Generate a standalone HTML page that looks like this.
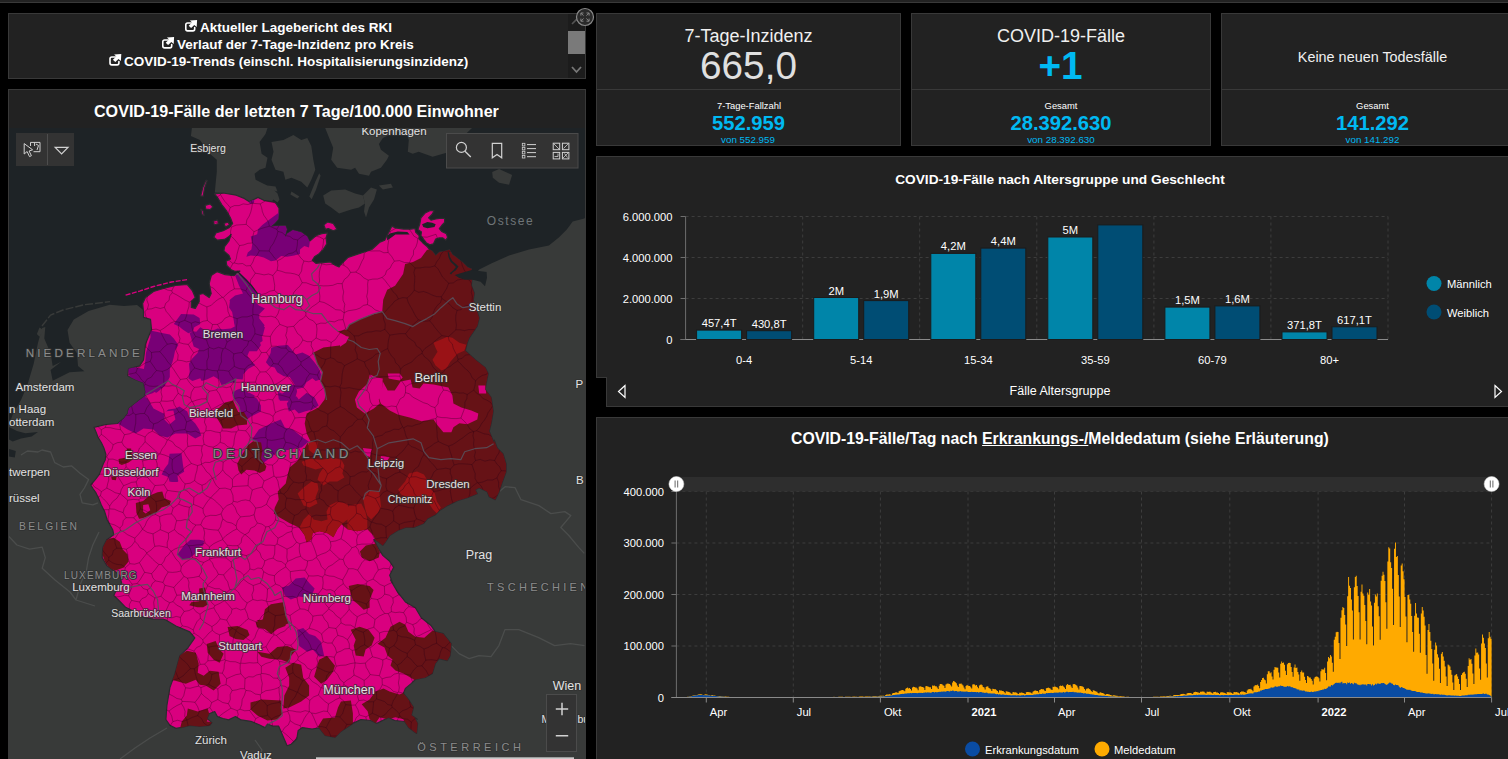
<!DOCTYPE html>
<html lang="de">
<head>
<meta charset="utf-8">
<title>COVID-19 Dashboard</title>
<style>
html,body{margin:0;padding:0;background:#000;}
body{width:1508px;height:759px;overflow:hidden;position:relative;font-family:"Liberation Sans",sans-serif;color:#fff;}
.abs{position:absolute;}
.panel{position:absolute;background:#222;border:1px solid #393939;box-sizing:border-box;}
.t{position:absolute;white-space:nowrap;line-height:1;}
.c{transform:translateX(-50%);}
.cy{color:#00b9f2;}
svg{position:absolute;left:0;top:0;overflow:visible;}
svg text{font-family:"Liberation Sans",sans-serif;}
</style>
</head>
<body>
<!-- top strip -->
<div class="abs" style="left:0;top:0;width:1508px;height:2px;background:#222;"></div>
<div class="abs" style="left:0;top:2px;width:1508px;height:1px;background:#393939;"></div>

<!-- ===== links panel ===== -->
<div class="panel" id="p-links" style="left:8px;top:13px;width:578px;height:66px;"></div>
<div class="abs" style="left:568px;top:14px;width:17px;height:64px;background:#1c1c1c;"></div>
<div class="abs" style="left:568px;top:31px;width:17px;height:23px;background:#7a7a7a;"></div>
<svg width="1508" height="759" id="ic-top">
  <path d="M572 24 L576.5 19.5 L581 24" fill="none" stroke="#555" stroke-width="1.6"/>
  <path d="M572 67 L576.5 72 L581 67" fill="none" stroke="#777" stroke-width="1.8"/>
  <circle cx="585" cy="17" r="8.5" fill="#2a2a2a" stroke="#8a8a8a" stroke-width="1.2"/>
  <path d="M580.9 15.6V13H583.5M586.5 13H589.1V15.6M589.1 18.6V21.2H586.5M583.5 21.2H580.9V18.6M581.2 13.3L583.6 15.7M588.8 13.3L586.4 15.7M588.8 20.9L586.4 18.5M581.2 20.9L583.6 18.5" fill="none" stroke="#8f8f8f" stroke-width="0.9"/>
</svg>
<svg width="1508" height="759" id="ic-links">
  <defs><g id="ext">
    <path d="M191.5 23H187.6Q185.8 23 185.8 24.8V29.1Q185.8 30.9 187.6 30.9H192.9Q194.7 30.9 194.7 29.1V27.6" fill="none" stroke="#fff" stroke-width="1.6" stroke-linecap="round"/>
    <path d="M189.9 20.4L197.1 20L196.7 27.1L194.3 24.9L191.1 27.9L188.7 25.7L192.1 22.6Z" fill="#fff"/>
  </g></defs>
  <use href="#ext"/><use href="#ext" x="-23" y="17"/><use href="#ext" x="-75.8" y="34"/>
</svg>
<div class="t" id="l1" style="left:200px;top:20.5px;font-size:13.5px;font-weight:bold;">Aktueller Lagebericht des RKI</div>
<div class="t" id="l2" style="left:177px;top:37.5px;font-size:13.5px;font-weight:bold;">Verlauf der 7-Tage-Inzidenz pro Kreis</div>
<div class="t" id="l3" style="left:124px;top:54.5px;font-size:13.5px;font-weight:bold;">COVID-19-Trends (einschl. Hospitalisierungsinzidenz)</div>

<!-- ===== map panel ===== -->
<div class="panel" id="p-map" style="left:8px;top:89px;width:578px;height:680px;"></div>
<div class="t" id="maptitle" style="left:94px;top:103px;font-size:16.1px;font-weight:bold;">COVID-19-Fälle der letzten 7 Tage/100.000 Einwohner</div>
<div class="abs" id="map" style="left:9px;top:128px;width:576px;height:631px;background:#383a39;overflow:hidden;">
<svg width="576" height="631" viewBox="0 0 576 631">
<defs><clipPath id="de"><path d="M205.5 65.8L208.4 69.4L212.7 76.6L217.8 83.2L221.4 89.7L223.6 95.5L220.0 99.8L214.2 102.7L206.9 104.9L204.8 109.2L208.4 112.1L215.6 111.4L220.0 108.5L222.2 106.3L220.0 112.9L215.6 118.7L214.9 123.0L220.0 127.4L221.4 131.0L217.1 133.2L217.8 137.5L222.2 141.9L225.8 143.3L230.9 143.0L225.1 147.6L216.1 146.6L208.2 143.6L202.2 147.6L200.2 155.5L202.2 165.5L200.2 169.5L194.2 165.5L190.2 166.5L190.2 173.5L186.3 180.4L182.3 179.4L182.3 173.5L186.3 169.5L183.3 162.5L178.3 156.5L166.4 157.5L154.4 160.5L144.5 163.5L136.5 169.5L133.6 175.4L134.5 183.4L134.5 189.4L141.5 191.4L142.5 201.3L136.5 215.9L134.5 231.8L130.6 237.8L119.6 240.8L118.6 247.8L126.6 251.7L134.5 254.7L136.5 263.7L135.5 268.6L128.6 273.6L119.6 280.6L118.6 285.5L114.7 290.5L108.7 295.5L96.8 296.5L85.0 299.3L87.0 303.9L89.0 309.2L92.3 314.5L94.9 319.9L96.9 326.5L96.3 331.8L94.3 335.8L92.3 341.1L90.3 346.4L86.3 351.7L81.7 357.0L84.3 361.0L87.0 364.9L89.6 370.2L92.3 376.9L95.6 383.5L98.2 392.0L103.7 401.7L104.7 406.7L97.7 411.7L93.8 419.6L93.2 429.6L97.7 437.5L104.7 442.5L110.7 447.5L112.7 455.4L106.7 463.4L104.7 467.4L110.7 473.3L116.6 479.3L124.6 483.3L134.5 489.3L144.5 491.2L154.4 491.2L156.9 492.0L166.9 498.0L180.8 503.9L185.8 509.9L178.8 519.8L170.8 527.8L165.9 545.7L160.9 559.6L157.9 577.5L156.9 591.5L160.9 597.4L166.9 600.4L172.8 599.4L180.8 597.4L190.7 598.4L200.7 597.4L202.9 594.6L198.1 590.5L200.1 585.7L205.7 583.5L208.4 588.5L214.0 590.5L219.6 591.9L226.5 588.5L232.1 591.9L241.9 593.3L250.2 596.8L255.8 599.6L258.6 596.0L264.1 598.2L269.7 598.2L273.9 608.0L278.1 617.7L282.2 616.3L287.8 610.8L289.2 602.4L293.4 599.6L303.1 601.0L310.1 599.8L316.1 607.4L326.0 609.4L332.0 603.4L343.9 595.4L351.9 591.5L361.8 592.5L367.8 595.4L379.7 589.5L385.7 592.5L395.6 593.5L399.6 599.4L407.6 605.4L408.6 595.4L405.6 589.5L408.4 591.2L402.4 587.3L404.4 579.3L399.4 571.4L394.4 565.4L396.4 560.4L402.4 555.4L406.4 551.5L416.3 549.5L423.3 545.5L426.3 535.5L430.2 530.6L438.2 532.6L441.2 527.6L442.2 515.7L434.2 505.7L426.3 503.7L422.3 497.8L412.3 489.8L406.4 479.8L396.4 473.9L388.5 463.9L381.5 452.0L383.7 455.2L380.7 447.3L384.7 439.3L380.7 433.3L373.8 427.4L368.8 419.4L364.8 411.5L368.8 413.5L373.8 417.4L376.8 413.5L380.7 407.5L388.7 402.5L396.6 399.5L404.6 399.5L414.5 395.5L418.5 390.6L426.5 386.6L430.5 382.6L438.4 377.6L448.4 372.7L458.3 369.7L468.3 365.7L466.3 361.7L470.2 359.7L478.2 363.7L480.2 368.7L486.2 371.7L490.1 363.7L493.1 354.8L497.1 343.8L497.1 335.9L494.1 325.9L488.2 320.0L485.2 312.0L485.2 315.2L480.2 303.3L482.2 295.3L484.2 283.4L482.2 269.5L476.2 261.5L477.2 255.5L479.2 245.6L476.2 239.6L466.3 231.7L456.3 222.7L458.3 214.8L460.3 209.8L468.3 197.9L470.2 189.9L464.3 172.0L465.3 165.2L462.3 157.3L463.3 149.3L462.9 144.3L462.3 140.8L458.8 139.6L454.0 134.8L448.1 130.1L443.3 126.5L440.4 121.8L436.2 123.0L430.3 124.2L426.7 127.7L423.2 123.0L420.8 121.8L418.4 118.8L413.7 114.7L410.1 111.1L410.1 107.6L406.6 104.0L406.0 100.5L401.8 101.1L394.7 101.1L386.4 99.9L382.9 98.1L378.1 107.6L375.7 112.3L371.0 114.1L362.8 121.5L350.9 125.4L339.0 129.4L331.0 137.4L330.1 139.0L326.5 137.5L321.4 133.9L314.2 134.6L306.9 135.3L303.3 132.4L305.5 128.8L309.8 125.9L314.2 121.6L317.8 115.8L317.1 110.0L318.5 104.9L312.7 105.6L306.9 107.8L301.1 112.9L300.4 112.9L298.2 108.5L292.4 104.2L283.8 102.0L278.0 105.6L275.8 109.2L278.0 101.3L276.5 97.7L269.3 97.7L262.0 98.4L265.6 95.5L269.3 91.1L270.0 84.6L270.0 80.3L266.4 74.5L263.5 73.7L254.8 72.3L249.0 69.4L243.2 72.3L240.3 73.7L234.5 70.1L227.2 67.2L214.2 65.0ZM410.7 96.3L411.9 89.8L416.1 85.0L420.8 82.7L425.0 82.7L423.2 86.2L419.6 89.8L422.0 92.2L426.7 91.0L430.3 90.4L435.6 90.4L435.6 94.5L432.7 97.5L430.3 100.5L432.7 103.4L437.4 105.8L438.6 109.4L436.8 112.3L433.8 109.9L430.3 109.9L426.7 111.1L424.4 115.9L420.8 116.8L417.2 114.7L414.9 111.7L411.9 107.6L412.5 104.0L408.9 101.6ZM314.9 96.9L318.5 94.0L324.3 95.5L328.0 101.3L324.3 102.7L319.3 100.6L316.4 101.3ZM191.7 67.9L193.9 59.2L197.1 52.0L198.2 52.6L195.6 60.0L194.2 68.2ZM196.1 77.4L201.1 75.9L204.0 78.8L201.1 81.7L196.8 81.0ZM191.7 81.0L193.9 82.4L195.3 87.5L193.2 86.8ZM204.0 93.3L208.4 91.9L209.8 95.5L205.5 96.9ZM214.9 95.5L219.3 94.0L220.7 96.9L216.4 99.1Z"/></clipPath></defs>
<path d="M0.0 0.0L182.9 -0.0L181.9 7.9L190.9 11.9L200.8 25.8L207.8 31.8L207.8 43.7L206.8 53.7L205.8 64.6L213.0 65.0L223.0 87.0L237.0 134.0L229.0 162.0L207.0 175.0L191.0 188.0L177.0 185.0L151.0 178.0L134.6 182.3L128.0 177.0L115.0 178.0L100.7 176.8L79.6 183.1L64.8 191.5L58.5 202.1L60.6 214.7L68.0 225.3L69.0 237.9L75.4 243.2L60.6 244.2L43.7 252.7L41.6 242.1L52.2 233.7L43.7 237.9L41.6 225.3L35.3 210.5L36.3 198.9L33.2 200.0L29.0 214.7L24.7 235.8L18.4 256.9L12.1 271.7L3.7 286.4L0.0 297.0Z" fill="#1e2326"/>
<path d="M264.5 71.6L268.5 74.6L270.5 71.6L268.5 65.6L262.5 59.6L254.5 55.7L246.6 51.7L245.6 45.7L250.6 41.7L256.5 39.7L258.5 29.8L252.6 25.8L250.6 13.9L256.5 5.9L258.5 -0.0L576.0 0.0L576.0 90.0L575.3 90.6L563.7 93.6L557.8 101.6L549.8 109.5L539.9 117.5L520.0 121.5L500.1 127.4L482.2 135.4L470.2 141.4L463.3 149.3L451.0 157.0L391.0 162.0L321.0 152.0L291.0 137.0L281.0 112.0L263.0 100.0L259.0 77.0Z" fill="#1e2326"/>
<path d="M262.5 13.9L274.4 11.9L284.4 6.9L292.3 11.9L298.3 9.9L302.3 17.9L304.3 31.8L306.3 41.7L302.3 51.7L298.3 59.6L292.3 53.7L282.4 49.7L276.4 51.7L274.4 43.7L266.5 41.7L262.5 31.8L264.5 23.8Z" fill="#383a39"/>
<path d="M300.3 68.6L306.3 53.7L310.2 45.3L311.6 47.7L307.1 61.6L302.7 71.2Z" fill="#383a39"/>
<path d="M258.5 57.6L266.5 58.6L268.5 63.6L260.5 61.6Z" fill="#383a39"/>
<path d="M282.4 63.6L290.4 68.6L288.4 70.6L281.4 66.6Z" fill="#383a39"/>
<path d="M316.2 -0.0L320.2 9.9L324.2 19.8L322.2 31.8L328.2 39.7L342.1 41.7L346.1 39.7L350.0 45.7L360.0 47.7L362.0 43.7L371.9 39.7L377.9 31.8L379.9 27.8L371.9 21.8L369.9 15.9L373.9 9.9L381.9 5.9L389.8 3.9L395.8 -0.0Z" fill="#383a39"/>
<path d="M395.8 -0.0L399.8 11.9L398.8 23.8L403.7 25.8L409.7 23.8L423.6 28.8L437.6 24.8L443.0 19.0L463.0 0.0Z" fill="#383a39"/>
<path d="M314.2 67.6L322.2 62.6L336.1 61.6L346.1 65.6L354.0 67.6L356.0 75.5L350.0 79.5L342.1 81.5L330.1 85.5L322.2 79.5L316.2 75.5Z" fill="#383a39"/>
<path d="M354.0 67.6L362.0 59.6L367.9 61.6L365.0 71.6L360.0 79.5L357.0 89.5L355.0 83.5L356.0 75.5Z" fill="#383a39"/>
<path d="M369.9 57.6L381.9 55.7L383.9 59.6L373.9 61.6Z" fill="#383a39"/>
<path d="M483.2 43.9L490.1 40.9L503.1 46.9L500.1 56.8L490.1 54.8L483.8 49.8Z" fill="#383a39"/>
<path d="M442.2 517.6L450.1 525.6L460.1 530.6L470.0 527.6L482.0 528.6L489.9 517.6L495.9 501.7L509.8 501.7L529.7 509.7L545.6 517.6L561.5 515.7L575.5 517.6M490.1 363.7L496.1 358.7L506.1 359.7L512.0 371.7L529.9 377.6L541.9 385.6L555.8 383.6L561.8 387.6L551.8 399.5L559.8 407.5L569.7 419.4L575.3 425.4M12.0 327.0L18.4 323.0L29.0 324.0L33.0 322.0L41.6 324.0L45.8 334.7L54.3 339.0L62.7 337.9L71.0 345.3L79.6 351.6L75.4 360.0L71.0 366.3L73.2 374.8L83.8 376.9L89.0 374.8M90.0 404.0L83.8 417.0L79.6 429.6L77.5 442.0L71.0 457.0L67.0 472.0L86.0 478.0M-0.1 408.5L7.9 417.0L20.5 421.2L33.2 419.1L36.3 429.6L33.2 440.2L46.0 452.0L61.0 464.0L67.0 472.0M158.0 600.0L141.0 610.0L126.0 620.0L111.0 631.0M246.0 612.0L253.0 622.0L249.0 631.0" fill="none" stroke="#4b4d4c" stroke-width="1.3" stroke-linejoin="round"/>
<path d="M116.6 167.1L130.6 163.1L144.5 158.5L162.4 154.0L178.3 151.6" fill="none" stroke="#d9007f" stroke-width="1.4" stroke-dasharray="5 1.5"/><path d="M33.0 198.0L41.6 187.0L54.0 182.0L75.0 176.8L101.0 173.6" fill="none" stroke="#383a39" stroke-width="1.4" stroke-dasharray="8 2"/><path d="M30.5 199.4L34.5 202.1L30.5 208.7L27.9 206.0Z" fill="#383a39"/><path d="M-0.1 298.9L7.9 303.0L16.3 305.2L29.0 304.1L22.6 308.4L12.0 310.5L3.7 313.6L-0.1 311.5ZM-0.1 321.0L6.8 323.0L5.8 329.4L-0.1 328.4Z" fill="#1e2326"/>
<path d="M205.5 65.8L208.4 69.4L212.7 76.6L217.8 83.2L221.4 89.7L223.6 95.5L220.0 99.8L214.2 102.7L206.9 104.9L204.8 109.2L208.4 112.1L215.6 111.4L220.0 108.5L222.2 106.3L220.0 112.9L215.6 118.7L214.9 123.0L220.0 127.4L221.4 131.0L217.1 133.2L217.8 137.5L222.2 141.9L225.8 143.3L230.9 143.0L225.1 147.6L216.1 146.6L208.2 143.6L202.2 147.6L200.2 155.5L202.2 165.5L200.2 169.5L194.2 165.5L190.2 166.5L190.2 173.5L186.3 180.4L182.3 179.4L182.3 173.5L186.3 169.5L183.3 162.5L178.3 156.5L166.4 157.5L154.4 160.5L144.5 163.5L136.5 169.5L133.6 175.4L134.5 183.4L134.5 189.4L141.5 191.4L142.5 201.3L136.5 215.9L134.5 231.8L130.6 237.8L119.6 240.8L118.6 247.8L126.6 251.7L134.5 254.7L136.5 263.7L135.5 268.6L128.6 273.6L119.6 280.6L118.6 285.5L114.7 290.5L108.7 295.5L96.8 296.5L85.0 299.3L87.0 303.9L89.0 309.2L92.3 314.5L94.9 319.9L96.9 326.5L96.3 331.8L94.3 335.8L92.3 341.1L90.3 346.4L86.3 351.7L81.7 357.0L84.3 361.0L87.0 364.9L89.6 370.2L92.3 376.9L95.6 383.5L98.2 392.0L103.7 401.7L104.7 406.7L97.7 411.7L93.8 419.6L93.2 429.6L97.7 437.5L104.7 442.5L110.7 447.5L112.7 455.4L106.7 463.4L104.7 467.4L110.7 473.3L116.6 479.3L124.6 483.3L134.5 489.3L144.5 491.2L154.4 491.2L156.9 492.0L166.9 498.0L180.8 503.9L185.8 509.9L178.8 519.8L170.8 527.8L165.9 545.7L160.9 559.6L157.9 577.5L156.9 591.5L160.9 597.4L166.9 600.4L172.8 599.4L180.8 597.4L190.7 598.4L200.7 597.4L202.9 594.6L198.1 590.5L200.1 585.7L205.7 583.5L208.4 588.5L214.0 590.5L219.6 591.9L226.5 588.5L232.1 591.9L241.9 593.3L250.2 596.8L255.8 599.6L258.6 596.0L264.1 598.2L269.7 598.2L273.9 608.0L278.1 617.7L282.2 616.3L287.8 610.8L289.2 602.4L293.4 599.6L303.1 601.0L310.1 599.8L316.1 607.4L326.0 609.4L332.0 603.4L343.9 595.4L351.9 591.5L361.8 592.5L367.8 595.4L379.7 589.5L385.7 592.5L395.6 593.5L399.6 599.4L407.6 605.4L408.6 595.4L405.6 589.5L408.4 591.2L402.4 587.3L404.4 579.3L399.4 571.4L394.4 565.4L396.4 560.4L402.4 555.4L406.4 551.5L416.3 549.5L423.3 545.5L426.3 535.5L430.2 530.6L438.2 532.6L441.2 527.6L442.2 515.7L434.2 505.7L426.3 503.7L422.3 497.8L412.3 489.8L406.4 479.8L396.4 473.9L388.5 463.9L381.5 452.0L383.7 455.2L380.7 447.3L384.7 439.3L380.7 433.3L373.8 427.4L368.8 419.4L364.8 411.5L368.8 413.5L373.8 417.4L376.8 413.5L380.7 407.5L388.7 402.5L396.6 399.5L404.6 399.5L414.5 395.5L418.5 390.6L426.5 386.6L430.5 382.6L438.4 377.6L448.4 372.7L458.3 369.7L468.3 365.7L466.3 361.7L470.2 359.7L478.2 363.7L480.2 368.7L486.2 371.7L490.1 363.7L493.1 354.8L497.1 343.8L497.1 335.9L494.1 325.9L488.2 320.0L485.2 312.0L485.2 315.2L480.2 303.3L482.2 295.3L484.2 283.4L482.2 269.5L476.2 261.5L477.2 255.5L479.2 245.6L476.2 239.6L466.3 231.7L456.3 222.7L458.3 214.8L460.3 209.8L468.3 197.9L470.2 189.9L464.3 172.0L465.3 165.2L462.3 157.3L463.3 149.3L462.9 144.3L462.3 140.8L458.8 139.6L454.0 134.8L448.1 130.1L443.3 126.5L440.4 121.8L436.2 123.0L430.3 124.2L426.7 127.7L423.2 123.0L420.8 121.8L418.4 118.8L413.7 114.7L410.1 111.1L410.1 107.6L406.6 104.0L406.0 100.5L401.8 101.1L394.7 101.1L386.4 99.9L382.9 98.1L378.1 107.6L375.7 112.3L371.0 114.1L362.8 121.5L350.9 125.4L339.0 129.4L331.0 137.4L330.1 139.0L326.5 137.5L321.4 133.9L314.2 134.6L306.9 135.3L303.3 132.4L305.5 128.8L309.8 125.9L314.2 121.6L317.8 115.8L317.1 110.0L318.5 104.9L312.7 105.6L306.9 107.8L301.1 112.9L300.4 112.9L298.2 108.5L292.4 104.2L283.8 102.0L278.0 105.6L275.8 109.2L278.0 101.3L276.5 97.7L269.3 97.7L262.0 98.4L265.6 95.5L269.3 91.1L270.0 84.6L270.0 80.3L266.4 74.5L263.5 73.7L254.8 72.3L249.0 69.4L243.2 72.3L240.3 73.7L234.5 70.1L227.2 67.2L214.2 65.0ZM410.7 96.3L411.9 89.8L416.1 85.0L420.8 82.7L425.0 82.7L423.2 86.2L419.6 89.8L422.0 92.2L426.7 91.0L430.3 90.4L435.6 90.4L435.6 94.5L432.7 97.5L430.3 100.5L432.7 103.4L437.4 105.8L438.6 109.4L436.8 112.3L433.8 109.9L430.3 109.9L426.7 111.1L424.4 115.9L420.8 116.8L417.2 114.7L414.9 111.7L411.9 107.6L412.5 104.0L408.9 101.6ZM314.9 96.9L318.5 94.0L324.3 95.5L328.0 101.3L324.3 102.7L319.3 100.6L316.4 101.3ZM191.7 67.9L193.9 59.2L197.1 52.0L198.2 52.6L195.6 60.0L194.2 68.2ZM196.1 77.4L201.1 75.9L204.0 78.8L201.1 81.7L196.8 81.0ZM191.7 81.0L193.9 82.4L195.3 87.5L193.2 86.8ZM204.0 93.3L208.4 91.9L209.8 95.5L205.5 96.9ZM214.9 95.5L219.3 94.0L220.7 96.9L216.4 99.1Z" fill="#d9007f" stroke="#2a2d2e" stroke-width="1.2" stroke-linejoin="round"/>
<g clip-path="url(#de)">
<path d="M241.7 108.5L248.2 106.3L249.0 101.3L253.3 96.9L259.1 92.6L264.9 88.2L270.0 84.6L270.7 91.1L265.6 95.5L262.0 98.4L269.3 97.7L276.5 97.2L278.2 101.3L275.8 109.2L278.0 105.6L283.8 101.7L292.4 103.9L298.5 108.2L300.9 112.9L300.0 119.4L295.3 117.9L291.0 121.6L291.0 125.9L285.2 127.4L278.0 128.8L272.2 128.1L266.4 132.4L262.0 133.2L254.8 129.5L249.0 128.1L241.7 127.4L237.4 128.8L238.8 124.5L242.4 121.6L243.2 115.8ZM239.6 73.7L241.7 71.6L245.3 72.3L244.9 75.2L241.0 75.9ZM226.1 147.6L231.0 145.6L238.0 151.6L242.0 157.5L247.9 165.5L244.0 171.5L249.9 177.4L255.9 180.4L249.9 186.4L250.9 195.3L255.9 199.3L253.9 207.3L249.9 211.2L251.9 217.2L247.9 223.2L226.1 223.2L224.1 211.2L226.1 199.3L225.1 195.3L224.1 185.4L220.1 179.4L221.1 171.5L226.1 167.5L234.0 165.5L230.0 157.5ZM164.8 195.9L172.1 185.9L184.7 186.6L190.6 189.9L191.3 195.9L185.3 199.2L184.0 203.2L179.4 205.2L174.1 201.8L170.1 198.5ZM121.0 250.2L127.6 251.6L134.3 254.2L140.9 256.9L144.9 264.8L136.9 267.5L134.3 272.8L121.0 272.8ZM140.9 202.5L147.5 203.8L154.2 205.2L160.8 206.5L164.8 210.5L169.4 217.1L166.1 222.4L164.8 229.0L163.4 234.3L160.8 241.0L160.8 248.9L159.5 251.6L155.5 258.2L147.5 264.8L143.5 263.5L140.9 256.9L134.3 254.2L127.6 251.6L121.0 250.2L118.3 239.0L127.6 239.6L134.9 241.0L136.3 233.0L136.9 225.1L139.6 215.8L141.6 209.1ZM180.7 205.2L184.0 203.2L187.3 203.8L191.3 199.2L195.3 201.8L200.6 202.5L205.9 201.8L208.5 200.5L213.8 201.2L221.8 200.5L225.8 198.5L224.4 190.6L223.1 183.9L221.8 177.3L220.5 172.0L244.3 172.0L248.3 178.6L255.0 181.3L250.3 185.3L250.3 190.6L255.6 197.2L252.3 202.5L253.6 213.1L248.3 216.4L243.0 214.4L244.3 218.4L240.4 223.1L238.4 227.7L241.0 231.7L246.3 237.0L239.0 241.0L234.4 246.3L233.7 251.6L227.1 250.9L225.8 254.2L219.1 255.6L212.5 256.9L209.9 251.6L204.6 248.3L197.9 251.6L192.6 252.9L191.3 250.2L183.3 252.9L179.4 250.2L180.7 243.6L180.0 235.7L183.3 230.4L188.6 225.1L190.0 221.1L184.7 218.4L182.7 211.8ZM135.5 268.6L138.5 270.6L144.5 280.6L154.4 285.5L159.4 281.6L166.4 280.6L170.4 278.6L178.3 283.6L180.3 289.5L186.3 295.5L190.2 301.5L192.2 307.4L186.3 310.4L178.3 305.4L166.4 305.4L158.4 309.4L150.5 307.4L144.5 301.5L134.5 300.5L126.6 305.4L118.6 301.5L108.7 295.5L114.7 290.5L118.6 285.5L119.6 280.6L128.6 273.6ZM224.1 265.7L228.0 261.7L234.0 259.7L242.0 267.6L247.9 270.6L251.9 277.6L251.9 283.6L242.0 288.5L238.0 291.5L232.0 285.5L230.0 277.6L226.1 271.6ZM256.9 234.3L261.6 225.1L262.2 219.7L269.5 217.8L278.8 217.1L283.5 222.4L286.8 226.4L293.4 224.4L300.0 227.7L305.4 234.3L309.3 239.6L312.0 246.3L311.3 251.6L306.7 252.9L303.4 250.2L297.4 254.2L294.7 259.5L288.1 260.9L284.1 254.2L280.8 248.9L274.8 248.3L268.2 244.3L265.6 239.6L260.3 238.3ZM223.1 264.8L227.1 262.2L232.4 263.5L240.4 264.8L245.7 267.5L244.3 272.8L225.8 272.8ZM269.5 267.5L274.8 264.8L281.5 256.9L286.8 256.9L288.1 263.5L285.5 272.8L270.9 272.8ZM277.8 275.6L281.8 269.6L287.7 268.6L289.7 271.6L297.7 264.7L305.6 269.6L309.6 277.6L303.6 281.6L295.7 283.6L289.7 285.5L285.7 281.6L279.8 283.6ZM268.8 263.7L277.8 267.6L276.8 272.6L269.8 271.6ZM243.0 311.4L249.9 301.5L261.9 295.5L271.8 291.5L275.8 299.5L283.7 301.5L293.7 309.4L299.7 313.4L292.7 319.4L281.8 321.4L269.8 323.3L261.9 329.3L253.9 335.3L249.9 331.3L249.9 321.4L246.9 313.4ZM160.6 325.8L172.5 325.2L173.8 335.8L175.2 343.7L168.5 347.7L169.2 353.7L160.6 353.7L159.2 349.0L152.6 346.4L155.3 341.1L159.2 335.8ZM168.4 426.6L174.3 418.6L181.3 411.7L190.2 411.7L195.2 412.7L194.2 417.6L188.3 419.6L186.3 425.6L180.3 430.6L173.3 431.6ZM272.8 459.4L279.8 457.4L286.7 450.5L295.7 449.5L300.7 455.4L305.6 460.4L303.6 465.4L297.7 469.4L289.7 468.4L281.8 471.4L275.8 467.4ZM288.2 501.9L294.2 500.0L300.1 505.9L306.1 507.9L312.1 513.9L315.1 527.8L310.1 528.8L304.1 521.8L298.2 523.8L290.2 517.9L289.2 509.9ZM161.4 352.0L169.4 352.0L168.4 354.0L162.4 354.0Z" fill="#780076"/>
<path d="M417.9 122.0L412.0 130.0L404.0 133.9L396.1 135.9L394.1 145.9L386.1 157.8L378.2 161.8L374.2 171.7L373.2 183.7L366.2 185.7L360.2 187.6L350.3 191.6L340.4 196.6L337.4 201.6L328.4 203.6L336.4 207.5L338.4 211.5L330.4 217.5L314.5 219.5L304.5 224.4L308.5 236.4L313.5 244.3L311.5 253.3L315.5 261.2L317.5 272.0L317.6 261.7L315.6 271.6L309.6 279.6L297.7 285.5L295.7 295.5L297.7 305.4L301.6 313.4L299.7 317.4L298.6 314.8L288.6 332.7L280.7 339.6L278.7 346.6L276.7 355.5L268.7 363.5L269.7 371.5L265.8 379.4L264.8 385.4L270.7 389.4L280.7 395.3L289.6 399.3L295.6 407.3L297.6 414.2L302.6 411.2L303.6 405.3L310.5 403.3L318.5 405.3L324.4 409.3L328.4 401.3L332.4 396.3L338.4 401.3L348.3 403.3L358.3 401.3L364.2 407.3L368.2 415.2L369.2 423.2L364.8 411.5L368.8 419.4L382.7 423.4L511.0 432.0L591.0 372.0L591.0 52.0L491.0 72.0L461.0 112.0ZM208.2 281.6L216.1 274.6L224.1 272.6L227.0 279.6L231.0 287.5L238.0 292.5L238.0 296.5L228.0 297.5L222.1 300.5L214.1 300.5L210.1 293.5L206.2 287.5ZM109.5 331.1L116.1 329.8L118.1 320.5L122.1 320.5L123.4 331.8L119.5 334.4L112.8 337.1L110.2 335.8ZM102.2 348.4L107.5 349.0L106.9 352.3L102.9 351.7ZM228.2 335.8L230.9 330.5L238.8 317.2L244.1 313.2L252.1 314.5L253.4 322.5L252.1 330.5L257.4 338.4L256.1 342.4L250.8 345.1L245.5 342.4L237.5 341.7L232.2 346.4L229.5 342.4ZM126.8 374.9L134.1 372.9L140.7 367.6L148.6 364.3L153.3 363.6L155.3 370.2L161.9 372.9L160.6 376.9L152.6 379.5L147.3 384.8L140.7 387.5L134.1 390.1L130.1 390.8L127.4 384.8ZM97.7 411.7L104.7 409.7L110.7 413.7L113.7 421.6L118.6 426.6L119.6 433.6L114.7 439.5L106.7 442.5L100.7 440.5L95.8 433.6L93.2 425.6L94.4 417.6ZM190.2 460.4L196.2 459.4L197.2 471.4L199.2 476.3L194.2 479.3L188.3 479.3L180.3 477.3L182.3 474.3L190.2 473.3ZM255.9 481.3L261.9 476.3L273.8 474.3L276.8 487.3L279.8 495.2L269.8 499.2L259.9 502.0L247.9 499.2L246.9 494.2L253.9 491.2ZM350.9 423.4L356.9 417.4L366.8 415.4L370.8 423.4L369.8 429.4L360.8 433.3L352.9 429.4ZM339.7 458.0L348.7 456.0L360.6 458.0L364.6 461.9L360.6 471.9L360.6 479.8L354.7 481.8L348.7 475.9L343.7 471.9L341.7 465.9ZM341.7 501.7L350.7 498.7L359.6 501.7L365.6 509.7L362.6 517.6L356.6 521.6L354.7 528.6L346.7 527.6L344.7 517.6L346.7 511.7ZM368.6 515.7L376.5 509.7L381.5 498.7L390.5 493.8L396.4 496.8L399.4 503.7L406.4 508.7L415.3 509.7L423.3 502.7L434.2 504.7L446.2 515.7L445.2 527.6L439.2 534.6L430.2 531.6L427.3 536.5L424.3 546.5L416.3 550.5L406.4 552.5L401.4 549.5L394.4 545.5L386.5 542.5L381.5 537.5L383.5 531.6L378.5 527.6L375.5 519.6ZM352.7 576.3L360.6 571.4L366.6 563.4L374.5 560.4L380.5 563.4L390.5 566.4L395.4 564.4L402.4 571.4L408.4 579.3L406.4 587.3L412.3 591.2L412.3 607.2L396.4 607.2L396.4 597.2L394.4 591.2L386.5 589.3L378.5 591.2L370.6 589.3L366.6 595.2L360.6 591.2L358.6 583.3ZM309.1 598.4L314.1 590.5L326.0 589.5L329.0 579.5L332.0 573.6L341.9 572.6L343.9 585.5L343.9 595.4L334.0 605.4L326.0 613.3L316.1 611.4ZM305.1 548.7L310.1 531.8L318.0 527.8L326.0 537.8L324.0 543.7L318.0 551.7L312.1 555.7ZM276.3 539.7L284.2 534.8L292.2 536.8L294.2 549.7L300.1 557.6L300.1 567.6L292.2 573.6L280.2 579.5L274.3 580.5L275.3 567.6L280.2 557.6L280.2 549.7ZM241.5 574.6L252.4 571.6L272.3 572.6L273.3 585.5L268.3 591.5L258.4 592.5L248.4 587.5L241.5 581.5ZM168.8 528.8L177.8 522.8L186.8 524.8L189.7 535.8L188.7 544.7L194.7 547.7L200.7 542.7L209.6 543.7L211.6 555.7L204.7 562.6L196.7 557.6L190.7 556.7L186.8 551.7L176.8 555.7L162.9 551.7ZM178.8 580.5L188.7 583.5L198.7 580.5L200.7 587.5L197.7 593.5L204.7 594.4L200.7 600.4L190.7 601.4L180.8 600.4L170.8 601.4L172.8 593.5L177.8 587.5ZM218.6 499.0L228.5 498.0L238.5 501.9L240.5 506.9L234.5 511.9L226.5 510.9L220.6 507.9ZM197.7 515.9L206.6 512.9L210.6 521.8L214.6 525.8L210.6 534.8L204.7 531.8L198.7 524.8ZM248.4 492.0L278.3 492.0L276.3 498.0L268.3 501.0L262.3 505.9L254.4 500.0L249.4 496.0ZM248.4 523.8L260.4 525.8L268.3 518.9L278.3 517.9L287.2 521.8L282.2 527.8L280.2 534.8L272.3 531.8L260.4 530.8L252.4 528.8ZM221.0 280.0L227.0 283.9L234.9 283.9L238.9 290.9L232.9 293.9L225.0 295.9L221.0 296.9Z" fill="#661216"/>
<path d="M360.8 246.6L367.8 249.6L373.8 250.6L372.8 261.5L369.8 271.5L370.8 275.4L364.8 280.4L355.9 285.4L347.9 279.4L345.9 271.5L349.9 263.5L358.8 255.5ZM378.7 245.6L390.7 245.6L393.7 249.6L390.7 252.6L384.7 251.6L379.7 250.6ZM373.8 253.6L378.7 262.5L385.7 262.5L391.7 253.6L401.6 251.6L403.6 259.5L410.6 260.5L414.5 255.5L424.5 256.5L439.4 259.5L443.4 267.5L444.4 275.4L452.3 279.4L462.3 282.4L469.3 285.4L468.3 291.4L458.3 296.3L450.4 295.3L444.4 299.3L442.4 304.3L434.4 304.3L428.5 297.3L424.5 291.4L412.6 293.3L400.6 289.4L388.7 286.4L380.7 282.4L371.8 275.4L369.8 269.5L372.8 261.5ZM469.3 257.5L476.2 257.5L477.2 265.5L470.2 265.5ZM331.0 206.8L340.0 208.8L337.0 214.8L331.0 218.7ZM353.9 320.0L362.8 321.0L360.8 328.9L355.9 326.9ZM371.8 327.9L380.7 328.9L378.7 331.9L373.8 335.9L371.8 340.8ZM134.1 376.9L139.4 376.2L141.3 382.2L136.7 385.5L134.1 383.5ZM155.4 283.6L164.4 282.6L166.4 291.5L160.4 296.5L155.4 291.5Z" fill="#d9007f"/>
<path d="M424.5 214.8L438.4 208.8L443.4 209.8L450.4 214.8L457.3 216.8L455.3 222.7L448.4 225.7L441.4 233.7L437.4 240.6L432.5 242.6L426.5 237.6L423.5 231.7L428.5 223.7L426.5 219.7ZM299.6 313.8L308.5 314.2L309.5 321.7L304.5 325.7L299.6 321.7ZM292.6 333.7L300.6 330.7L312.5 331.7L324.4 329.7L332.4 331.7L335.4 337.6L333.4 345.6L335.4 349.6L328.4 353.6L320.5 353.6L314.5 357.5L308.5 351.6L310.5 345.6L314.5 339.6L306.5 341.6L300.6 339.6L294.6 337.6ZM288.6 365.5L294.6 359.5L302.6 353.6L308.5 355.5L309.5 361.5L306.5 369.5L308.5 375.4L300.6 379.4L294.6 377.4L291.6 371.5ZM317.5 383.4L320.5 377.4L328.4 373.5L338.4 375.4L340.4 383.4L338.4 391.4L332.4 396.3L328.4 401.3L324.4 409.3L318.5 405.3L310.5 403.3L303.6 405.3L302.6 411.2L297.6 414.2L295.6 407.3L290.6 399.3L294.6 391.4L300.6 385.4L304.5 391.4L312.5 393.3L318.5 391.4ZM335.4 383.4L340.4 377.4L352.3 375.4L356.3 383.4L358.3 391.4L358.3 401.3L348.3 403.3L338.4 401.3L338.4 391.4ZM354.3 371.5L356.3 365.5L360.2 362.5L370.2 363.5L371.2 371.5L372.2 379.4L368.2 385.4L362.2 391.4L358.3 387.4L356.3 381.4ZM389.1 361.5L396.1 353.6L400.0 345.6L408.0 343.6L415.0 346.6L417.9 351.6L419.9 359.5L425.9 365.5L427.9 373.5L431.9 379.4L427.9 385.4L423.9 381.4L419.9 375.4L412.0 371.5L400.0 369.5L392.1 366.5Z" fill="#9a1216"/>
<path d="M462.9 156.2L463.2 160.2L462.2 164.2L463.4 168.2L463.1 172.2L463.2 176.2M463.2 176.2L466.2 179.4L469.8 181.8L473.5 184.1M170.5 85.6L175.0 87.3L178.9 90.4L183.5 91.7L188.1 93.2M170.5 85.6L166.3 86.1L162.1 85.3L158.0 84.9L153.9 84.0L149.6 84.4L145.5 84.0L141.3 83.2L137.1 84.0L133.0 83.0M188.1 93.2L191.5 96.2L193.7 100.1L195.6 104.3L199.9 106.6L201.6 110.9L204.6 114.2L207.4 117.6M133.0 83.0L135.2 86.5L138.9 88.8L140.3 93.0L143.7 95.5L145.8 99.1L149.5 101.4L151.4 105.3L154.3 108.2L157.2 111.2L159.3 114.7L162.3 117.6L165.7 120.2L168.7 123.0L170.6 126.8M195.5 129.9L191.3 129.6L187.1 129.6L183.1 127.4L178.8 128.6L174.7 127.8L170.6 126.8M195.5 129.9L198.8 126.2L203.4 124.1L207.0 120.6M207.4 117.6L207.0 120.6M170.5 85.6L174.3 84.1L178.3 83.0L181.7 80.6L185.3 78.6L189.0 76.6L193.0 75.6L197.0 74.4L200.3 71.8L204.2 70.4L208.2 69.2L211.5 66.6M188.1 93.2L192.3 93.6L196.6 94.3L200.8 93.2L205.0 94.1L209.2 94.4L213.5 92.7L217.7 93.4M217.7 93.4L219.3 88.9L219.8 84.1L221.2 79.5M221.2 79.5L218.6 76.4L215.8 73.4L213.6 70.1L211.5 66.6M448.2 124.8L449.4 129.4L452.2 133.3L453.4 137.9L455.3 142.2L458.2 146.0M457.3 150.3L458.2 146.0M457.3 150.3L460.8 152.6L462.9 156.2M133.0 83.0L129.0 81.9L126.0 78.6L122.0 77.6L118.3 75.9L114.8 73.7L110.3 73.7L107.4 70.2L103.1 69.8L99.8 67.3L96.1 65.6L92.0 64.6L88.1 63.2L84.4 61.7L81.4 58.4L77.1 57.9L73.6 55.7M211.7 66.0L211.5 66.6M236.3 268.8L235.4 264.0L235.4 259.1L235.9 254.3M236.3 268.8L240.4 269.5L244.5 269.4L248.6 268.5M250.8 259.9L250.5 264.5L248.6 268.5M250.8 259.9L246.5 254.1M235.9 254.3L241.2 254.2L246.5 254.1M75.9 372.5L81.9 373.5M81.9 373.5L85.1 378.6L87.8 384.0M87.8 384.0L86.3 388.1L84.3 392.0L81.7 395.6M494.4 312.4L492.8 316.5L490.7 320.3L490.0 324.8L487.5 328.5L485.6 332.5M485.6 332.5L487.8 335.9L490.7 338.9L492.3 342.7M497.1 342.9L492.3 342.7M493.1 366.9L491.1 362.9L489.6 358.7L489.6 354.1L488.0 349.9M488.0 349.9L489.7 346.1L492.3 342.7M250.8 259.9L255.7 259.6L260.1 257.1L265.0 257.1M248.6 268.5L251.1 272.0M263.7 271.9L259.5 271.3L255.3 272.7L251.1 272.0M263.7 271.9L267.3 266.5M267.3 266.5L265.2 262.0L265.0 257.1M257.0 243.8L251.2 244.0M257.0 243.8L260.6 247.6L263.2 252.0L265.1 256.9M246.5 254.1L248.0 248.6L251.2 244.0M265.1 256.9L265.0 257.1M509.0 227.5L504.4 226.9L500.2 225.2L496.1 223.4L491.9 221.7L487.6 220.1L483.1 219.2L479.3 216.6M473.5 184.1L472.9 188.8L470.6 193.0L470.5 197.8L468.3 202.0M468.3 202.0L470.6 206.0L474.3 208.9L476.4 213.0L479.3 216.6M494.4 312.4L490.7 310.7L486.4 310.5L482.9 308.3L479.3 306.4L475.1 305.8L471.3 304.3L467.6 302.7M467.6 302.7L470.5 299.5L472.5 295.7L475.2 292.4L477.5 288.8L479.1 284.7L481.6 281.2L483.9 277.6M509.0 227.5L505.3 229.3L501.7 231.3L498.3 233.6L494.4 235.2L491.5 238.2L488.1 240.7L484.8 243.1L480.2 243.5L477.2 246.4L473.1 247.5L469.6 249.8L466.6 252.7M479.3 216.6L475.4 218.4L471.3 219.4L468.4 223.1L464.3 224.3L460.7 226.6L456.3 227.1L453.2 230.3L449.0 231.3M449.0 231.3L448.7 233.0M466.6 252.7L463.1 249.8L461.3 245.5L458.3 242.2L454.8 239.4L452.0 236.0L448.7 233.0M483.9 277.6L481.4 274.3L477.8 272.1L473.9 270.5L471.2 267.2L467.6 265.2L464.8 262.1M466.6 252.7L466.0 257.4L464.8 262.1M426.0 279.6L426.7 284.2L428.0 288.7M426.0 279.6L429.0 275.7L429.5 270.5L431.6 266.1L434.5 262.1M428.0 288.7L432.8 289.6L437.5 289.7L442.3 290.5L447.1 290.6L451.9 290.1M451.9 290.1L453.3 286.3L454.8 282.4L455.8 278.5L455.9 274.3L457.8 270.6L458.2 266.5M458.2 266.5L454.4 264.9L450.3 265.1L446.4 264.2L442.2 264.6L438.5 262.6L434.5 262.1M464.8 262.1L458.2 266.5M448.7 233.0L444.7 235.4L441.2 238.4L437.0 240.4L434.1 244.4L429.7 246.2M434.5 262.1L432.5 257.1L430.7 252.2L429.5 246.9M429.7 246.2L429.5 246.9M203.2 144.7L201.2 141.0L198.5 137.7L196.9 133.8L195.5 129.9M203.2 144.7L207.5 143.7L211.8 143.4L215.9 141.6L220.4 141.9M207.0 120.6L210.3 123.6L213.9 126.4L217.1 129.5L220.4 132.6L223.9 135.5M220.4 141.9L223.9 135.5M135.9 183.5L136.8 188.4L139.1 192.7L140.6 197.4L142.9 201.7M138.0 208.5L141.2 205.7L142.9 201.7M155.4 179.3L156.7 175.3L160.1 172.4L160.6 168.0L163.3 164.7M155.4 179.3L151.2 180.5L146.7 179.3L142.5 180.8L138.3 181.3M138.3 181.3L139.6 176.8L137.8 172.0L138.4 167.4L139.7 162.9L140.2 158.3L140.0 153.7M140.0 153.7L143.8 155.2L147.5 157.1L151.2 158.8L155.0 160.4L158.7 162.1L162.8 162.8M162.8 162.8L163.3 164.7M151.1 202.5L154.8 200.3L158.2 197.7L161.6 195.1L165.7 193.4M151.1 202.5L147.1 201.1L142.9 201.7M165.7 193.4L162.7 190.2L160.1 186.7L157.2 183.4L155.4 179.3M135.9 183.5L138.3 181.3M170.6 126.8L170.9 131.1L171.9 135.2L171.9 139.5L173.7 143.5M73.6 55.7L75.9 59.1L77.9 62.7L81.2 65.4L83.3 68.9L85.3 72.5L87.7 75.7L89.6 79.4L91.1 83.3L94.5 85.9L96.5 89.5L98.8 92.9L100.8 96.5L103.2 99.7L104.9 103.5L107.9 106.4L109.5 110.3L112.4 113.2L114.5 116.7L116.3 120.5L119.6 123.1L122.5 126.1L124.3 129.8L126.6 133.2L129.3 136.3L131.7 139.6L133.0 143.7L135.3 147.0L137.2 150.7L140.0 153.7M173.7 143.5L170.9 147.0L170.2 151.7L167.4 155.2L164.7 158.8L162.8 162.8M96.2 299.5L101.4 299.7L106.5 301.0L111.6 301.7M96.2 299.5L97.8 295.4L100.4 291.8L101.6 287.5L103.4 283.5M111.6 301.7L110.8 297.3L112.4 293.0L112.3 288.7M103.4 283.5L107.9 286.1L112.3 288.7M224.7 254.3L230.1 254.3L235.4 253.8M224.7 254.3L223.9 250.2L221.3 246.9L219.8 243.2M235.4 253.8L235.2 249.6L235.4 245.4L235.8 241.2M235.8 241.2L230.3 240.6L225.3 238.4M219.8 243.2L225.3 238.4M235.9 254.3L235.4 253.8M251.2 244.0L247.7 239.3L243.1 235.8M243.1 235.8L238.8 237.7L235.8 241.2M181.4 540.7L177.6 544.1L174.1 547.9L169.6 550.5M181.4 540.7L179.0 536.7L175.7 533.5L172.1 530.6L169.1 527.2M161.8 536.6L165.3 540.7L167.4 545.6L169.5 550.5M161.8 536.6L165.5 532.0L168.9 527.3M169.6 550.5L169.5 550.5M169.1 527.2L168.9 527.3M127.8 542.2L132.2 542.6L136.4 541.6L140.6 540.4L144.7 538.5L149.0 538.4L153.3 537.8L157.6 537.2L161.8 536.6M127.8 542.2L131.3 544.8L136.0 544.7L139.5 547.2L143.3 549.3L147.1 551.2L151.5 551.8L154.8 554.8L159.0 555.8M159.0 555.8L163.9 552.3L169.5 550.5M160.0 566.0L164.0 568.0L167.9 570.5L172.4 571.4M160.0 566.0L159.5 560.9L159.0 555.8M176.6 559.8L173.7 554.8L169.6 550.5M176.6 559.8L175.6 563.8L174.7 567.8L172.4 571.4M75.9 372.5L75.6 367.9L76.6 363.5L76.6 359.0M81.9 373.5L86.7 370.6L91.4 367.8M76.6 359.0L83.1 355.8M91.4 367.8L92.4 363.6M83.1 355.8L85.7 359.1L89.2 361.1L92.4 363.6M91.4 367.8L94.7 371.0L97.9 374.4L100.6 378.1M110.7 365.8L107.8 370.3L103.6 373.7L100.6 378.1M110.7 365.8L106.1 364.7L102.0 362.2L97.8 360.1M92.4 363.6L97.8 360.1M414.6 604.5L415.4 600.4L416.5 596.4L416.0 592.2M478.7 587.4L474.9 585.5L471.1 584.0L467.0 583.2L463.2 581.6L459.0 581.1M416.0 592.2L420.0 591.3L423.9 590.4L427.6 588.5L431.6 587.9L435.8 588.1L439.4 585.7L443.5 585.5L447.2 583.9L451.2 583.2L455.3 582.7L459.0 581.1M414.6 604.5L410.0 605.5L406.1 608.1M463.2 176.2L459.2 177.2L455.3 178.3L452.2 181.6L448.1 182.3M468.3 202.0L464.0 201.6L459.8 201.5L455.5 202.6L451.2 201.8L446.9 201.8M448.1 182.3L446.8 187.1L446.7 192.0L447.4 197.0L446.9 201.8M449.0 231.3L447.9 227.3L445.9 223.7L444.2 220.0L443.3 215.9L440.1 212.8L439.3 208.7M439.3 208.7L443.1 205.3L446.9 201.8M393.7 299.0L394.7 299.8M393.7 299.0L391.8 295.1L390.5 291.0L389.8 286.8L388.4 282.7L387.3 278.6M394.7 299.8L398.5 297.8L403.0 298.3L406.9 296.7L411.0 295.8L414.6 293.3L418.8 292.7L422.7 291.3L426.9 290.6M426.0 279.6L422.0 278.3L418.6 275.9L414.5 274.7L410.8 272.8L407.2 270.9L403.5 269.0L400.5 265.8L396.5 264.6M426.9 290.6L428.0 288.7M387.3 278.6L389.3 274.9L391.0 271.0L395.0 268.6L396.5 264.6M364.6 309.9L368.7 308.3L373.1 307.3L376.7 304.3L381.0 303.2L385.0 301.2L389.9 301.5L393.7 299.0M364.6 309.9L362.5 306.0L360.3 302.3L358.4 298.3L356.2 294.5L353.2 291.1M353.2 291.1L355.4 287.4L359.3 284.9L360.8 280.6L363.8 277.4M387.3 278.6L382.6 278.0L377.8 279.1L373.2 277.6L368.5 277.4L363.8 277.4M429.5 246.9L425.4 248.4L421.4 250.1L416.9 250.6L412.8 252.1L409.1 254.7L404.6 255.0L400.4 256.3L396.6 258.8M396.5 264.6L396.6 258.8M243.9 170.9L239.9 167.3L236.9 162.9M243.9 170.9L248.4 169.6L252.2 166.6L256.7 165.5L260.7 163.2L265.4 162.3M236.9 162.9L238.5 159.2L241.4 156.2L241.7 151.8L244.1 148.6L246.3 145.2M265.4 162.3L265.7 157.3L264.8 152.4L263.9 147.5M246.3 145.2L250.7 145.9L255.0 146.9L259.6 146.0L263.9 147.5M243.9 170.9L244.5 176.1L243.8 181.3L243.9 186.5M265.4 162.3L269.5 166.0L273.7 169.7M243.9 186.5L248.5 186.9L252.8 188.7L257.4 188.7L262.1 188.2L266.5 189.5M273.7 169.7L273.0 173.9L270.3 177.4L270.2 181.9L268.9 185.9L266.5 189.5M243.9 186.5L243.2 187.4M270.9 196.4L269.2 192.6L266.5 189.5M270.9 196.4L267.1 199.8L263.9 203.9L261.4 208.4M261.4 208.4L256.1 208.1L251.0 207.2L245.9 205.7M245.9 205.7L245.8 201.0L243.8 196.6L244.3 191.9L243.2 187.4M84.9 296.3L88.9 298.5L92.3 301.7M84.9 296.3L84.4 292.0L84.0 287.7L82.6 283.6L82.8 279.2L82.1 274.9L79.7 270.9L79.9 266.6L79.4 262.3M92.3 301.7L96.2 299.5M103.4 283.5L101.1 279.7L100.4 275.1L97.6 271.5M79.4 262.3L82.8 264.5L86.4 266.6L90.4 267.7L94.0 269.7L97.6 271.5M124.2 285.0L120.6 287.3L116.2 287.3L112.3 288.7M124.2 285.0L123.2 280.7L122.1 276.4L119.6 272.5L119.5 267.9M119.5 267.9L118.7 267.6M97.6 271.5L101.9 271.4L105.9 269.5L110.2 268.9L114.6 269.1L118.7 267.6M151.1 202.5L153.2 207.2L155.6 211.9L158.3 216.3M137.0 219.1L142.4 224.5M137.0 219.1L137.2 213.8L138.0 208.5M158.3 216.3L154.3 219.7L150.9 223.7M142.4 224.5L146.6 223.9L150.9 223.7M158.3 216.3L162.9 215.4L167.4 216.6M150.9 223.7L153.8 227.1L156.7 230.7L159.1 234.5L162.4 237.6M162.4 237.6L165.4 234.8L168.6 232.2M168.6 232.2L169.2 226.9L166.8 221.9L167.4 216.6M170.4 194.4L165.7 193.4M170.4 194.4L169.3 198.4L170.1 202.4L169.4 206.4L171.0 210.5L170.1 214.5M170.1 214.5L167.4 216.6M170.4 194.4L175.7 192.3M163.3 164.7L167.7 166.9L171.8 169.4L175.9 172.0L180.3 174.0M180.3 174.0L179.9 178.8L178.4 183.2L177.5 187.9L175.7 192.3M89.1 327.5L87.5 323.1L87.2 318.6L86.3 314.1M89.1 327.5L84.9 330.2L80.4 332.5L76.1 335.2M92.3 301.7L92.3 306.3M92.3 306.3L89.2 310.1L86.3 314.1M85.6 346.8L84.0 351.2L83.1 355.8M85.6 346.8L82.2 343.1L79.8 338.6L76.1 335.2M236.3 268.8L234.5 270.4M249.1 282.3L249.9 277.1L251.1 272.0M249.1 282.3L243.1 286.1M234.5 270.4L236.0 274.5L237.2 278.5L237.5 282.9M243.1 286.1L237.5 282.9M224.7 254.3L221.6 258.6M234.5 270.4L230.0 269.5L225.4 270.5M221.6 258.6L223.0 262.5L224.4 266.4L225.4 270.5M160.0 583.0L162.7 588.0L163.9 593.6M160.0 583.0L154.3 580.7M154.3 580.7L150.8 582.6L147.5 585.0L143.8 586.5L140.7 589.1L137.7 591.9L134.3 594.0L130.4 595.3M130.4 595.3L134.7 596.1L139.3 594.9L143.5 597.1L148.0 596.3L152.4 597.4L156.8 596.9L161.2 597.5M161.2 597.5L163.9 593.6M172.4 575.5L168.0 577.5L163.9 580.0L160.0 583.0M172.4 575.5L174.7 579.3L176.1 583.4L175.7 588.2L178.0 592.0M178.0 592.0L177.9 592.0M177.9 592.0L173.4 593.5L168.5 592.3L163.9 593.6M173.1 573.4L172.4 575.5M173.1 573.4L172.4 571.4M160.0 566.0L157.6 569.5L153.7 571.3M153.7 571.3L154.8 576.0L154.3 580.7M163.9 610.6L163.0 606.2L162.4 601.8L161.2 597.5M163.9 610.6L167.7 608.4L172.1 607.3L176.5 606.4L180.1 603.7M180.1 603.7L179.1 597.8L177.9 592.0M173.1 573.4L177.4 573.6L181.7 573.8L186.0 574.3M178.0 592.0L183.2 589.4L188.7 587.6M186.0 574.3L188.6 578.6L190.4 583.4M188.7 587.6L190.4 583.4M186.0 574.3L189.4 570.0L192.4 565.4M192.4 565.4L195.7 568.6L199.4 571.3L202.7 574.5M202.7 574.5L201.0 579.6M190.4 583.4L195.7 581.6L201.0 579.6M103.0 468.1L104.3 463.6L103.0 459.0L103.7 454.5M96.7 449.8L100.4 451.8L103.7 454.5M97.2 434.9L96.8 439.8L96.6 444.8L96.7 449.8M123.0 456.2L120.1 452.1L115.9 449.3M123.0 456.2L122.6 460.3L120.8 463.9L119.7 467.8M115.9 449.3L111.5 450.2L108.1 453.6L103.7 454.5M119.7 467.8L115.7 467.2L111.7 468.3L107.8 468.9L103.8 469.0M103.8 469.0L103.0 468.1M127.8 542.2L121.9 541.0L115.9 540.6M168.9 527.3L165.5 525.0L162.2 522.5L158.7 520.4L155.0 518.7L151.4 516.6M148.1 516.9L151.4 516.6M148.1 516.9L144.2 518.5L141.2 521.6L136.9 522.5L133.6 525.1L130.0 527.2L126.8 529.9M126.8 529.9L123.2 533.5L119.7 537.2L115.9 540.6M153.7 571.3L149.6 570.0L146.2 567.5L142.3 565.9L138.4 564.2L134.1 563.3L131.0 560.1L126.8 558.9L123.3 556.6L119.0 555.8L115.4 553.4L111.1 552.7L107.6 550.2L104.0 547.8L100.0 546.5M115.9 540.6L111.7 541.3L108.0 543.7L103.8 544.5L100.0 546.5M148.1 516.9L147.1 512.5L148.0 508.2L148.3 503.8L148.0 499.5M148.0 499.5L142.5 495.5M126.8 529.9L127.4 525.7L128.6 521.7L130.2 517.8L132.4 514.1L132.6 509.8L134.7 506.0L136.1 502.1L136.3 497.8M142.5 495.5L136.3 497.8M151.9 468.3L155.9 472.0L160.6 474.7M151.9 468.3L154.4 463.0L155.9 457.3M155.9 457.3L160.4 458.4L164.9 459.5M164.9 459.5L166.2 463.4L167.8 467.2M160.6 474.7L164.1 473.6M164.1 473.6L167.8 467.2M155.9 484.7L150.1 485.2L144.5 483.6M155.9 484.7L158.8 489.4M148.0 499.5L152.7 498.5L156.9 496.2M144.5 483.6L143.4 487.5L144.3 491.7L142.5 495.5M158.8 489.4L156.9 496.2M151.4 516.6L154.3 513.6L158.1 511.6L160.7 508.2L164.2 505.8M156.9 496.2L159.9 499.0L162.1 502.3L164.2 505.8M443.9 475.7L440.2 478.4L435.6 479.2L431.3 480.6L427.4 482.9L423.1 484.2L419.6 487.4L415.1 488.4M443.9 475.7L446.7 472.6L449.6 469.6L452.1 466.1L453.8 462.2L456.7 459.1L459.7 456.2L461.7 452.3L465.2 449.8L466.7 445.6L470.1 442.9M415.1 488.4L412.2 484.9L410.3 480.7M470.1 442.9L465.6 442.9L461.1 442.8L456.8 441.1L452.2 441.7L447.9 440.6L443.3 441.0L438.9 440.4L434.5 439.7M410.3 480.7L413.1 477.3L415.0 473.4L417.2 469.7L418.9 465.7L420.8 461.8L424.0 458.6L425.8 454.6L427.5 450.6L429.3 446.6L432.6 443.6L434.5 439.7M443.9 475.7L442.6 480.2L440.6 484.3L437.9 488.2L436.4 492.5L435.5 497.1M415.1 488.4L415.0 489.3M435.5 497.1L430.5 499.8L426.1 503.5M426.1 503.5L422.2 501.8M422.2 501.8L419.5 497.8L417.7 493.3L415.0 489.3M419.8 547.6L416.9 542.3L412.9 537.8M419.8 547.6L424.9 544.6L430.7 543.5M428.2 532.6L432.2 539.3M428.2 532.6L422.5 531.7L416.8 532.1M416.8 532.1L412.9 537.8M430.7 543.5L432.2 539.3M415.0 521.0L419.4 519.4L423.3 516.8L427.6 515.3M415.0 521.0L415.4 526.6L416.8 532.1M427.6 515.3L433.5 519.6M433.5 519.6L431.5 523.9L430.4 528.5L428.2 532.6M478.7 587.4L476.7 583.7L473.9 580.6L471.6 577.2L468.8 574.0L467.4 570.0L464.4 567.0L461.7 563.9L459.7 560.2L457.7 556.5L454.7 553.5L452.6 549.9L449.5 547.1L447.7 543.3L445.8 539.5L443.0 536.4M459.0 581.1L453.1 577.7M453.1 577.7L449.9 574.9L449.4 570.4L446.0 567.7L444.1 564.0L441.4 560.9L438.9 557.7L437.4 553.8L435.6 550.1L433.5 546.6L430.7 543.5M443.0 536.4L437.8 538.6L432.2 539.3M419.2 550.3L414.5 551.9L410.5 554.7L406.4 557.4M419.2 550.3L421.0 554.6L423.1 558.9L425.6 562.9L428.9 566.3L431.3 570.4M420.0 570.9L425.7 571.7L431.3 570.4M420.0 570.9L415.8 569.7L412.9 566.3L409.2 564.2L405.2 562.8M405.2 562.8L406.4 557.4M408.3 538.3L404.5 542.4L401.4 547.1M408.3 538.3L412.9 537.8M401.4 547.1L403.1 552.6L406.4 557.4M419.8 547.6L419.2 550.3M453.1 577.7L448.6 576.5L444.7 573.8L439.9 573.6L435.7 571.6L431.3 570.4M399.2 316.0L398.9 311.7L396.9 307.9L395.9 303.9L394.7 299.8M399.2 316.0L402.7 318.7L406.7 320.1L410.5 322.2L414.4 323.9M426.9 290.6L427.6 295.1L427.6 299.8L428.1 304.3L428.2 309.0L429.3 313.5M429.3 313.5L425.2 315.6L421.6 318.4L417.7 320.7L414.4 323.9M466.5 332.5L463.0 336.6M466.5 332.5L465.4 328.4L466.4 324.2L465.2 320.1L464.5 316.0L465.0 311.8L463.9 307.8L464.7 303.6M463.0 336.6L458.5 336.1L454.0 335.8L449.6 335.8L445.1 337.0M445.1 337.0L443.6 332.3L442.5 327.5L440.9 322.9L439.7 318.1M439.7 318.1L443.6 316.6L447.0 314.5L450.3 312.0L453.9 309.8L457.0 307.2L460.4 304.8L464.4 303.5M464.4 303.5L464.7 303.6M485.6 332.5L480.8 331.9L476.0 333.2L471.2 331.4L466.5 332.5M467.6 302.7L464.7 303.6M441.4 341.1L445.1 337.0M441.4 341.1L436.9 340.2L432.4 340.9L428.0 341.4M428.0 341.4L425.1 337.4L421.5 334.0L418.5 329.9L414.8 326.7M429.3 313.5L434.4 316.0L439.7 318.1M414.4 323.9L414.8 326.7M451.9 290.1L455.3 293.2L458.3 296.7L460.7 300.7L464.4 303.5M461.1 360.4L464.6 357.4L468.3 354.6M461.1 360.4L460.9 365.4L459.6 370.3L459.0 375.3M479.7 370.6L476.3 367.2L474.4 362.7L472.4 358.4L469.1 354.9M479.7 370.6L477.9 374.4L475.4 378.0L473.8 381.9L472.0 385.8L470.9 390.0M469.1 354.9L468.3 354.6M470.9 390.0L467.3 386.8L465.4 382.2L461.4 379.4L459.0 375.3M443.1 357.2L447.7 357.4L452.1 358.9L456.5 360.0L461.1 360.4M443.1 357.2L442.4 353.2L442.9 349.1L441.3 345.2L441.4 341.1M463.0 336.6L464.4 341.1L466.2 345.5L466.0 350.4L468.3 354.6M441.5 359.5L443.1 357.2M441.5 359.5L441.4 363.6L442.0 367.6L442.7 371.6L444.2 375.5M444.2 375.5L449.1 374.6L454.0 374.5L459.0 375.3M493.1 366.9L488.5 367.4L484.4 370.1L479.7 370.6M488.0 349.9L483.5 352.0L478.4 352.0L473.9 354.0L469.1 354.9M479.4 443.2L477.8 439.2L477.5 435.1L477.0 431.0L477.0 426.8L475.2 422.9L475.6 418.6L475.9 414.4L475.2 410.3L473.5 406.3L473.3 402.2L471.3 398.3L470.9 394.2L470.9 390.0M479.4 443.2L475.0 443.6L470.6 442.8M444.2 375.5L441.0 378.5L438.0 381.8L435.6 385.5M435.6 385.5L437.1 389.4L439.9 392.7L442.3 396.1L445.0 399.4L445.7 403.9L448.1 407.4L451.0 410.5L452.6 414.5L455.5 417.6L458.1 420.9L458.8 425.4L462.4 428.2L463.1 432.6L467.0 435.2L468.8 439.0L470.6 442.8M448.2 124.8L443.9 123.3L439.3 123.2L434.8 122.9M427.0 106.3L428.6 110.7L431.4 114.4L432.9 118.8L434.8 122.9M307.4 196.5L308.0 201.0L307.7 205.5L307.1 210.0M307.4 196.5L311.8 195.1L316.4 195.3L320.6 193.2L325.3 193.9L329.6 192.0L334.1 191.6M336.7 200.8L335.5 196.2L334.1 191.6M336.7 200.8L332.4 203.6L329.2 207.4L326.3 211.6L322.2 214.5M307.1 210.0L312.0 212.2L317.5 212.0L322.2 214.5M358.4 176.6L358.8 172.5L357.7 168.4L358.6 164.3L358.8 160.2L358.6 156.1L359.2 152.1M358.4 176.6L362.5 178.7L366.0 181.8L370.3 183.4L374.2 185.8M359.2 152.1L363.8 151.1L368.6 151.0L373.1 149.4M373.1 149.4L376.2 152.7L378.9 156.3L381.7 159.8L384.0 163.8L387.4 166.8L389.4 171.0M374.2 185.8L377.1 182.7L379.9 179.5L382.9 176.5L385.6 173.2L389.4 171.0M336.7 200.8L341.1 204.1L345.1 207.9M334.1 191.6L335.2 184.9M345.1 207.9L349.7 207.8L353.8 205.5L358.1 204.1L362.6 203.8L367.0 202.8L371.7 203.2L375.9 201.3M358.4 176.6L354.4 177.4L351.0 180.1L347.2 181.5L343.1 182.2L339.0 182.8L335.3 184.7M375.9 201.3L376.3 196.0L374.5 191.0L374.2 185.8M335.2 184.9L335.3 184.7M359.2 152.1L354.8 149.9L351.2 146.3L346.7 144.1M341.6 144.4L346.7 144.1M341.6 144.4L339.2 148.4L335.4 151.4L333.2 155.7M335.3 184.7L335.1 180.5L335.8 176.3L334.0 172.3L333.9 168.1L334.7 163.9L333.6 159.8L333.2 155.7M330.7 259.2L332.6 255.1L332.8 250.6L333.2 246.2L334.0 241.8L335.5 237.6M330.7 259.2L331.2 259.8M331.2 259.8L335.6 260.4L340.2 259.6L344.6 260.6L349.1 261.4L353.6 261.4L358.0 262.3M335.5 237.6L339.8 235.4L344.1 233.3L348.3 230.9M363.2 250.4L361.1 254.3L358.8 258.0L358.0 262.3M363.2 250.4L360.8 246.5L359.6 242.0L356.8 238.3L355.4 233.9M348.3 230.9L355.4 233.9M308.4 247.0L310.2 251.3L313.8 254.3L316.2 258.2M308.4 247.0L310.3 243.1L312.7 239.3L315.3 235.7L316.6 231.4M316.2 258.2L321.0 258.9L326.0 257.9L330.7 259.2M321.5 229.7L316.6 231.4M321.5 229.7L325.4 230.9L328.3 234.0L332.4 234.9L335.5 237.6M331.4 278.6L335.4 280.5L338.6 283.4L342.2 285.8L345.8 288.1L348.8 291.4M331.4 278.6L331.0 273.9L331.5 269.2L332.0 264.5L331.2 259.8M353.2 291.1L348.8 291.4M363.8 277.4L361.5 274.0L360.6 270.0L360.3 265.8L358.0 262.3M345.1 207.9L346.5 212.4L347.1 217.0L346.1 221.8L348.0 226.3L348.3 230.9M322.2 214.5L321.6 219.6L321.7 224.7L321.5 229.7M390.9 248.2L392.0 252.1L394.4 255.4L396.6 258.8M390.9 248.2L386.2 248.0L381.6 248.2L377.0 248.8L372.3 248.7L367.7 249.5L363.2 250.4M115.5 306.7L111.6 301.7M115.5 306.7L120.4 305.8L125.1 303.7M124.2 285.0L126.8 286.6M125.1 303.7L125.8 299.4L126.7 295.2L126.8 290.9L126.8 286.6M225.4 160.9L231.3 160.8L236.9 162.9M225.4 160.9L224.4 156.0L223.4 151.3L221.5 146.7L220.4 141.9M223.9 135.5L225.2 134.9M246.3 145.2L243.8 141.5L241.6 137.6M225.2 134.9L229.2 135.9L233.5 135.5L237.3 137.9L241.6 137.6M268.1 142.2L268.9 137.5L268.4 132.8M268.1 142.2L272.4 143.3L276.7 144.8L281.2 145.1L285.6 145.9L289.9 147.5M289.9 147.5L292.6 143.0L293.2 137.8L294.9 133.0M268.4 132.8L272.3 130.9L275.8 128.3L279.3 125.8L283.7 124.9L287.3 122.5M287.3 122.5L289.2 126.4L291.8 129.9L294.9 133.0M312.8 135.9L310.0 132.6M312.8 135.9L317.2 136.8L321.6 136.4L326.1 136.5L330.5 136.2L334.9 137.3M334.9 137.3L334.2 132.9L332.3 128.6L333.7 123.7L332.1 119.4L330.2 115.1L329.5 110.6L329.8 106.0M329.8 106.0L324.9 108.3L319.5 108.8L314.6 111.1M314.6 111.1L314.3 115.5L313.5 119.8L312.0 124.0L310.2 128.1L310.0 132.6M221.2 79.5L225.4 77.6L230.0 77.6L234.2 75.9L238.9 76.5L243.2 75.2M211.7 66.0L215.3 63.8L218.7 61.0L222.5 59.0L226.9 58.2L230.3 55.6L234.1 53.7M243.2 75.2L241.2 71.0L239.8 66.5L237.2 62.5L237.0 57.5L234.1 53.7M392.7 95.4L396.4 97.9L399.8 100.7L402.5 104.3L404.9 108.1L408.8 110.4M427.0 106.3L422.6 107.7L418.1 109.2L413.3 108.9L408.8 110.4M263.9 147.5L268.1 142.2M268.4 132.8L265.3 129.8L262.9 126.3L260.1 123.0M241.6 137.6L243.9 134.0L245.3 129.8L248.3 126.7L250.3 122.8M260.1 123.0L255.2 122.9L250.3 122.8M344.3 92.6L345.8 96.4L348.2 99.9L349.2 104.0L350.8 107.8L352.8 111.4L354.4 115.2L355.7 119.1L358.1 122.5M344.3 92.6L348.5 93.5L352.7 94.5L356.9 95.5L360.7 97.8L364.7 99.2L368.8 100.5L373.2 100.7L377.1 102.7L381.4 103.3M358.1 122.5L362.3 123.0L366.6 122.9L370.9 122.9L374.9 124.8L379.2 124.5M381.4 103.3L380.3 107.5L379.8 111.7L379.1 115.9L378.6 120.1L379.2 124.5M342.6 91.1L339.1 94.6L337.0 99.2L333.2 102.5L329.8 106.0M342.6 91.1L344.3 92.6M341.6 144.4L339.0 140.1L334.9 137.3M346.7 144.1L349.5 141.0L351.2 137.3L352.8 133.5L354.8 130.0L355.2 125.6L358.1 122.5M392.7 95.4L389.2 98.5L385.4 101.1L381.4 103.3M373.1 149.4L376.3 146.7L377.6 142.6L381.1 140.1L382.9 136.4L385.4 133.1M385.4 133.1L382.7 128.5L379.2 124.5M408.8 110.4L408.3 114.7L407.0 118.7L404.6 122.4L404.4 126.8L402.1 130.6L400.6 134.5M385.4 133.1L390.5 132.6L395.5 134.5L400.6 134.5M243.2 234.6L246.9 231.9L250.1 228.6L252.4 224.6M243.2 234.6L240.5 230.5L236.2 228.1L233.0 224.5M252.4 224.6L249.5 220.1L246.1 216.0L242.1 212.4M242.1 212.4L239.7 213.1M233.0 224.5L235.1 220.7L238.4 217.5L239.7 213.1M243.2 234.6L243.1 235.8M225.3 238.4L225.1 234.3L224.1 230.1L224.9 225.9M233.0 224.5L228.9 225.0L224.9 225.9M209.6 242.2L210.5 237.9L212.5 233.9L212.2 229.3L212.7 225.0L214.2 220.8M209.6 242.2L214.7 242.4L219.8 243.2M214.2 220.8L216.0 220.0M224.9 225.9L220.7 222.6L216.0 220.0M116.1 247.1L113.5 243.9L112.0 240.0L109.6 236.6L108.0 232.7L106.1 229.1L103.9 225.6L102.3 221.7L100.5 218.0M116.1 247.1L115.1 248.7M115.1 248.7L111.2 250.8L106.9 251.7L102.3 251.8L98.4 253.9L94.0 254.7L90.1 256.8L85.5 256.9L81.3 258.0L77.3 260.1M79.4 262.3L77.3 260.1M118.7 267.6L117.4 262.9L116.1 258.3L115.2 253.6L115.1 248.7M137.0 219.1L132.9 219.5L129.5 222.3L125.0 221.8L121.4 223.8M121.4 223.8L117.1 223.1L113.3 220.5L108.7 220.7L104.9 218.2L100.5 218.0M141.2 233.4L144.4 237.9L147.5 242.5M141.2 233.4L136.4 234.9L132.3 237.7L128.3 240.6M147.5 242.5L144.7 245.7L142.3 249.2L138.1 251.1L135.9 254.8M135.9 254.8L132.5 251.9L130.1 248.0L127.0 244.7M127.0 244.7L128.3 240.6M121.4 223.8L123.0 228.0L125.4 232.0L125.9 236.7L128.3 240.6M142.4 224.5L142.8 229.1L141.2 233.4M116.1 247.1L121.6 245.9L127.0 244.7M179.2 216.4L181.8 220.7L184.7 224.8M179.2 216.4L183.1 212.6L186.6 208.5M184.7 224.8L189.4 222.8L194.7 222.7L199.4 220.5M186.6 208.5L192.2 210.0L197.6 212.0M197.6 212.0L198.7 215.8L200.3 219.5M199.4 220.5L200.3 219.5M181.8 233.1L182.2 228.6L184.7 224.8M181.8 233.1L177.3 233.9L173.0 232.6L168.6 232.2M170.1 214.5L174.6 215.8L179.2 216.4M182.3 195.2L175.7 192.3M182.3 195.2L183.1 199.9L184.3 204.4L186.6 208.5M203.6 196.5L202.5 200.5L201.0 204.4L199.7 208.4L197.6 212.0M203.6 196.5L198.4 192.5M198.4 192.5L194.4 193.2L190.5 194.9L186.2 193.7L182.3 195.2M184.8 171.9L189.1 174.5L193.4 176.9L197.9 178.9M184.8 171.9L187.3 168.4L187.3 163.9L190.2 160.5L190.9 156.3M197.7 154.6L190.9 156.3M197.7 154.6L200.2 158.3L204.4 160.1L207.3 163.3L210.3 166.4L213.4 169.3M213.4 169.3L209.3 171.3L205.6 174.0L202.3 177.3L197.9 178.9M180.3 174.0L184.8 171.9M198.4 192.5L197.9 188.0L198.0 183.4L197.9 178.9M173.7 143.5L177.5 145.5L180.3 149.0L184.6 150.4L186.9 154.5L190.9 156.3M203.2 144.7L201.4 150.2L197.7 154.6M214.3 169.5L217.7 166.1L221.3 163.2L225.4 160.9M214.3 169.5L213.4 169.3M181.8 233.1L185.8 240.0M185.8 240.0L190.9 241.6L196.1 242.1M199.4 220.5L199.3 224.7L199.6 228.9L197.9 232.9L197.9 237.1L198.2 241.2M198.2 241.2L196.1 242.1M209.6 242.2L208.3 242.8M214.2 220.8L209.6 219.3L204.8 221.0L200.3 219.5M198.2 241.2L203.2 242.5L208.3 242.8M221.6 258.6L217.6 259.6L213.5 258.8L209.5 259.4M208.3 242.8L209.3 246.9L209.3 251.1L210.2 255.2L209.5 259.4M225.4 270.5L222.9 274.2L219.1 276.4M219.1 276.4L214.8 275.2M214.8 275.2L212.3 270.8L210.4 266.1L207.4 261.9M209.5 259.4L207.4 261.9M156.4 290.1L152.5 292.0L148.9 294.6L144.7 295.9M156.4 290.1L156.6 290.1M156.6 290.1L160.0 294.2L162.4 298.9L164.8 303.5M143.3 303.2L144.7 295.9M143.3 303.2L147.2 305.2L150.9 307.5L154.7 309.6L158.4 311.9M164.8 303.5L162.0 307.6L159.1 311.7M158.4 311.9L159.1 311.7M125.1 303.7L128.4 306.0L132.3 307.4L136.1 309.0M136.1 309.0L139.0 305.3L143.3 303.2M126.8 286.6L131.1 285.6L135.4 285.5M135.4 285.5L139.1 288.4L140.9 293.1L144.7 295.9M176.6 559.8L181.1 560.3L185.3 559.1L189.6 558.2M181.4 540.7L185.3 540.7M185.3 540.7L186.2 545.1L187.4 549.5L188.9 553.7L189.6 558.2M192.4 565.4L191.9 559.6M189.6 558.2L191.9 559.6M234.4 523.0L239.0 520.5L243.2 517.3M234.4 523.0L233.8 527.1L232.3 531.0L231.7 535.2M248.9 534.7L244.6 535.0L240.3 534.7L236.0 535.4L231.7 535.2M248.9 534.7L248.3 530.0L248.7 525.2L248.3 520.5M248.3 520.5L243.2 517.3M288.2 564.3L284.1 562.4L279.8 560.8L276.0 558.3L271.4 557.6M288.2 564.3L288.6 564.2M288.6 564.2L289.9 560.2L291.7 556.5L293.7 552.8M284.1 544.7L286.7 548.1L290.5 550.1L293.7 552.8M284.1 544.7L279.3 546.9L275.4 550.5L271.0 553.3M271.4 557.6L271.0 553.3M284.1 544.7L283.5 540.1L284.4 535.5M302.6 542.0L298.5 540.3L295.9 536.6L292.2 534.4L288.7 531.9M302.6 542.0L301.0 545.8L300.0 549.7M293.7 552.8L300.0 549.7M288.7 531.9L284.4 535.5M97.2 434.9L99.7 432.2M115.9 449.3L115.3 444.4L116.4 439.6M99.7 432.2L103.5 434.8L107.8 436.4L112.7 436.8L116.4 439.6M103.7 477.4L107.4 480.8L111.7 483.2L116.4 485.0M103.8 469.0L103.7 473.2L103.7 477.4M100.0 546.5L99.7 546.5M155.9 484.7L158.3 479.8L160.6 474.7M151.9 468.3L145.9 469.9M144.5 483.6L144.3 483.4M144.3 483.4L145.2 479.0L144.7 474.3L145.9 469.9M155.9 457.3L154.0 454.4M138.3 461.8L141.7 459.5L143.3 455.4L146.4 452.9M138.3 461.8L139.3 465.6M154.0 454.4L146.4 452.9M139.3 465.6L145.9 469.9M234.4 523.0L230.6 521.3L227.8 517.9L223.7 516.6M242.6 513.6L243.2 517.3M242.6 513.6L238.6 511.1L235.2 507.8L230.9 505.7L227.1 503.0M223.7 516.6L224.1 511.9L225.3 507.4L227.1 503.0M92.3 306.3L96.6 309.4L100.3 313.1L104.2 316.7M89.1 327.5L93.2 329.2L97.7 328.9M97.7 328.9L100.0 324.9L103.0 321.3L104.2 316.7M115.5 306.7L112.9 314.1M112.9 314.1L108.3 314.7L104.2 316.7M131.4 370.1L130.3 366.1L128.5 362.2L128.2 358.0L127.2 353.9M131.4 370.1L136.3 369.9L140.9 368.3M140.9 368.3L143.5 363.0L145.9 357.5M127.2 353.9L129.0 350.7M129.0 350.7L133.7 348.6M145.9 357.5L142.1 353.7L138.7 349.5M133.7 348.6L138.7 349.5M146.9 373.5L151.6 372.6L156.1 371.3M146.9 373.5L140.9 368.3M156.1 371.3L156.4 366.6L158.4 362.3M145.9 357.5L150.5 357.2L155.0 356.7M158.4 362.3L155.0 356.7M401.4 547.1L395.8 546.1L390.1 545.7M405.2 562.8L401.3 565.0M401.3 565.0L395.4 565.4L389.6 564.1M389.6 564.1L390.3 559.5L389.4 554.9L390.2 550.3L390.1 545.7M398.2 528.6L395.0 531.6L392.1 535.0L388.2 537.2M398.2 528.6L402.1 531.2L405.0 534.9L408.3 538.3M388.2 537.2L389.7 541.1L389.5 545.2M390.1 545.7L389.5 545.2M370.8 512.8L374.6 514.5L376.8 518.4L380.5 520.1M370.8 512.8L367.2 514.8L364.2 517.7L360.9 520.0M363.5 528.8L362.2 524.4L360.9 520.0M363.5 528.8L368.7 530.1L373.8 531.9M380.5 520.1L379.5 525.5L377.2 530.5M373.8 531.9L377.2 530.5M364.6 309.9L363.5 314.9L363.8 320.1L362.0 324.9M399.2 316.0L396.5 319.5L393.8 323.1L390.4 326.0L387.1 329.1M362.0 324.9L362.4 325.5M387.1 329.1L382.9 329.3L378.8 328.7L374.8 326.8L370.5 327.4L366.4 326.7L362.4 325.5M422.2 501.8L418.4 503.5L414.7 505.3L411.0 507.2L407.1 508.6M415.0 489.3L410.9 491.3L407.9 494.8L403.7 496.7M403.7 496.7L405.3 500.5L404.9 504.9L407.1 508.6M445.3 529.1L442.6 525.3L439.5 522.0L435.5 519.7M445.3 529.1L449.3 528.4L452.9 526.3L456.8 525.3L460.9 524.8L464.6 523.1L468.2 521.2L472.2 520.3L476.3 519.9L480.0 518.2L484.1 517.7L488.0 516.5L491.7 514.9L495.4 513.2L499.1 511.6L503.0 510.4L507.4 510.9L510.9 508.7M435.5 519.7L439.0 516.3L442.3 512.6L446.5 509.8M510.9 508.7L506.9 509.3L502.9 508.2L498.9 509.5L494.8 509.5L490.8 508.4L486.7 508.1L482.8 510.0L478.7 510.2L474.7 509.1L470.7 509.9L466.6 508.9L462.6 508.6L458.6 509.0L454.6 509.8L450.5 509.2L446.5 509.8M443.0 536.4L445.3 529.1M433.5 519.6L435.5 519.7M435.5 497.1L437.7 500.7L440.9 503.5L443.5 506.8L446.5 509.8M426.1 503.5L427.3 509.4L427.6 515.3M470.1 442.9L470.6 442.8M389.6 564.1L388.7 564.6M388.7 564.6L384.5 563.4L381.2 560.2L377.4 558.1L373.3 556.7M389.5 545.2L385.2 546.1L381.6 548.9L377.2 549.5L373.1 550.9M373.3 556.7L373.1 550.9M388.2 537.2L385.1 534.1L381.4 531.9L377.2 530.5M373.8 531.9L373.8 536.0L372.8 539.9L371.5 543.8L370.4 547.7M370.4 547.7L373.1 550.9M425.8 137.9L421.0 139.2L416.0 139.1L411.1 139.9L406.1 140.0M425.8 137.9L429.1 140.9L431.3 144.9L433.4 148.9L436.6 152.0L439.6 155.3M439.6 155.3L437.8 160.1L435.2 164.5L432.4 168.8M432.4 168.8L427.7 168.6L423.2 167.1L419.0 165.0L414.6 163.5L409.6 164.3L405.3 162.2M405.3 162.2L405.3 157.7L405.6 153.3L405.8 148.9L404.9 144.4L406.1 140.0M434.8 122.9L431.9 126.3L430.3 130.4L427.6 133.9L425.8 137.9M400.6 134.5L406.1 140.0M457.3 150.3L452.8 151.3L448.2 152.0L444.3 154.9L439.6 155.3M448.1 182.3L443.9 179.9L440.6 176.2L436.8 173.2L432.8 170.5M432.8 170.5L432.4 168.8M389.4 171.0L393.6 169.6L398.0 170.0M398.0 170.0L402.1 166.5L405.3 162.2M293.9 212.0L291.8 215.5L289.3 218.6L285.4 220.6L283.7 224.3M293.9 212.0L298.1 213.7L302.6 213.7M302.6 213.7L302.1 217.8L304.2 221.8L303.6 226.0M303.6 226.0L299.9 229.0L295.9 231.5L292.0 234.0M292.0 234.0L289.1 230.9L287.2 227.0L283.7 224.3M307.4 196.5L304.4 192.9L299.9 191.0L296.8 187.5M296.8 187.5L294.1 190.5L290.3 192.4L287.5 195.4L284.7 198.3M284.7 198.3L286.6 202.0L288.6 205.6L292.1 208.3L293.9 212.0M307.1 210.0L302.6 213.7M316.6 231.4L312.1 230.1L308.2 227.2L303.6 226.0M375.9 201.3L380.8 207.1M355.4 233.9L359.4 231.8L363.3 229.6L366.5 226.3L370.9 225.0L374.6 222.5L378.7 220.6M378.7 220.6L379.0 216.0L379.6 211.5L380.8 207.1M390.9 248.2L391.6 241.2M378.7 220.6L380.3 224.4L382.5 227.8L385.4 230.8L386.7 234.8L389.8 237.6L391.6 241.2M429.7 246.2L427.4 242.4L424.0 239.3L422.1 235.2L419.4 231.7L415.6 228.9L413.1 225.3M391.6 241.2L394.7 237.9L398.8 235.9L402.9 234.0L405.8 230.5L409.3 227.6L413.1 225.3M283.1 168.9L286.5 171.5L288.4 175.4L291.1 178.6L293.4 182.1L297.0 184.5M283.1 168.9L284.7 164.7L287.4 161.3L290.8 158.3L293.2 154.7M293.2 154.7L297.3 154.8L301.1 156.3L305.1 157.6L309.3 157.2M297.0 184.5L300.1 181.4L303.4 178.6L307.1 176.2L310.6 173.5M310.6 173.5L310.9 168.1L310.1 162.8L309.6 157.5M309.3 157.2L309.6 157.5M296.8 187.5L297.0 184.5M273.7 169.7L278.3 168.2L283.1 168.9M284.7 198.3L278.2 199.1M278.2 199.1L270.9 196.4M289.9 147.5L293.2 154.7M312.8 135.9L311.3 140.0L310.4 144.2L310.2 148.6L310.6 153.0L309.3 157.2M294.9 133.0L299.9 133.8L305.0 132.7L310.0 132.6M335.2 184.9L331.5 182.1L326.7 181.7L322.9 179.0L319.1 176.6L315.1 174.5L310.6 173.5M333.2 155.7L328.4 155.5L323.8 157.3L319.1 157.8L314.4 157.9L309.6 157.5M348.8 291.4L345.6 294.0L343.3 297.6L339.3 299.4L336.5 302.5L334.1 305.9L331.3 309.0M362.0 324.9L358.0 324.9L354.1 323.4L350.0 324.1L346.1 323.0L341.9 324.8L338.0 322.8L334.0 323.3M331.3 309.0L330.8 314.6L331.5 320.2M334.0 323.3L331.5 320.2M331.3 309.0L328.1 306.0L325.0 302.9L320.8 301.1L317.8 297.9M308.8 322.5L313.3 321.9L318.0 322.5L322.4 320.7L326.9 320.2L331.5 320.2M308.8 322.5L308.4 317.7L306.9 313.2L306.0 308.5L304.8 303.9M304.8 303.9L309.6 302.8L313.1 299.1L317.8 297.9M303.1 273.8L303.9 270.2M303.1 273.8L304.1 277.3M331.4 278.6L327.0 280.9L323.0 283.6L318.9 286.2M303.9 270.2L306.8 267.0L309.6 263.7L313.2 261.2L316.2 258.2M304.1 277.3L307.5 280.0L311.1 282.5L315.2 284.1L318.9 286.2M318.9 286.2L318.8 292.1L317.8 297.9M282.8 274.2L280.6 269.6M282.8 274.2L280.6 280.9M263.7 271.9L264.8 276.1L265.3 280.4L266.4 284.5M280.6 269.6L276.2 268.3L271.8 267.1L267.3 266.5M280.6 280.9L275.6 281.1L271.0 282.5L266.4 284.5M249.1 282.3L252.8 283.9L256.7 285.2L260.6 286.2L264.1 288.4M266.4 284.5L264.1 288.4M243.1 286.1L242.8 290.4L243.3 294.6M258.0 298.8L253.0 297.6L248.3 295.6L243.3 294.6M258.0 298.8L261.4 296.0L264.3 292.7M264.1 288.4L264.3 292.7M300.8 245.7L297.9 249.8L296.0 254.6L292.6 258.3M300.8 245.7L297.9 242.6L294.6 239.9L291.9 236.6M291.9 236.6L288.4 239.3L285.0 241.9L281.2 244.1L278.3 247.5M285.4 258.1L283.5 254.5L281.0 251.3L278.2 248.4M285.4 258.1L292.6 258.3M278.2 248.4L278.3 247.5M308.4 247.0L300.8 245.7M303.9 270.2L300.8 267.4L298.4 264.1L295.9 260.9L292.6 258.3M292.0 234.0L291.9 236.6M280.6 269.6L282.4 265.8L284.3 262.2L285.4 258.1M265.1 256.9L269.8 254.6L274.0 251.6L278.2 248.4M282.8 274.2L286.8 273.7L290.9 273.5L295.0 275.0L299.0 274.9L303.1 273.8M277.1 220.1L279.8 223.4M277.1 220.1L272.1 220.1L267.4 218.2L262.4 218.2M279.8 223.4L277.0 226.4L274.1 229.5L271.2 232.5L269.0 236.1M262.4 218.2L257.5 224.4M257.5 224.4L259.7 228.2L262.6 231.5L264.4 235.5M264.4 235.5L269.0 236.1M278.2 199.1L277.9 203.3L276.7 207.4L278.3 211.7L277.1 215.9L277.1 220.1M283.7 224.3L279.8 223.4M261.4 208.4L261.5 213.3L262.4 218.2M278.3 247.5L275.1 243.8L272.7 239.4L269.0 236.1M252.4 224.6L257.5 224.4M242.1 212.4L245.9 205.7M257.0 243.8L260.9 239.8L264.4 235.5M162.4 237.6L162.3 238.2M147.5 242.5L153.3 243.4M162.3 238.2L158.2 241.6L153.3 243.4M151.0 274.3L146.1 274.3L141.3 275.1M151.0 274.3L152.2 273.0M152.2 273.0L153.1 268.6L152.0 264.1L152.8 259.7M141.3 275.1L138.8 270.9L136.3 266.8L133.0 263.2M152.8 259.7L148.8 258.0L144.4 258.4L140.1 258.0L136.1 256.1M133.0 263.2L136.1 256.1M135.4 285.5L137.7 279.9L141.3 275.1M156.4 290.1L155.1 286.1L154.7 281.9L152.7 278.1L151.0 274.3M119.5 267.9L123.8 265.7L128.2 263.8L133.0 263.2M135.9 254.8L136.1 256.1M155.1 257.8L154.8 253.0L154.9 248.1L153.3 243.4M155.1 257.8L152.8 259.7M225.2 134.9L227.3 130.8L228.0 126.3L229.2 121.9L230.5 117.6M250.3 122.8L247.3 118.5L243.3 115.0M230.5 117.6L234.8 116.9L238.9 115.3L243.3 115.0M207.4 117.6L210.9 115.1L215.0 113.4L218.0 110.2L221.5 107.8M230.5 117.6L227.7 114.1L224.9 110.7L221.5 107.8M217.7 93.4L222.4 99.1M222.4 99.1L221.6 103.4L221.5 107.8M243.2 75.2L243.4 75.3M222.4 99.1L227.2 97.1L232.1 96.7L237.2 96.4M243.4 75.3L242.8 79.7L241.8 84.0L240.2 88.1L237.8 92.0L237.2 96.4M243.3 115.0L243.6 109.3L245.0 103.7M237.2 96.4L241.2 99.9L245.0 103.7M218.0 214.1L222.7 211.3L226.9 207.8M218.0 214.1L216.4 210.4L214.8 206.7L212.7 203.2L210.6 199.8L208.4 196.4M226.9 207.8L227.6 203.5L227.3 199.2L228.1 195.0L228.1 190.7M208.4 196.4L212.9 194.1L216.2 190.0L220.9 188.1M220.9 188.1L228.1 190.7M239.7 213.1L235.1 212.3L230.9 210.3L226.9 207.8M216.0 220.0L218.0 214.1M203.6 196.5L208.4 196.4M243.2 187.4L238.2 188.9L233.0 188.9L228.1 190.7M214.3 169.5L217.0 173.8L218.5 178.5L219.0 183.5L220.9 188.1M258.0 298.8L256.9 304.1L256.9 309.6M256.9 309.6L251.7 309.7L246.5 310.6L241.3 309.5M243.3 294.6L240.1 298.7L236.7 302.8M241.3 309.5L239.4 305.9L236.7 302.8M212.0 292.4L213.4 297.6L212.9 302.9M212.0 292.4L217.1 289.4L222.0 286.2M212.9 302.9L217.7 303.1L222.5 304.0L227.4 303.8M222.0 286.2L224.5 287.8M224.5 287.8L226.1 292.7L228.6 297.2L229.5 302.2M229.5 302.2L227.4 303.8M211.2 314.3L211.7 309.4L211.1 304.6M211.2 314.3L215.4 315.7L218.8 318.8L223.1 320.2M211.1 304.6L212.9 302.9M223.1 320.2L224.8 316.3L225.2 312.0L226.0 307.8L227.4 303.8M237.5 282.9L233.2 284.6L229.1 286.6L224.5 287.8M219.1 276.4L220.8 281.2L222.0 286.2M236.7 302.8L229.5 302.2M196.1 242.1L195.6 247.3L194.8 252.4L194.4 257.6M207.4 261.9L200.6 263.2M200.6 263.2L196.8 261.2L194.4 257.6M204.2 319.2L199.4 318.4L195.1 316.3M204.2 319.2L208.1 317.2L211.2 314.3M211.1 304.6L206.3 303.9L201.7 302.5L196.8 302.8M195.1 316.3L194.1 310.7L195.0 305.1M195.0 305.1L196.8 302.8M195.1 316.3L193.2 317.9M193.2 317.9L188.3 317.5L183.5 317.7L178.8 318.5M178.8 318.5L178.3 313.4L178.7 308.3L177.6 303.2M195.0 305.1L190.6 305.2L186.4 303.1L181.9 304.0L177.6 303.2M178.8 318.5L174.7 323.2M174.2 323.3L174.7 323.2M174.2 323.3L170.6 320.2L166.4 317.8L163.5 313.8L159.1 311.7M164.8 303.5L170.4 302.2L176.1 301.5M177.6 303.2L176.1 301.5M264.9 506.3L260.9 505.1L257.0 503.9L253.8 501.0L249.7 500.3M264.9 506.3L264.2 501.5L265.8 497.0L265.6 492.3L266.3 487.6M259.4 483.5L266.3 487.6M259.4 483.5L255.7 485.4L252.7 488.2L250.5 492.0L246.6 493.7M246.6 493.7L249.7 500.3M257.7 473.6L262.0 473.5L266.0 472.2L270.1 471.0L274.0 469.5M257.7 473.6L259.5 478.4L259.4 483.5M274.0 469.5L274.8 473.5L275.9 477.4L276.8 481.4L276.8 485.6M276.8 485.6L271.6 487.1L266.3 487.6M271.0 553.3L268.8 550.3M284.4 535.5L279.7 535.0L275.0 534.2L270.4 533.5M268.8 550.3L270.0 546.2L270.2 541.9L271.0 537.8L270.4 533.5M248.3 520.5L252.8 520.0L257.1 518.7M242.6 513.6L245.8 509.6L247.5 504.8L249.7 500.3M264.9 506.3L265.3 506.9M265.3 506.9L262.0 510.4L259.4 514.5L257.1 518.7M248.9 534.7L252.3 538.3M252.3 538.3L256.7 535.6L261.9 534.0L266.0 530.8M257.1 518.7L259.4 523.3L262.9 526.9L266.0 530.8M268.8 550.3L264.4 550.0L260.8 547.1L256.7 545.9L252.4 545.4M270.4 533.5L268.4 531.2M252.3 538.3L252.4 545.4M266.0 530.8L268.4 531.2M188.7 587.6L192.5 590.5L194.7 594.9L198.5 597.8M201.0 579.6L203.4 583.4L206.3 586.9L208.4 590.9M198.5 597.8L202.7 595.4L207.6 594.6M208.4 590.9L207.6 594.6M202.7 574.5L208.8 571.5M208.8 571.5L213.7 574.5L219.3 575.7M219.3 575.7L222.0 580.2M208.4 590.9L211.3 587.5L214.7 584.9L218.3 582.5L222.0 580.2M182.4 605.6L186.6 604.1L190.8 603.5L195.2 604.0M180.1 603.7L182.4 605.6M198.5 597.8L195.2 604.0M277.2 621.8L272.9 620.9L268.4 620.4L264.0 619.5M264.0 619.5L260.5 622.2L256.6 624.2L253.2 626.9L249.5 629.3M107.8 420.2L104.4 422.6L103.2 426.9L99.8 429.3M107.8 420.2L106.2 415.7L105.7 411.0M105.7 411.0L101.5 410.7L97.2 411.1L93.0 409.9M99.8 429.3L96.9 426.5L94.4 423.3L92.2 419.8L88.9 417.4M88.9 417.4L91.2 413.7L93.0 409.9M99.7 432.2L99.8 429.3M116.4 439.6L120.9 435.7M120.9 435.7L119.3 431.0L118.7 426.1L117.3 421.3M117.3 421.3L112.6 420.3L107.8 420.2M81.7 395.6L86.4 397.3L90.5 400.0M90.5 400.0L91.9 404.9L93.0 409.9M131.4 370.1L129.9 371.9M111.2 365.7L115.0 368.9L118.7 372.2M111.2 365.7L112.3 361.5L114.6 357.7M114.6 357.7L118.7 356.1L122.7 354.3L127.2 353.9M129.9 371.9L124.3 371.4L118.7 372.2M110.9 400.1L113.6 397.0L114.2 392.7L117.0 389.7M110.9 400.1L105.8 397.0L100.1 395.3M100.1 395.3L99.0 390.8L99.8 386.2L100.0 381.7M114.1 384.6L117.0 389.7M114.1 384.6L109.7 383.1L105.3 381.2L100.6 380.9M100.0 381.7L100.6 380.9M90.5 400.0L94.9 396.8L100.1 395.3M111.5 402.4L110.9 400.1M111.5 402.4L108.5 406.6L105.7 411.0M87.8 384.0L91.7 382.6L95.8 381.7L100.0 381.7M111.2 365.7L110.7 365.8M100.6 378.1L100.6 380.9M118.7 372.2L117.9 376.6L115.2 380.3L114.1 384.6M134.8 481.9L132.4 478.1L130.5 474.0M134.8 481.9L130.2 485.8L127.1 490.8M117.6 484.8L120.3 481.1L120.4 476.3L122.6 472.4M117.6 484.8L121.8 487.7L125.8 490.9M122.6 472.4L126.6 473.3L130.5 474.0M125.8 490.9L127.1 490.8M144.3 483.4L139.7 481.6L134.8 481.9M139.3 465.6L136.9 469.0L132.9 470.6L130.5 474.0M136.3 497.8L131.7 494.3L127.1 490.8M119.7 467.8L122.6 472.4M116.4 485.0L117.6 484.8M99.7 546.5L100.5 542.4L104.1 539.6L105.1 535.5L106.9 531.8L109.2 528.3L110.9 524.6L111.3 520.3L114.0 517.1L114.5 512.7L117.2 509.5L118.1 505.4L120.8 502.1L122.2 498.3L125.0 495.1L125.8 490.9M123.0 456.2L128.0 455.5M138.3 461.8L134.3 460.6L131.7 457.3L128.0 455.5M169.1 527.2L174.3 521.2M185.3 540.7L191.3 536.4M191.3 536.4L189.7 531.7L187.6 527.3L184.9 523.1M184.9 523.1L179.8 521.1L174.3 521.2M164.2 505.8L165.1 505.9M165.1 505.9L167.4 509.9L171.2 512.6L174.2 516.1M174.3 521.2L174.2 516.1M158.8 489.4L163.0 489.8L167.2 488.4L171.4 489.4M165.1 505.9L168.9 501.5L173.4 497.9M173.4 497.9L171.5 493.8L171.4 489.4M185.1 505.2L180.8 508.1L178.4 513.0L174.2 516.1M185.1 505.2L184.2 501.9M173.4 497.9L179.1 499.1L184.2 501.9M164.1 473.6L167.6 477.1L172.2 479.4L175.1 483.4M171.4 489.4L175.1 483.4M185.1 505.2L189.7 508.2L193.8 511.8M184.2 501.9L186.0 497.6L188.1 493.5L191.4 490.1M202.9 498.6L198.8 496.2L194.7 493.7L191.4 490.1M202.9 498.6L203.3 502.4M203.3 502.4L199.8 505.2L196.9 508.6L193.8 511.8M184.9 523.1L187.5 519.6L191.7 517.7L194.2 514.1M194.2 514.1L193.8 511.8M227.1 503.0L226.8 502.0M246.6 493.7L239.4 490.8M226.8 502.0L229.7 498.9L233.1 496.4L236.0 493.3L239.4 490.8M257.7 473.6L257.2 473.1M257.2 473.1L252.9 472.0L248.3 472.6L243.9 471.5M243.9 471.5L238.2 474.9M238.2 474.9L235.9 480.8M239.4 490.8L238.1 485.6L235.9 480.8M117.0 338.7L114.9 342.4L111.5 345.1L108.8 348.4M117.0 338.7L116.9 333.9M116.9 333.9L112.4 334.3L108.2 332.5L104.0 331.1L99.5 331.2M99.5 331.2L98.2 336.2L98.7 341.4L98.4 346.5M108.8 348.4L104.2 347.8L99.6 347.7M98.4 346.5L99.6 347.7M114.6 357.7L111.7 353.0L108.8 348.4M129.0 350.7L125.8 347.9L123.6 344.2L120.1 341.6L117.0 338.7M97.7 328.9L99.5 331.2M122.1 327.3L119.7 330.8L116.9 333.9M122.1 327.3L120.7 323.3L117.9 320.4L114.7 317.7L112.9 314.1M85.6 346.8L89.8 346.3L94.1 346.1L98.4 346.5M97.8 360.1L98.6 356.0L99.8 351.9L99.6 347.7M122.1 327.3L125.5 326.9M133.7 348.6L132.7 343.3L134.3 338.1L133.6 332.8M125.5 326.9L130.0 329.3L133.6 332.8M136.1 309.0L136.0 313.6M125.5 326.9L128.9 324.2L130.5 320.0L133.6 317.1L136.0 313.6M164.7 344.8L160.1 346.9M164.7 344.8L163.3 340.5L163.0 336.0L163.5 331.5M160.1 346.9L156.5 344.1L152.1 342.5L148.3 340.0M163.5 331.5L159.7 328.7L155.4 327.0L150.9 325.8M148.3 340.0L148.1 335.4L146.7 331.0M146.7 331.0L149.8 326.2M150.9 325.8L149.8 326.2M182.4 335.5L179.6 331.5L176.8 327.6L174.7 323.2M182.4 335.5L178.6 337.7L175.0 340.3L172.2 343.7L168.4 345.9M174.2 323.3L171.1 326.6L167.1 328.8L163.5 331.5M168.4 345.9L164.7 344.8M138.7 349.5L141.8 346.2L145.1 343.2L148.3 340.0M155.0 356.7L158.1 352.1L160.1 346.9M158.4 311.9L156.3 316.8L153.0 321.0L150.9 325.8M133.6 332.8L137.9 331.9L142.2 330.7L146.7 331.0M136.0 313.6L139.5 316.7L143.0 319.8L146.5 322.9L149.8 326.2M307.2 539.1L308.9 535.0L307.8 530.5L309.3 526.3M307.2 539.1L311.6 540.9L315.9 543.1L320.5 544.3M327.2 538.2L325.3 542.9M327.2 538.2L326.0 533.7L325.3 529.2M320.5 544.3L325.3 542.9M325.3 529.2L321.3 528.6L317.1 528.8L313.1 527.9L309.3 526.3M370.5 504.9L370.8 512.8M370.5 504.9L364.8 499.3M360.9 520.0L355.5 516.8M364.8 499.3L359.2 501.0L354.3 504.3M355.5 516.8L355.9 512.6L355.3 508.4L354.3 504.3M364.8 499.3L366.0 491.5M366.0 491.5L361.9 488.2L357.8 485.0M357.8 485.0L352.8 486.4L348.3 488.8M354.3 504.3L350.5 503.0L346.8 501.3M346.8 501.3L345.9 499.6M348.3 488.8L347.1 494.2L345.9 499.6M428.0 341.4L424.7 344.3L423.0 348.3L420.7 352.0M414.8 326.7L412.6 330.3L411.1 334.4L409.4 338.4L405.6 341.1L403.4 344.8L402.1 349.0M402.1 349.0L407.0 348.7L411.5 350.4L416.1 351.2L420.7 352.0M441.5 359.5L437.4 360.7L433.1 361.6L429.0 362.9L424.6 363.4M420.7 352.0L421.3 356.0L423.3 359.6L424.6 363.4M435.6 385.5L433.2 384.8M433.2 384.8L429.6 381.5L427.3 377.2L425.2 372.8L421.8 369.4M424.6 363.4L421.8 369.4M387.1 329.1L387.6 334.3L390.4 338.9L390.9 344.1M402.1 349.0L400.3 350.0M390.9 344.1L395.7 346.9L400.3 350.0M410.2 371.9L407.9 368.5L405.2 365.4L404.2 361.3L401.8 358.0L400.0 354.4M410.2 371.9L415.9 370.3L421.8 369.4M400.3 350.0L400.0 354.4M397.6 494.2L395.0 498.2L390.3 500.0L387.5 503.8M397.6 494.2L397.1 489.1L394.6 484.7M394.6 484.7L390.5 484.1L386.4 484.6L382.4 483.7M384.7 502.2L387.5 503.8M384.7 502.2L383.9 497.9L382.1 493.9L381.2 489.6L379.2 485.6M379.2 485.6L382.4 483.7M410.3 480.7L405.2 479.5L399.9 478.6M399.9 478.6L396.8 481.2L394.6 484.7M403.7 496.7L397.6 494.2M370.5 504.9L375.1 503.4L380.0 503.3L384.7 502.2M366.0 491.5L370.6 487.9L375.8 485.5M375.8 485.5L379.2 485.6M406.5 516.7L405.6 512.3M406.5 516.7L402.2 520.7L398.4 525.4M405.6 512.3L401.5 510.4L397.3 509.2L392.8 508.8L388.7 507.3M398.4 525.4L393.5 523.5L389.0 520.9L384.9 517.6M384.9 517.6L387.8 512.8L388.7 507.3M415.0 521.0L411.0 518.4L406.5 516.7M407.1 508.6L405.6 512.3M398.2 528.6L398.4 525.4M387.5 503.8L388.7 507.3M380.5 520.1L384.9 517.6M303.7 603.3L298.0 602.8L292.4 601.7M303.7 603.3L304.1 607.3L305.4 611.2L304.7 615.3L305.0 619.3L306.7 623.2L306.4 627.2L306.8 631.2M292.4 601.7L290.7 606.2L287.4 609.9L285.7 614.4M306.8 631.2L303.5 628.5L299.8 626.3L296.9 623.0L292.8 621.3L289.3 618.7L286.0 616.0M286.0 616.0L285.7 614.4M273.3 603.4L276.6 606.0L279.7 608.7L282.6 611.6L285.7 614.4M273.3 603.4L275.6 599.6L279.3 596.9L281.1 592.7M281.1 592.7L285.8 595.9L291.2 597.7M291.2 597.7L292.4 601.7M277.2 621.8L281.5 618.8L286.0 616.0M307.4 631.9L306.8 631.2M264.0 619.5L264.0 615.4L265.0 611.4L265.8 607.4L266.9 603.4M266.9 603.4L273.3 603.4M361.2 546.6L358.6 549.9L355.1 552.3M361.2 546.6L359.4 542.9L357.2 539.3L356.4 535.1M355.1 552.3L350.2 549.5L345.1 547.1M345.1 547.1L344.5 542.9L345.7 538.9L346.0 534.9M356.4 535.1L351.2 535.5L346.0 534.9M346.0 534.9L346.0 534.9M363.5 528.8L359.7 531.6L356.4 535.1M370.4 547.7L365.8 547.2L361.2 546.6M327.2 538.2L331.9 537.3L336.7 537.1L341.3 535.6L346.0 534.9M334.9 554.8L331.0 551.4L328.7 546.7L325.3 542.9M334.9 554.8L338.2 552.0L341.9 549.9L345.1 547.1M343.2 522.4L347.7 521.5L351.4 518.6L355.5 516.8M343.2 522.4L343.9 526.6L345.2 530.7L346.0 534.9M420.0 570.9L416.4 574.8L413.0 578.7L409.4 582.5M401.3 565.0L400.9 569.6L400.7 574.2L401.6 578.8M401.6 578.8L405.4 580.9L409.4 582.5M416.0 592.2L410.9 589.1M409.4 582.5L410.9 589.1M308.7 598.7L313.0 598.6L317.2 599.7M308.7 598.7L303.7 603.3M307.4 631.9L310.6 628.5L312.1 623.9L314.3 619.9L317.1 616.2L319.1 611.9L321.8 608.1M317.2 599.7L320.0 603.6L321.8 608.1M351.9 632.3L349.4 629.1L346.7 626.2L343.3 623.8L341.8 619.7L338.5 617.3L336.4 613.8L332.7 611.6L330.6 608.2M321.8 608.1L326.2 608.0L330.6 608.2M337.7 596.4L334.2 592.7L330.8 589.0M337.7 596.4L335.9 600.7L333.1 604.3L330.6 608.2M317.2 599.7L319.7 594.4L322.8 589.3M322.8 589.3L326.8 588.4L330.8 589.0M351.9 632.3L350.9 627.5L351.6 622.8L352.4 618.0L352.1 613.2L352.1 608.4M337.7 596.4L342.2 596.3M342.2 596.3L344.7 601.0L349.2 604.0L352.1 608.4M376.8 626.8L376.0 622.5L375.7 618.1L375.0 613.8L374.7 609.4L372.7 605.3L372.9 600.8M372.9 600.8L368.5 600.9L364.1 599.9L359.7 599.7M359.7 599.7L355.6 603.7L352.1 608.4M342.2 596.3L345.6 593.8L347.2 589.7L350.4 587.0M359.7 599.7L357.7 594.4L356.9 588.9M356.9 588.9L350.4 587.0M182.4 335.5L188.6 337.6M176.1 355.9L173.2 352.9L170.9 349.3L168.4 345.9M176.1 355.9L181.2 355.2L185.6 352.6M185.6 352.6L186.4 347.5L187.9 342.6L188.6 337.6M164.9 459.5L168.1 455.6L171.7 452.2L174.9 448.4M154.0 454.4L156.2 449.0L159.2 444.0M174.9 448.4L171.7 443.0M159.2 444.0L163.4 444.4L167.6 444.0L171.7 443.0M243.9 471.5L242.9 466.8L244.7 462.2L244.2 457.5M238.2 474.9L234.4 472.0L231.5 468.3L229.3 464.0L225.6 461.1M225.6 461.1L228.8 458.0L231.5 454.4L234.7 451.4M234.7 451.4L239.2 454.9L244.2 457.5M257.2 473.1L258.1 469.1L258.3 465.1L258.5 461.0M258.5 461.0L255.1 457.8L251.3 455.1M251.3 455.1L244.2 457.5M223.1 320.2L223.8 321.9M241.3 309.5L239.7 315.3L239.8 321.2M223.8 321.9L227.8 321.6L231.8 322.5L235.8 321.2L239.8 321.2M224.3 373.2L223.9 367.2L221.7 361.7M224.3 373.2L228.4 374.2L232.5 372.5L236.6 371.9L240.8 372.9M240.8 372.9L242.0 367.4L243.3 361.9M223.5 358.7L228.7 358.3L233.8 358.0L239.0 357.7M223.5 358.7L221.7 361.7M243.3 361.9L239.0 357.7M201.8 369.8L204.5 366.6L207.8 363.8L210.5 360.5M201.8 369.8L205.5 372.0L208.4 375.1L211.6 377.7L214.1 381.3M210.5 360.5L216.2 360.1L221.7 361.7M223.1 375.5L218.0 377.5L214.1 381.3M223.1 375.5L224.3 373.2M396.6 205.7L398.8 209.2L402.2 211.7L405.7 214.1L407.4 218.1L411.1 220.3L413.3 223.8M396.6 205.7L399.5 202.0L402.3 198.2L405.9 195.0L409.4 191.9M420.7 192.8L423.8 196.5L426.6 200.4L429.7 204.0L432.9 207.6M420.7 192.8L415.0 193.3L409.4 191.9M432.9 207.6L429.5 210.1L426.2 212.8L423.0 215.6L419.5 218.0L416.0 220.4L413.3 223.8M380.8 207.1L386.0 206.3L391.3 205.6L396.6 205.7M413.1 225.3L413.3 223.8M398.0 170.0L399.1 174.1L401.0 177.7L403.1 181.2L404.9 184.9L406.9 188.5L409.4 191.9M432.8 170.5L431.5 174.6L428.1 177.6L425.8 181.1L424.2 185.1L423.1 189.3L420.7 192.8M439.3 208.7L432.9 207.6M293.5 306.8L289.1 304.5L284.7 302.2L280.1 300.3M293.5 306.8L298.2 305.2L302.8 303.1M302.8 303.1L300.7 298.7L299.5 293.7L296.5 289.6M296.5 289.6L291.2 289.5L285.9 290.0M285.9 290.0L283.3 295.3L280.1 300.3M304.8 303.9L302.8 303.1M304.1 277.3L302.3 281.9L299.4 285.7L296.5 289.6M280.6 280.9L283.9 285.1L285.9 290.0M277.5 301.5L280.1 300.3M277.5 301.5L273.0 298.7L268.1 296.5L264.3 292.7M243.4 75.3L251.2 75.9M256.6 72.8L251.2 75.9M245.0 103.7L248.8 102.0L252.5 100.4L256.5 99.3L260.4 98.2M251.2 75.9L252.6 79.6L253.4 83.7L254.9 87.4L257.3 90.7L259.5 94.2L260.4 98.2M197.2 270.9L192.4 270.9L187.9 272.0L183.4 273.6M197.2 270.9L199.8 276.2L202.4 281.5M183.4 273.6L185.2 277.2L186.8 280.9L188.9 284.3L190.3 288.1M202.4 281.5L200.6 286.9M200.6 286.9L196.3 289.8M196.3 289.8L190.3 288.1M214.8 275.2L210.5 277.0L206.5 279.3L202.4 281.5M200.6 263.2L198.1 266.7L197.2 270.9M212.0 292.4L208.4 290.1L204.0 289.6L200.6 286.9M196.8 302.8L197.3 298.5L195.4 294.2L196.3 289.8M177.6 294.0L181.9 292.2L186.1 290.0L190.3 288.1M177.6 294.0L176.1 301.5M177.6 294.0L175.0 288.5L170.8 284.3M183.4 273.6L182.9 273.3M182.9 273.3L179.7 275.8L177.5 279.5L174.2 281.9L170.8 284.3M156.6 290.1L161.1 288.3L165.6 286.5L169.8 284.0M152.2 273.0L158.2 273.3L164.2 272.5M164.2 272.5L165.3 276.7L167.7 280.3L169.8 284.0M169.8 284.0L170.8 284.3M219.3 575.7L221.3 571.5L221.1 566.7L223.1 562.5M236.9 562.4L235.5 567.1L233.2 571.5L232.7 576.6L231.0 581.2M236.9 562.4L235.6 560.7M231.0 581.2L228.1 582.6M222.0 580.2L228.1 582.6M223.1 562.5L227.3 561.9L231.4 560.7L235.6 560.7M231.7 535.2L231.3 535.6M231.3 535.6L231.1 540.7L231.9 545.8M251.8 546.1L252.4 545.4M251.8 546.1L247.8 546.9L244.1 549.0L239.7 548.7L236.0 550.6M236.0 550.6L231.9 545.8M251.8 546.1L252.2 550.8L253.3 555.5L252.6 560.3L252.7 565.0M271.4 557.6L270.0 559.4M270.0 559.4L265.7 561.1L261.3 562.1L256.8 562.7L252.7 565.0M236.9 562.4L241.9 563.1L246.3 566.0L251.3 566.8M235.6 560.7L235.8 555.6L236.0 550.6M252.7 565.0L251.3 566.8M213.3 545.2L208.0 544.8L202.8 546.4M213.3 545.2L217.7 550.7M217.7 550.7L217.0 556.6M217.0 556.6L212.4 557.9L208.8 560.8M208.8 560.8L204.0 558.8L199.6 556.2M199.6 556.2L202.0 551.5L202.8 546.4M231.3 535.6L226.5 533.8L221.4 533.6L216.5 532.2M216.5 532.2L215.3 536.5L215.0 541.0L213.3 545.2M231.9 545.8L226.9 546.7L222.3 548.6L217.7 550.7M223.1 562.5L220.8 558.8L217.0 556.6M208.8 571.5L209.2 566.1L208.8 560.8M191.9 559.6L195.9 558.1L199.6 556.2M191.3 536.4L195.6 536.1M195.6 536.1L198.3 539.3L199.8 543.4L202.8 546.4M281.9 517.2L285.1 514.5L287.4 510.9L290.3 507.9L293.6 505.2M281.9 517.2L276.1 516.7M276.1 516.7L273.6 513.3L270.2 510.6L267.4 507.4M267.4 507.4L271.3 504.9L275.7 503.1L278.9 499.5L282.9 497.0M282.9 497.0L286.8 499.3L290.0 502.5L293.6 505.2M288.7 531.9L289.3 529.1M289.3 529.1L287.3 524.9L284.3 521.2L281.9 517.2M268.4 531.2L271.2 528.0L273.0 524.4L274.1 520.3L276.1 516.7M265.3 506.9L267.4 507.4M276.8 485.6L281.0 487.5M281.0 487.5L281.9 492.3L282.9 497.0M240.0 601.2L235.9 599.6L233.0 595.9L228.6 594.6M228.6 594.6L225.6 598.7L221.3 601.6L217.7 605.2M207.6 594.6L211.5 597.6L215.1 601.0L217.7 605.2M228.1 582.6L229.3 586.5L227.5 590.6L228.6 594.6M128.0 455.5L130.9 452.0L133.2 448.2L135.6 444.3M120.9 435.7L125.7 436.2L130.4 434.7M130.4 434.7L133.1 439.4L135.6 444.3M146.4 452.9L143.8 449.7L142.6 445.7M135.6 444.3L142.6 445.7M111.5 402.4L115.2 404.1L118.4 406.6L122.1 408.4L125.8 410.1M117.3 421.3L122.4 418.1L125.9 413.3M125.8 410.1L125.9 413.3M133.5 401.2L136.0 397.8L137.6 393.7L140.0 390.1L143.3 387.3M133.5 401.2L131.3 396.9L127.8 393.4L124.7 389.7M124.7 389.7L128.8 385.9L131.3 380.8M143.3 387.3L139.6 384.5L135.6 382.4L131.3 380.8M151.2 401.7L151.8 397.3L150.7 393.0L150.7 388.6M151.2 401.7L147.6 403.8L144.0 405.9M146.5 386.5L150.7 388.6M146.5 386.5L143.3 387.3M133.5 401.3L138.4 404.4L144.0 405.9M133.5 401.3L133.5 401.2M117.0 389.7L124.7 389.7M125.8 410.1L129.8 405.9L133.5 401.3M129.9 371.9L131.0 376.3L131.3 380.8M146.9 373.5L147.6 377.9L147.5 382.2L146.5 386.5M201.8 369.8L201.6 369.8M214.1 381.3L212.1 385.9M194.0 380.6L196.2 376.8L198.7 373.2L201.6 369.8M194.0 380.6L194.4 384.8L196.5 388.6M196.5 388.6L201.6 387.3L207.0 387.5L212.1 385.9M223.1 375.5L226.3 379.8L228.1 384.8L231.5 388.9M231.5 388.9L228.4 392.9L227.1 397.8M227.1 397.8L222.9 395.1L217.9 394.0L213.9 391.0M212.1 385.9L213.9 391.0M158.4 362.3L162.8 363.1L167.2 363.6L171.5 364.2M176.1 355.9L174.9 361.4M171.5 364.2L174.9 361.4M185.6 352.6L189.0 355.4L193.0 357.2M193.0 357.2L193.6 364.0M193.6 364.0L188.9 366.0L184.9 369.3M174.9 361.4L178.8 363.4L181.5 366.7L184.9 369.3M194.0 380.6L189.3 378.3L184.5 376.4M201.6 369.8L197.0 367.7L193.6 364.0M184.9 369.3L184.5 376.4M175.1 483.4L180.0 482.6L184.3 480.2M191.4 490.1L191.0 486.2M184.3 480.2L187.1 483.8L191.0 486.2M198.8 532.8L203.1 532.6L207.4 532.1L211.8 532.9L216.0 531.5M198.8 532.8L199.2 528.2L200.4 523.7L199.8 519.0M199.8 519.0L205.4 518.1L211.2 517.6M216.0 531.5L215.9 526.3L215.8 521.2M215.8 521.2L211.2 517.6M195.6 536.1L198.8 532.8M216.5 532.2L216.0 531.5M194.2 514.1L199.8 519.0M203.3 502.4L206.7 505.1L210.6 506.8M210.6 506.8L210.3 512.2L211.2 517.6M223.7 516.6L220.2 519.6L215.8 521.2M210.6 506.8L215.0 505.1L219.5 503.4L223.3 500.4M226.8 502.0L223.3 500.4M223.0 481.2L222.2 485.3L219.6 488.6L217.7 492.1M223.0 481.2L219.4 476.8L215.4 472.7M215.4 472.7L210.8 475.4L205.9 477.6M211.2 490.9L209.3 487.0L206.8 483.6L204.9 479.8M211.2 490.9L217.7 492.1M205.9 477.6L204.9 479.8M223.3 500.4L220.0 496.6L217.7 492.1M235.9 480.8L231.7 482.0L227.3 480.1L223.0 481.2M202.9 498.6L207.6 495.4L211.2 490.9M191.0 486.2L195.2 483.1L199.9 481.2L204.9 479.8M348.3 488.8L343.9 485.5L340.2 481.4M345.9 499.6L341.6 497.1L336.4 497.0L332.0 494.9M340.2 481.4L337.6 484.7L334.8 487.9L331.7 490.8M332.0 494.9L331.7 490.8M302.5 521.1L301.1 516.7L298.9 512.7L295.8 509.2L293.6 505.2M302.5 521.1L307.1 522.4M307.1 522.4L309.8 517.4L314.2 513.7M314.2 513.7L312.6 505.9M312.6 505.9L308.8 503.2L304.7 501.5L300.2 500.3M300.2 500.3L296.9 502.7L293.6 505.2M289.3 529.1L293.6 526.3L297.8 523.2L302.5 521.1M293.6 505.2L293.6 505.2M302.6 542.0L307.2 539.1M309.3 526.3L307.1 522.4M340.3 520.5L340.3 515.9L338.5 511.7M340.3 520.5L335.8 520.9L331.9 523.1L327.7 524.6M338.5 511.7L334.1 508.8L328.9 507.4M327.7 524.6L326.1 519.4L323.0 515.0M328.9 507.4L325.4 510.7L323.0 515.0M343.2 522.4L340.3 520.5M346.8 501.3L343.6 504.4L341.0 508.0L338.5 511.7M325.3 529.2L327.7 524.6M332.0 494.9L327.0 500.5M327.0 500.5L328.9 507.4M314.2 513.7L318.5 515.1L323.0 515.0M319.9 499.5L327.0 500.5M319.9 499.5L316.0 502.5L312.6 505.9M277.5 301.5L275.4 305.5L275.0 310.0M289.1 318.9L285.2 316.7L281.1 315.1L276.7 314.3M289.1 318.9L290.2 314.8L292.8 311.1L293.5 306.8M275.0 310.0L276.7 314.3M256.9 309.6L258.4 311.8M275.0 310.0L270.9 311.0L266.8 311.8L262.7 312.4L258.4 311.8M368.5 471.5L370.5 476.4L372.4 481.3L375.8 485.5M368.5 471.5L372.7 469.6L375.7 466.1M382.4 483.7L382.2 479.1L384.3 474.7L383.9 470.0M383.9 470.0L380.3 467.2L375.7 466.1M399.9 478.6L397.9 474.3L398.0 469.6M398.0 469.6L394.0 467.8L389.7 466.8M383.9 470.0L389.7 466.8M387.4 595.5L390.8 600.5L392.2 606.3M387.4 595.5L388.6 591.5L390.6 587.7M390.6 587.7L394.0 590.7L398.7 591.3L402.3 594.1M402.3 594.1L401.9 599.8L402.4 605.5M402.4 605.5L397.3 605.2L392.2 606.3M373.3 600.2L377.9 598.3L382.7 597.1L387.4 595.5M373.3 600.2L372.9 600.8M376.8 626.8L380.2 624.0L382.5 620.4L384.8 616.8L386.5 612.7L390.5 610.4L392.2 606.3M390.1 585.6L390.6 587.7M390.1 585.6L393.5 582.7L397.8 581.2L401.6 578.8M410.9 589.1L406.0 590.6L402.3 594.1M406.1 608.1L402.4 605.5M308.7 598.7L306.6 594.1L304.7 589.5L302.5 585.0M322.8 589.3L318.5 583.4M318.5 583.4L314.4 583.1L310.5 584.4L306.6 585.6L302.5 585.0M291.2 597.7L293.6 594.3L295.3 590.4L297.6 586.9L300.4 583.7M302.5 585.0L300.4 583.7M330.8 589.0L333.7 585.3L335.0 580.9L336.7 576.6M350.4 587.0L349.0 581.8L346.4 577.0M346.4 577.0L341.6 577.2L336.7 576.6M388.7 564.6L386.8 568.9L384.2 572.9L382.7 577.4M390.1 585.6L387.0 582.1L383.2 579.3M382.7 577.4L383.2 579.3M373.3 600.2L372.3 594.7L371.7 589.2M383.2 579.3L379.4 582.6L376.1 586.6L371.7 589.2M356.9 588.9L363.4 585.3M371.7 589.2L367.6 587.1L363.4 585.3M193.2 317.9L192.4 322.5L193.5 327.1L191.9 331.6L192.6 336.2M188.6 337.6L192.4 336.4M192.6 336.2L192.4 336.4M204.2 319.2L205.0 323.3L205.9 327.5L207.9 331.2M192.6 336.2L196.2 334.3L200.5 334.5L204.3 333.0L207.9 331.2M193.0 357.2L196.9 355.7L199.8 352.5L203.3 350.3M192.4 336.4L195.1 339.9L197.5 343.6L201.0 346.5L203.3 350.3M210.5 360.5L207.4 357.7L205.4 354.1L203.7 350.4M203.7 350.4L203.3 350.3M167.8 467.2L172.0 467.0L176.2 466.6L180.5 466.8M174.9 448.4L178.4 450.1M178.4 450.1L180.0 454.1L179.6 458.4L180.5 462.5L180.5 466.8M184.3 480.2L184.7 475.4L184.8 470.6M205.9 477.6L202.7 474.7L200.6 471.0L199.2 466.8L195.9 463.9M195.9 463.9L191.8 465.3L188.5 468.4L184.8 470.6M180.5 466.8L184.8 470.6M158.3 419.6L162.0 423.2M158.3 419.6L154.2 418.6L150.1 417.8L145.9 418.3M162.0 423.2L159.7 426.6L156.5 429.3L155.0 433.2L152.5 436.5M145.9 418.3L142.1 422.0L137.7 424.9M152.5 436.5L149.9 436.5M149.9 436.5L146.7 434.0L143.6 431.2L140.8 428.1L137.7 425.4M137.7 425.4L137.7 424.9M151.2 401.7L155.3 403.3L159.4 405.1M159.4 405.1L159.7 410.0L158.2 414.7L158.3 419.6M144.0 405.9L144.4 410.0L144.8 414.2L145.9 418.3M159.2 444.0L155.6 440.4L152.5 436.5M171.7 443.0L172.3 438.7M172.3 438.7L170.4 434.5L167.0 431.2L164.6 427.3L162.4 423.2M162.4 423.2L162.0 423.2M125.9 413.3L128.8 416.3L131.1 419.9L135.1 421.7L137.7 424.9M142.6 445.7L146.4 441.3L149.9 436.5M130.4 434.7L134.0 430.1L137.7 425.4M183.4 429.8L179.5 432.5L175.4 435.0L172.3 438.7M183.4 429.8L187.4 430.7L190.8 433.3L194.7 434.4M178.4 450.1L184.2 449.5L190.0 448.3M194.7 434.4L192.1 438.7L192.6 444.0L190.0 448.3M223.5 358.7L223.4 351.5M203.7 350.4L207.5 348.1L210.9 345.3L213.7 341.8M223.4 351.5L220.1 348.3L216.4 345.5L213.7 341.8M207.9 331.2L214.2 334.1M213.7 341.8L214.2 334.1M223.8 321.9L223.0 326.2L221.1 330.1M221.1 330.1L217.6 332.0L214.2 334.1M253.2 359.1L255.0 353.0M253.2 359.1L248.2 360.3L243.3 361.9M255.0 353.0L252.0 349.0L248.4 345.5M239.0 357.7L239.3 352.7L240.0 347.8M248.4 345.5L244.0 345.8L240.0 347.8M223.4 351.5L226.2 347.9L230.2 345.5L233.2 342.0M240.0 347.8L236.6 344.9L233.2 342.0M221.1 330.1L224.5 333.8L229.2 335.6L233.0 338.6M233.2 342.0L233.0 338.6M362.4 325.5L362.7 329.6L362.2 333.6L361.8 337.7L361.4 341.7M334.0 323.3L332.4 328.3L331.8 333.5L331.0 338.7M361.4 341.7L357.6 344.0L353.0 343.7L349.0 345.3L345.4 347.9L341.1 348.8M331.0 338.7L334.4 342.0L338.3 344.9L341.1 348.8M268.9 103.4L267.8 101.3M268.9 103.4L273.1 104.5L276.5 107.5L280.8 108.4L284.3 111.1L288.6 111.9M267.8 101.3L270.1 97.4L273.0 93.7L274.4 89.3L276.7 85.3L279.6 81.7L281.8 77.7M297.5 105.7L292.8 108.5L288.6 111.9M297.5 105.7L296.4 101.5L297.8 97.1L297.0 92.9L297.1 88.6L295.6 84.4L296.7 80.1L296.4 75.8L295.7 71.6M295.7 71.6L290.8 72.9L286.4 75.6L281.8 77.7M260.1 123.0L261.6 119.0L264.3 115.5L266.1 111.6L267.9 107.7L268.9 103.4M260.4 98.2L264.1 99.7L267.8 101.3M287.3 122.5L288.3 117.2L288.6 111.9M256.6 72.8L260.8 73.9L265.0 74.6L269.0 76.2L273.5 75.5L277.4 77.9L281.8 77.7M314.6 111.1L310.6 109.0L306.1 108.1L302.1 106.0L297.5 105.7M185.4 259.3L182.4 264.3L181.5 270.1M185.4 259.3L181.0 255.4L177.8 250.5M181.5 270.1L177.6 268.0L173.0 267.8L169.2 265.3M169.2 265.3L167.3 258.2M167.3 258.2L171.4 251.5M177.8 250.5L171.4 251.5M194.4 257.6L190.0 259.0L185.4 259.3M182.9 273.3L181.5 270.1M185.8 240.0L182.5 243.0L180.4 247.0L177.8 250.5M164.2 272.5L166.6 268.8L169.2 265.3M155.1 257.8L159.1 258.2L163.2 257.6L167.3 258.2M162.3 238.2L164.7 241.4L166.9 244.8L169.1 248.2L171.4 251.5M288.2 564.3L286.2 568.7L283.1 572.5L280.8 576.7L278.8 581.1M270.0 559.4L270.2 564.4L271.0 569.4L270.2 574.4M270.2 574.4L274.4 577.9L278.8 581.1M288.6 564.2L292.5 567.2L296.9 569.4L300.8 572.3M300.8 572.3L300.2 577.9L300.3 583.5M300.3 583.5L296.1 582.7L291.7 584.1L287.5 583.8L283.3 582.9L279.1 582.5M278.8 581.1L279.1 582.5M281.1 592.7L280.7 587.8L278.8 583.3M300.3 583.5L300.4 583.7M278.8 583.3L279.1 582.5M159.4 405.1L165.5 401.6M165.5 401.6L168.9 405.3L173.4 407.7L176.9 411.2M162.4 423.2L165.9 421.0L169.7 419.4L174.0 418.7L177.2 415.9M176.9 411.2L177.2 415.9M183.4 429.8L182.8 425.6L181.6 421.6L179.7 417.7M179.7 417.7L177.2 415.9M164.1 380.1L162.5 385.9M164.1 380.1L169.6 376.2M169.6 376.2L174.9 378.2L180.4 379.3M162.5 385.9L165.5 389.0L167.6 392.7M167.6 392.7L171.7 392.6L175.9 391.6L180.0 392.0M180.0 392.0L179.5 387.7L179.8 383.5L180.4 379.3M156.1 371.3L160.3 375.5L164.1 380.1M150.7 388.6L154.5 387.0L158.4 386.2L162.5 385.9M171.5 364.2L170.0 368.0L171.3 372.4L169.6 376.2M184.5 376.4L180.4 379.3M165.5 401.6L166.4 397.1L167.6 392.7M186.9 397.0L184.2 400.5L182.5 404.5L178.9 407.3L176.9 411.2M186.9 397.0L183.0 395.1L180.0 392.0M196.5 388.6L193.5 392.3L191.8 396.8M186.9 397.0L191.8 396.8M357.8 485.0L358.4 480.4L357.3 476.0M368.5 471.5L362.2 470.5M362.2 470.5L357.3 476.0M340.2 481.4L339.7 475.1M357.3 476.0L352.4 474.2L347.3 472.9L342.1 472.3M339.7 475.1L342.1 472.3M389.7 466.8L387.9 462.1L387.5 457.1L387.3 452.1M375.7 466.1L375.4 458.2M375.4 458.2L379.3 456.2L383.5 454.4L387.3 452.1M398.0 469.6L400.1 465.9L402.8 462.7L406.7 460.7L409.7 457.8L412.2 454.5L415.3 451.7L417.8 448.4L420.7 445.4L423.0 441.9M423.0 441.9L418.6 442.7L414.4 444.2L410.3 446.0L405.9 447.0L401.2 446.3L397.2 448.9L392.7 449.0L388.4 450.1M388.4 450.1L387.3 452.1M258.0 318.8L262.0 322.2L265.4 326.3L270.0 328.9M258.0 318.8L254.3 322.6L249.4 324.8L245.5 328.3M250.9 335.3L248.0 332.0L245.5 328.4M250.9 335.3L255.2 334.9L259.2 336.8L263.5 337.0M263.5 337.0L267.6 334.0L270.2 329.6M245.5 328.3L245.5 328.4M270.2 329.6L270.0 328.9M276.7 314.3L275.2 318.0L273.5 321.7L271.2 325.1L270.0 328.9M258.4 311.8L258.0 318.8M239.8 321.2L242.5 324.8L245.5 328.3M248.4 345.5L249.9 340.5L250.9 335.3M233.0 338.6L235.7 335.6L238.9 333.1L241.7 330.2L245.5 328.4M265.0 348.1L264.1 342.5L263.5 337.0M265.0 348.1L260.1 350.7L255.0 353.0M258.5 461.0L262.6 458.7L266.6 456.1M251.3 455.1L253.5 449.5L254.7 443.7M266.6 456.1L265.3 452.0L265.5 447.7M254.7 443.7L259.8 446.6L265.5 447.7M274.0 469.5L274.8 468.4M266.6 456.1L270.7 457.6L274.0 460.5M274.8 468.4L274.0 460.5M231.5 388.9L236.1 388.4L240.7 388.1L245.1 386.7M240.8 372.9L244.0 376.3L246.7 380.1M246.7 380.1L245.1 386.7M434.5 439.7L430.8 438.7M423.0 441.9L429.1 438.6M430.8 438.7L429.1 438.6M433.2 384.8L428.9 387.2L424.6 389.8L420.5 392.4L415.7 394.0M430.8 438.7L429.2 434.7L427.2 430.8L425.6 426.8L426.3 422.1L424.5 418.2L423.3 414.0L421.8 410.0L419.8 406.2L419.5 401.8L416.4 398.3L415.7 394.0M319.5 575.9L315.8 573.3L312.6 570.2L309.4 567.0M319.5 575.9L323.2 573.8L326.8 571.5L330.8 569.9M330.7 562.9L330.8 569.9M330.7 562.9L326.4 561.0L321.8 560.8L317.0 561.5L312.7 559.7M309.4 567.0L311.9 560.1M311.9 560.1L312.7 559.7M318.5 583.4L319.5 575.9M300.8 572.3L304.7 568.9L309.4 567.0M336.7 576.6L334.5 572.7L330.8 569.9M334.9 554.8L334.8 556.6M320.5 544.3L317.7 547.8L316.8 552.1L314.1 555.6L312.7 559.7M334.8 556.6L330.7 562.9M300.0 549.7L303.5 553.7L308.2 556.3L311.9 560.1M349.5 564.0L348.6 568.4L349.8 572.7M349.5 564.0L355.3 558.4M349.8 572.7L354.8 572.0L359.6 573.9L364.6 573.7M355.3 558.4L359.3 560.4L363.4 562.1L367.5 563.8M367.5 563.8L367.7 571.0M367.7 571.0L364.6 573.7M346.4 577.0L349.8 572.7M334.8 556.6L338.4 558.6L342.0 560.7L346.3 561.3L349.5 564.0M355.1 552.3L355.3 558.4M363.4 585.3L364.1 579.5L364.6 573.7M373.3 556.7L371.2 560.9L367.5 563.8M382.7 577.4L378.6 576.5L375.5 573.5L371.6 572.2L367.7 571.0M217.9 464.3L221.0 461.6M217.9 464.3L214.0 463.0L210.4 460.7L206.1 460.7L202.3 459.3L198.5 457.8M221.0 461.6L219.7 457.8L218.7 453.8L216.3 450.5L214.6 446.9M198.5 457.8L198.4 457.1M198.4 457.1L202.3 453.7L206.2 450.3L209.4 446.3M214.6 446.9L209.4 446.3M225.6 461.1L221.0 461.6M215.4 472.7L216.9 468.6L217.9 464.3M195.9 463.9L198.5 457.8M190.0 448.3L192.9 451.1L196.1 453.7L198.4 457.1M194.7 434.4L200.4 431.6M200.4 431.6L203.4 434.9L204.9 439.0L207.6 442.4L209.4 446.3M234.7 451.4L234.8 447.1M214.6 446.9L218.5 442.7L222.7 438.9M234.8 447.1L231.2 443.7L226.6 441.8L222.7 438.9M253.2 359.1L255.5 362.4L258.1 365.5L261.0 368.4M246.7 380.1L252.5 379.1L257.5 376.3M261.0 368.4L259.0 372.2L257.5 376.3M308.8 322.5L303.6 328.3M331.0 338.7L326.4 340.2L322.6 343.3L318.6 346.0M318.6 346.0L316.2 341.9L312.6 339.0L309.7 335.4L305.8 332.6L303.6 328.3M289.1 318.9L291.1 322.8L293.5 326.6L295.0 330.7M303.6 328.3L299.2 329.1L295.0 330.7M281.9 334.7L286.3 333.6L290.5 331.5L295.0 330.7M281.9 334.7L278.3 332.3L274.4 330.5L270.2 329.6M295.0 330.7L295.0 330.7M341.1 348.8L340.5 356.3M318.6 346.0L315.8 353.0M315.8 353.0L319.1 355.5L322.9 357.3L325.4 360.9L329.2 362.8M340.5 356.3L336.3 357.7L332.7 360.2L329.2 362.8M249.5 629.3L249.8 625.2L250.1 621.0L250.3 616.8L251.1 612.7L252.9 608.7L252.6 604.5M240.0 601.2L244.2 599.4M252.6 604.5L248.8 601.3L244.2 599.4M266.9 603.4L263.8 601.0M252.6 604.5L258.3 603.1L263.8 601.0M278.8 583.3L274.3 584.3L270.7 587.3L266.4 588.7L262.5 591.0M263.8 601.0L263.3 596.0L262.5 591.0M251.9 571.2L255.4 574.2L258.2 577.7M251.9 571.2L248.2 575.0L244.5 578.8L240.6 582.4M258.2 577.7L258.1 582.6L258.7 587.4M258.7 587.4L254.6 588.2L250.4 588.6L246.7 590.7M240.6 582.4L243.6 586.7L246.7 590.7M251.3 566.8L251.9 571.2M270.2 574.4L266.2 575.2L262.1 575.9L258.2 577.7M231.0 581.2L235.7 582.8L240.6 582.4M262.5 591.0L258.7 587.4M244.2 599.4L245.0 594.9L246.7 590.7M194.5 400.0L195.7 404.9L194.9 410.0L196.0 414.9M194.5 400.0L199.3 401.3L204.2 401.8L209.2 402.2M209.2 402.2L211.6 406.4L213.8 410.8M200.5 418.9L204.5 415.8L209.0 413.5L213.7 411.6M200.5 418.9L196.0 414.9M213.8 410.8L213.7 411.6M191.8 396.8L194.5 400.0M179.7 417.7L183.9 417.5L187.9 416.9L192.1 416.7L196.0 414.9M213.9 391.0L212.4 394.7L211.6 398.8L209.2 402.2M227.1 397.8L227.9 401.0M227.9 401.0L224.0 402.8L220.4 405.3L216.8 407.7L213.8 410.8M200.7 431.1L200.4 431.6M200.7 431.1L200.8 427.0L200.0 423.0L200.5 418.9M364.0 451.1L366.3 446.4L369.3 442.0M364.0 451.1L367.7 453.6L371.1 456.5L375.4 458.2M388.4 450.1L385.3 447.3L382.2 444.5L380.2 440.8M380.2 440.8L374.6 440.3L369.3 442.0M429.1 438.6L425.3 435.7L421.4 432.9L416.5 431.9L412.7 429.0M380.2 440.8L382.2 435.7L384.0 430.5M412.7 429.0L408.6 429.6L404.5 429.6L400.3 428.6L396.2 429.0L392.2 429.9L388.1 430.0L384.0 430.5M369.3 442.0L367.8 436.5L364.7 431.8M364.7 431.8L368.1 425.7M368.1 425.7L373.5 424.1L379.1 423.7M384.0 430.5L381.7 427.0L379.1 423.7M362.9 416.0L366.4 420.4L368.1 425.7M362.9 416.0L365.8 411.2M382.1 413.8L379.9 418.5L379.1 423.7M382.1 413.8L377.5 409.7M365.8 411.2L371.6 409.8L377.5 409.7M348.8 407.3L347.6 412.0L348.1 416.9M348.8 407.3L352.6 404.1L356.9 401.6L361.0 398.8M348.1 416.9L353.0 416.1L358.0 416.1L362.9 416.0M365.8 411.2L363.7 407.2L362.7 402.9L361.0 398.8M281.0 487.5L285.9 484.0L291.0 480.9M274.8 468.4L279.2 468.8L283.8 468.4L288.1 469.9M291.0 480.9L289.0 475.6L288.1 469.9M382.1 413.8L386.9 412.8L391.7 411.5M412.7 429.0L409.9 425.4L407.2 421.8L404.5 418.1L400.9 415.3M391.7 411.5L396.3 413.4L400.9 415.3M254.7 443.7L252.9 440.5M234.8 447.1L238.2 444.5L240.9 441.0M240.9 441.0L245.0 441.9L248.9 440.0L252.9 440.5M279.1 346.6L281.4 350.6L284.6 354.0M279.1 346.6L275.2 348.3L271.1 349.1L266.9 349.3M284.6 354.0L281.1 357.8L278.6 362.5L274.8 366.1M266.9 349.3L268.9 353.0L269.6 357.2L270.5 361.2L272.0 365.2M272.0 365.2L274.8 366.1M265.0 348.1L266.9 349.3M281.9 334.7L281.0 338.7L280.6 342.8L279.1 346.6M261.0 368.4L266.2 365.9L272.0 365.2M348.8 407.3L345.3 403.4L342.5 398.9L338.8 395.1M361.0 398.8L362.3 394.2M362.3 394.2L358.9 391.6L354.6 390.3L351.8 386.6L347.6 385.2M347.6 385.2L345.0 388.8L341.5 391.6L338.8 395.1M340.5 356.3L343.7 359.4L346.3 363.1L349.7 366.1L352.7 369.4M329.2 362.8L328.8 368.2L329.0 373.7M352.7 369.4L349.6 373.5L347.0 377.8M347.0 377.8L342.4 377.2L337.9 376.1L333.7 374.0L329.0 373.7M362.2 470.5L361.0 465.4L358.5 460.8L357.2 455.8M342.1 472.3L342.0 467.4L342.9 462.6M342.9 462.6L347.3 459.6L352.0 457.1L357.2 455.8M364.0 451.1L358.2 453.5M358.2 453.5L357.2 455.8M300.2 500.3L301.5 496.3L303.5 492.5L303.8 488.2M291.0 480.9L295.3 481.2L299.3 482.9M303.8 488.2L299.3 482.9M319.9 499.5L318.7 494.8L315.5 491.2L313.4 487.0M303.8 488.2L308.6 487.4L313.4 487.0M331.7 490.8L327.4 487.9L324.1 483.8L319.7 481.0M313.4 487.0L316.7 484.2L319.7 481.0M265.5 447.7L268.7 444.1L272.7 441.4L276.8 438.9M274.0 460.5L278.2 457.0L282.3 453.5M282.3 453.5L281.4 448.6L281.3 443.7M281.3 443.7L276.8 438.9M264.0 430.1L267.9 432.8L272.7 433.7L276.5 436.7M264.0 430.1L259.7 431.1L255.8 432.9M252.9 440.5L254.9 436.9L255.8 432.9M276.8 438.9L276.5 436.7M288.1 469.9L290.2 465.0L293.8 461.0M299.3 482.9L300.2 478.5L301.9 474.4L305.0 470.9L306.3 466.6M293.8 461.0L297.8 463.4L302.1 464.9L306.3 466.6M282.3 453.5L285.5 456.6L289.7 458.0L293.5 460.1M293.8 461.0L293.5 460.1M265.9 417.6L268.0 415.9M265.9 417.6L261.2 417.1L256.4 417.2L251.9 415.6M268.0 415.9L269.1 410.1M269.1 410.1L265.5 406.7L262.4 402.8L259.9 398.5M251.9 415.6L252.5 411.3L253.7 407.1L255.6 403.1L256.8 398.9M256.8 398.9L259.9 398.5M264.0 430.1L265.6 426.1L265.8 421.8L265.9 417.6M278.0 421.1L273.0 418.4L268.0 415.9M278.0 421.1L278.1 425.1L277.8 429.2L278.6 433.3M278.6 433.3L276.5 436.7M287.6 414.2L284.5 409.2L282.8 403.4M287.6 414.2L283.4 418.5L278.0 421.1M282.8 403.4L277.9 404.9L273.7 407.9L269.1 410.1M266.4 392.0L263.9 396.0L259.9 398.5M266.4 392.0L270.8 393.2L275.0 394.8L278.5 398.1L283.1 398.9M282.8 403.4L283.5 400.1M283.1 398.9L283.5 400.1M266.4 392.0L267.0 386.2M248.4 395.0L246.2 391.1L245.1 386.7M248.4 395.0L253.0 396.1L256.8 398.9M267.0 386.2L264.2 382.6L260.7 379.6L257.5 376.3M358.5 367.4L362.4 368.8L366.3 370.4M358.5 367.4L360.3 362.9L359.1 357.8L360.4 353.2L362.4 348.7L362.6 343.8M366.3 370.4L370.8 368.6L373.8 364.6L378.1 362.7M378.1 362.7L376.9 358.7L377.3 354.6L377.6 350.6M377.6 350.6L373.5 349.6L369.8 347.8L366.6 344.9L362.6 343.8M361.4 341.7L362.6 343.8M352.7 369.4L358.5 367.4M390.9 344.1L386.1 345.5L381.9 348.2L377.6 350.6M400.0 354.4L396.4 357.0L394.1 361.1L390.5 363.7L387.7 367.1M387.7 367.1L382.9 364.8L378.1 362.7M410.2 371.9L406.7 375.4L404.7 380.0M387.7 367.1L389.7 372.1L389.9 377.4M389.9 377.4L394.9 378.2L399.7 379.6L404.7 380.0M415.7 394.0L411.7 392.3L407.6 390.9M404.7 380.0L405.7 385.6L407.6 390.9M391.7 411.5L391.3 406.5L390.4 401.5L390.2 396.5M400.9 415.3L402.1 410.9L403.7 406.5L403.7 401.9L404.5 397.4L405.6 392.9M390.2 396.5L395.1 394.5L400.3 393.6L405.6 392.9M407.6 390.9L405.6 392.9M362.8 394.0L367.5 395.7L372.5 396.3L376.9 398.9M362.8 394.0L365.0 390.6L367.4 387.3L370.0 384.1L371.4 380.1M371.4 380.1L375.5 381.0L379.7 381.7L383.7 383.2M376.9 398.9L381.0 396.1L384.7 392.8M384.7 392.8L384.7 387.9L383.7 383.2M377.5 409.7L377.0 404.3L376.9 398.9M362.3 394.2L362.8 394.0M347.6 385.2L347.0 377.8M366.3 370.4L369.0 375.2L371.4 380.1M389.9 377.4L386.2 379.6L383.7 383.2M390.2 396.5L384.7 392.8M255.8 432.9L252.4 429.4L250.9 424.6L247.3 421.3M251.9 415.6L248.0 418.1M248.0 418.1L247.3 421.3M248.4 395.0L245.8 398.3L241.7 400.2L239.8 404.4L236.1 406.6M248.0 418.1L245.1 415.2L242.4 412.0L239.3 409.2L236.1 406.6M240.9 441.0L240.6 436.3L239.0 431.9L237.3 427.6M247.3 421.3L242.8 425.3L237.3 427.6M227.9 401.0L231.5 404.1L235.7 406.6M236.1 406.6L235.7 406.6M267.0 386.2L272.0 383.5L276.4 379.9M283.1 398.9L283.8 393.1L285.5 387.4M285.5 387.4L280.5 384.1L276.4 379.9M274.8 366.1L277.7 370.1M276.4 379.9L276.5 375.0L277.7 370.1M364.7 431.8L360.2 432.5L355.8 431.7M358.2 453.5L354.3 450.3L351.4 446.2L348.6 442.1M348.6 442.1L350.8 438.5L352.8 434.8L355.8 431.7M348.1 416.9L346.8 418.5M355.8 431.7L352.8 428.9L350.4 425.7L349.2 421.7L346.8 418.5M332.0 410.8L336.1 413.3L339.6 416.4L343.0 419.7M332.0 410.8L333.4 406.0L334.4 401.0L334.8 396.0M334.8 396.0L338.8 395.1M346.8 418.5L343.0 419.7M319.7 481.0L319.9 480.1M306.3 466.6L309.2 465.9M309.2 465.9L311.9 469.4L314.8 472.8L316.9 476.8L319.9 480.1M339.7 475.1L335.7 474.5L331.5 474.3L327.4 473.9M327.4 473.9L323.2 476.4L319.9 480.1M348.6 442.1L344.1 440.7L339.4 440.8M343.0 419.7L340.2 423.7L336.3 427.0L334.2 431.5M334.2 431.5L335.9 436.6L339.4 440.8M281.3 443.7L286.2 442.9L291.1 442.3L296.0 442.2M293.5 460.1L295.6 456.0L297.7 452.0L299.7 447.9M296.0 442.2L299.7 447.9M229.0 417.7L230.7 422.3L233.1 426.6M229.0 417.7L223.6 417.7L218.3 417.2M233.1 426.6L229.8 429.6L225.3 430.9L222.2 434.1M218.3 417.2L217.6 421.4L217.2 425.6L217.1 429.9M217.1 429.9L222.2 434.1M235.7 406.6L232.9 409.9L232.1 414.5L229.0 417.7M237.3 427.6L233.1 426.6M213.7 411.6L218.3 417.2M222.7 438.9L222.2 434.1M200.7 431.1L204.8 429.9L208.9 429.6L213.0 429.8L217.1 429.9M310.5 370.4L306.1 371.6L302.1 374.0L297.6 374.7M310.5 370.4L310.4 366.2L312.7 362.4L312.2 358.1L313.9 354.2M313.9 354.2L309.6 354.0L305.4 354.2L301.4 351.9L297.1 352.3M295.0 371.6L297.6 374.7M295.0 371.6L294.8 367.3L294.8 363.0L294.2 358.7L294.8 354.3M294.8 354.3L297.1 352.3M315.8 353.0L313.9 354.2M329.0 373.7L325.8 377.0L322.0 379.4M322.0 379.4L317.6 377.1L314.8 372.8L310.5 370.4M295.0 330.7L296.0 335.0L296.5 339.3L296.3 343.7L297.6 347.9L297.1 352.3M285.5 387.4L289.6 385.8L292.6 382.2L297.0 381.0M277.7 370.1L282.0 370.4L286.3 371.7L290.6 371.6L295.0 371.6M297.0 381.0L297.6 374.7M284.6 354.0L289.7 355.0L294.8 354.3M334.8 396.0L329.6 393.0L323.7 391.8M322.0 379.4L321.2 386.3M323.7 391.8L321.2 386.3M297.0 381.0L299.2 385.2L302.5 388.6M321.2 386.3L316.5 387.4L311.8 387.6L307.0 387.1L302.5 388.6M283.5 400.1L287.9 399.0L292.4 400.1L296.8 399.6L301.1 398.6M301.1 398.6L302.0 393.6L302.5 388.6M313.6 460.3L317.4 462.0L321.7 461.7L325.5 463.6M313.6 460.3L314.2 454.7L313.6 449.1M313.6 449.1L315.7 446.6M315.7 446.6L320.2 448.0L324.9 448.4L329.2 450.3L333.6 451.9M325.5 463.6L329.4 459.1L334.4 455.7M334.4 455.7L333.6 451.9M309.2 465.9L313.6 460.3M327.4 473.9L327.1 468.6L325.5 463.6M299.7 447.9L304.3 448.0L309.1 447.6L313.6 449.1M342.9 462.6L338.0 460.0L334.4 455.7M339.4 440.8L337.8 444.7L335.7 448.3L333.6 451.9M334.2 431.5L330.7 431.1M315.7 446.6L316.2 442.4M330.7 431.1L327.0 433.8L323.4 436.7L319.2 438.8L316.2 442.4M278.6 433.3L283.0 431.6L287.2 429.5L291.7 428.3M296.0 442.2L298.0 437.8L298.6 432.9M291.7 428.3L294.7 431.4L298.6 432.9M287.6 414.2L290.8 415.8M291.7 428.3L290.5 424.2L290.2 420.1L290.8 415.8M316.2 442.4L312.4 438.6L310.4 433.6L307.4 429.4M298.6 432.9L303.4 432.1L307.4 429.4M321.4 413.8L322.0 417.9L320.9 421.8M321.4 413.8L318.7 409.2L314.3 406.0M320.9 421.8L316.9 424.6L312.3 426.2L307.9 428.2M307.9 428.2L306.3 423.1L304.5 418.1L302.2 413.2M314.3 406.0L306.6 406.5M306.6 406.5L303.5 409.3L302.2 413.2M332.0 410.8L326.9 412.9L321.4 413.8M330.7 431.1L327.3 428.1L324.2 424.9L320.9 421.8M323.7 391.8L321.0 395.2L318.4 398.5L317.4 403.0L314.3 406.0M307.4 429.4L307.9 428.2M290.8 415.8L296.4 414.1L302.2 413.2M301.1 398.6L303.9 402.5L306.6 406.5" fill="none" stroke="#2a0418" stroke-opacity="0.5" stroke-width="0.7" stroke-linejoin="round"/>
<path d="M136.5 266.7L144.5 261.7L159.4 252.7L162.4 255.7L170.4 259.7L175.3 262.7L173.3 268.6L175.3 276.6L180.3 279.6L190.2 277.6L198.2 273.6L199.2 266.7L193.2 259.7L197.2 254.7L208.2 259.7L216.1 256.7L227.0 250.7L225.1 261.7L224.1 267.6L226.1 273.6L230.0 278.6L232.0 287.5L239.0 292.5L243.0 299.5L242.0 311.4L238.0 317.4L232.0 323.3L229.0 329.3L216.1 331.3L206.2 334.3L204.2 341.2L207.2 352.0M242.0 311.4L247.9 313.4L249.9 321.4L249.9 331.3L253.9 335.3M202.2 352.0L198.2 360.0L190.2 365.9L180.3 360.0L170.4 363.9L168.4 369.9L162.4 375.9L154.4 381.8L144.5 385.8L136.5 389.8L126.6 394.8L116.6 401.7L104.7 406.7M168.4 369.9L174.3 371.9L182.3 375.9L183.3 383.8L178.3 391.8L177.3 399.7L182.3 403.7L178.3 409.7L170.4 417.6L168.4 426.6L173.3 431.6L180.3 430.6L186.3 431.6L190.2 435.5L194.2 441.5L198.2 449.5L194.2 455.4L194.2 460.4L197.2 471.4L199.2 477.3L196.2 487.3L194.2 495.2L190.2 502.0M199.2 471.4L210.1 469.4L220.1 465.4L226.1 459.4L228.0 451.5L226.1 441.5L224.1 431.6L230.0 427.6L236.0 431.6L242.0 425.6L246.9 417.6L253.9 413.7L257.9 403.7L265.8 399.7L269.8 391.8L264.8 381.8M226.1 459.4L232.0 451.5L239.0 447.5L242.0 451.5L249.9 449.5L257.9 455.4L263.9 463.4L265.8 467.4L271.8 463.4L273.8 471.4L274.8 475.3L276.8 487.3L279.8 495.2L281.8 502.0M278.3 492.0L284.2 498.0L287.2 503.9L289.2 515.9L288.2 521.8L282.2 523.8L281.2 530.8L278.3 534.8L270.3 538.7L268.3 545.7L271.3 551.7L273.3 561.6L273.3 571.6L272.3 579.5L273.3 587.5L268.3 591.5L260.4 595.4L255.4 599.4M112.7 455.4L120.6 459.4L130.6 457.4L138.5 456.4L144.5 463.4L148.5 471.4L149.5 481.3L144.5 491.2M221.0 143.9L229.0 145.9L236.9 155.8L242.9 164.8L252.8 171.7L261.8 175.7L266.8 179.7L274.7 181.7L280.7 177.7L286.6 181.7L295.6 182.7L300.6 177.7L297.6 171.7L302.6 167.8L308.5 164.8L311.5 159.8L308.5 155.8L303.6 151.8L302.6 145.9L308.5 139.9L310.5 136.3M261.8 175.7L263.8 169.7L270.7 166.8L278.7 168.7L286.6 166.8L294.6 168.7L297.6 171.7M295.6 182.7L304.5 185.7L312.5 185.7L318.5 193.6L324.4 199.6L329.4 203.6M337.4 201.6L340.4 196.6L350.3 191.6L360.2 187.6L366.2 185.3L373.2 183.7L378.2 190.6L386.1 192.6L396.1 195.6L404.0 198.6L412.0 193.6L417.9 190.6L425.9 185.7L431.9 179.7L439.8 172.7L443.8 169.7L447.8 175.7L453.7 179.7L459.7 178.7L469.7 171.7M338.4 211.5L344.3 213.5L352.3 219.5L360.2 221.5L368.2 220.5L371.2 225.4L369.2 233.4L370.2 241.4L368.2 247.3L360.2 251.3L356.3 261.2L348.3 272.0M304.5 224.4L308.5 236.4L313.5 244.3L311.5 253.3L315.5 261.2L317.5 272.0M298.6 314.8L308.5 311.8L316.5 314.8L324.4 311.8L332.4 314.8L340.4 321.7L348.3 317.8L354.3 323.7L360.2 331.7L358.3 339.6L364.2 345.6L368.2 351.6L372.2 357.5L370.2 363.5L360.2 362.5L356.3 365.5L354.3 371.5M368.2 320.7L380.1 314.8L392.1 312.8L404.0 310.8L412.0 314.8L415.0 323.7L419.9 329.7L431.9 331.7L441.8 330.7L451.8 331.7L455.7 323.7L465.7 320.7L477.6 319.7L484.6 315.8M368.2 320.7L367.2 331.7L369.2 341.6L370.2 351.6L372.2 357.5M348.3 272.0L350.3 278.0L356.3 283.9L360.2 291.9L358.3 299.8L364.2 307.8L368.2 320.7" fill="none" stroke="#58505a" stroke-opacity="0.9" stroke-width="1.2" stroke-linejoin="round"/>
</g>
<path d="M445.8 146.9L455.7 143.9L462.7 141.9L477.6 143.9L478.0 149.8L476.0 158.2L471.6 153.8L463.7 151.8L455.7 151.8L449.8 149.8ZM378.1 107.6L381.7 105.2L388.8 103.4L398.3 104.0L400.6 106.4L394.7 106.4L386.4 106.4L381.7 109.9L378.1 112.3ZM413.1 96.3L418.4 93.9L423.2 94.8L426.7 96.3L425.5 99.0L418.4 100.2L414.3 99.0ZM438.6 124.2L440.0 124.2L441.0 128.9L443.3 133.1L446.9 136.0L449.5 138.4L446.9 142.2L443.6 144.6L442.1 146.5L440.7 145.3L444.3 142.2L446.9 139.0L444.5 136.6L441.7 133.9L439.5 129.2Z" fill="#1e2326"/>
<path d="M228.3 143.3L234.2 149.3L242.2 157.3L248.2 165.2L250.1 172.0" fill="none" stroke="#1e2326" stroke-width="1.3"/>
<g font-family="Liberation Sans" fill="#e2e2e2" stroke="#303030" stroke-opacity="0.7" stroke-width="2.2" stroke-linejoin="round" paint-order="stroke" text-anchor="middle">
<text x="385" y="7" font-size="11.5">Kopenhagen</text>
<text x="199" y="24" font-size="10.5">Esbjerg</text>
<text x="268" y="174.5" font-size="12.5">Hamburg</text>
<text x="214" y="210" font-size="11.5">Bremen</text>
<text x="476" y="183" font-size="11.5">Stettin</text>
<text x="257" y="263" font-size="11.5">Hannover</text>
<text x="422" y="254" font-size="13">Berlin</text>
<text x="202" y="289" font-size="11.5">Bielefeld</text>
<text x="36" y="263" font-size="11.5">Amsterdam</text>
<text x="132" y="331" font-size="11.5">Essen</text>
<text x="122" y="348" font-size="11.5">Düsseldorf</text>
<text x="130" y="368" font-size="11.5">Köln</text>
<text x="377" y="339" font-size="11.5">Leipzig</text>
<text x="439" y="360" font-size="11.5">Dresden</text>
<text x="401" y="375" font-size="10.5">Chemnitz</text>
<text x="209" y="428" font-size="11.5">Frankfurt</text>
<text x="470" y="430.5" font-size="12.5">Prag</text>
<text x="92" y="463" font-size="11.5">Luxemburg</text>
<text x="199" y="472" font-size="11.5">Mannheim</text>
<text x="318" y="474" font-size="11.5">Nürnberg</text>
<text x="132" y="489" font-size="10.5">Saarbrücken</text>
<text x="231" y="522" font-size="11.5">Stuttgart</text>
<text x="340" y="565.5" font-size="12.5">München</text>
<text x="558" y="561.5" font-size="12.5">Wien</text>
<text x="202" y="616" font-size="11.5">Zürich</text>
<text x="247" y="631" font-size="11.5">Vaduz</text>
</g>
<g font-family="Liberation Sans" fill="#e2e2e2" stroke="#303030" stroke-opacity="0.7" stroke-width="2.2" stroke-linejoin="round" paint-order="stroke">
<text x="0" y="285" font-size="11.5">n Haag</text>
<text x="0" y="297.5" font-size="11.5">otterdam</text>
<text x="0" y="348" font-size="11.5">twerpen</text>
<text x="0" y="374" font-size="11.5">rüssel</text>
<text x="566.5" y="260" font-size="11.5">P</text>
<text x="567" y="356" font-size="11.5">B</text>
<text x="532.5" y="595" font-size="10.5">M</text>
<text x="568.5" y="595" font-size="10.5">bu</text>
</g>
<g font-family="Liberation Sans" fill="#8c8c8c" stroke="#2f3131" stroke-width="1.6" stroke-linejoin="round" paint-order="stroke" text-anchor="middle">
<text x="75.3" y="229" font-size="11.7" letter-spacing="3.1">NIEDERLANDE</text>
<text x="273.5" y="329.5" font-size="13" letter-spacing="3.8">DEUTSCHLAND</text>
<text x="40.1" y="402.29999999999995" font-size="10.3" letter-spacing="2.2">BELGIEN</text>
<text x="91.9" y="451" font-size="10" letter-spacing="1.16">LUXEMBURG</text>
<text x="461.8" y="622.5" font-size="11" letter-spacing="3.5">ÖSTERREICH</text>
<text x="501.5" y="97" font-size="12" letter-spacing="1.56" fill="#6f7578" stroke="none">Ostsee</text>
<text x="478" y="463" font-size="11" letter-spacing="3.3" text-anchor="start">TSCHECHIEN</text>
</g>
<rect x="7" y="5" width="58" height="33" fill="#333"/>
<line x1="38.5" y1="6" x2="38.5" y2="37" stroke="#4d4d4d"/>
<path d="M15.2 15.599999999999994V26L18.1 23.5L20.5 28.599999999999994L22.4 27.69999999999999L20.1 23L23.6 21.80000000000001Z" fill="#333" stroke="#d2d2d2" stroke-width="1"/>
<path d="M21.5 18V14.400000000000006H31V23.69999999999999H24.5M25.6 14.400000000000006V18M27 16L29.5 17.5L28 22" fill="none" stroke="#d2d2d2" stroke-width="1"/>
<path d="M46.2 19.400000000000006H59L52.6 25.80000000000001Z" fill="none" stroke="#d2d2d2" stroke-width="1.2"/>
<rect x="437.5" y="5.5" width="131.5" height="34.5" fill="#333" stroke="#4b4b4b" stroke-width="1"/>
<circle cx="452.4" cy="19.400000000000006" r="5" fill="none" stroke="#d2d2d2" stroke-width="1.2"/><line x1="456" y1="23.19999999999999" x2="461.8" y2="29" stroke="#d2d2d2" stroke-width="1.3"/>
<path d="M483.3 15.400000000000006H492.7V29.80000000000001L488 26.400000000000006L483.3 29.80000000000001Z" fill="none" stroke="#d2d2d2" stroke-width="1.2"/>
<line x1="518" y1="16.599999999999994" x2="527" y2="16.599999999999994" stroke="#d2d2d2" stroke-width="1"/>
<rect x="513.3" y="15.299999999999983" width="2.6" height="2.6" fill="none" stroke="#d2d2d2" stroke-width="0.8"/>
<line x1="518" y1="20.599999999999994" x2="527" y2="20.599999999999994" stroke="#d2d2d2" stroke-width="1"/>
<rect x="513.3" y="19.299999999999983" width="2.6" height="2.6" fill="none" stroke="#d2d2d2" stroke-width="0.8"/>
<line x1="518" y1="24.599999999999994" x2="527" y2="24.599999999999994" stroke="#d2d2d2" stroke-width="1"/>
<rect x="513.3" y="23.299999999999983" width="2.6" height="2.6" fill="none" stroke="#d2d2d2" stroke-width="0.8"/>
<line x1="518" y1="28.69999999999999" x2="527" y2="28.69999999999999" stroke="#d2d2d2" stroke-width="1"/>
<rect x="513.3" y="27.399999999999977" width="2.6" height="2.6" fill="none" stroke="#d2d2d2" stroke-width="0.8"/>
<rect x="544.2" y="15.199999999999989" width="6.5" height="6.5" fill="none" stroke="#d2d2d2" stroke-width="1"/>
<rect x="553.4" y="15.199999999999989" width="6.5" height="6.5" fill="none" stroke="#d2d2d2" stroke-width="1"/>
<rect x="544.2" y="24.400000000000006" width="6.5" height="6.5" fill="none" stroke="#d2d2d2" stroke-width="1"/>
<rect x="553.4" y="24.400000000000006" width="6.5" height="6.5" fill="none" stroke="#d2d2d2" stroke-width="1"/>
<path d="M545 16L550 21M559 16L554.5 20.5M545.5 28.5H549V25.5M554 30L559 25M555.5 25.5L558.5 29.5" stroke="#d2d2d2" stroke-width="0.8" fill="none"/>
<rect x="537.5" y="566.5" width="30" height="57" fill="#333" stroke="#4b4b4b" stroke-width="1"/>
<path d="M546.8 581H559.2M553 574.8V587.2M546.8 607.8H559.2" stroke="#d2d2d2" stroke-width="1.5" fill="none"/>
<rect x="307" y="629.3" width="258" height="3" fill="#c9c9c9"/>
</svg>
</div>

<!-- ===== indicators ===== -->
<div class="panel" style="left:596px;top:13px;width:305px;height:133px;"></div>
<div class="panel" style="left:911px;top:13px;width:300px;height:133px;"></div>
<div class="panel" style="left:1221px;top:13px;width:300px;height:133px;"></div>
<div class="abs" style="left:597px;top:89px;width:303px;height:1px;background:#393939;"></div>
<div class="abs" style="left:912px;top:89px;width:298px;height:1px;background:#393939;"></div>
<div class="abs" style="left:1222px;top:89px;width:298px;height:1px;background:#393939;"></div>

<div class="t c" style="left:748.5px;top:27px;font-size:18px;color:#f0f0f0;">7-Tage-Inzidenz</div>
<div class="t c" style="left:748.5px;top:47px;font-size:38.7px;color:#e0e0e0;">665,0</div>
<div class="t c" style="left:749px;top:100.7px;font-size:9.4px;">7-Tage-Fallzahl</div>
<div class="t c cy" style="left:748.5px;top:113px;font-size:20.2px;font-weight:bold;">552.959</div>
<div class="t c cy" style="left:748px;top:134.8px;font-size:9.8px;">von 552.959</div>

<div class="t c" style="left:1061px;top:27px;font-size:18px;color:#f0f0f0;">COVID-19-Fälle</div>
<div class="t c cy" style="left:1060.5px;top:47px;font-size:38.7px;font-weight:bold;">+1</div>
<div class="t c" style="left:1061px;top:100.7px;font-size:9.4px;">Gesamt</div>
<div class="t c cy" style="left:1061px;top:113px;font-size:20.2px;font-weight:bold;">28.392.630</div>
<div class="t c cy" style="left:1061px;top:134.8px;font-size:9.8px;">von 28.392.630</div>

<div class="t c" style="left:1372.5px;top:50px;font-size:14.4px;color:#f0f0f0;">Keine neuen Todesfälle</div>
<div class="t c" style="left:1372.5px;top:100.7px;font-size:9.4px;">Gesamt</div>
<div class="t c cy" style="left:1372.5px;top:113px;font-size:20.2px;font-weight:bold;">141.292</div>
<div class="t c cy" style="left:1372.5px;top:134.8px;font-size:9.8px;">von 141.292</div>

<!-- ===== bar chart panel ===== -->
<div class="panel" style="left:596px;top:156px;width:925px;height:222px;border-bottom:none;"></div>
<div class="panel" style="left:606px;top:377px;width:915px;height:30px;border-top:none;"></div>
<div class="abs" style="left:596px;top:377px;width:11px;height:1px;background:#393939;"></div>
<div class="t c" style="left:1060px;top:173px;font-size:13.7px;font-weight:bold;">COVID-19-Fälle nach Altersgruppe und Geschlecht</div>
<div class="t c" style="left:1060px;top:385px;font-size:12.5px;">Fälle Altersgruppe</div>
<svg width="1508" height="759" id="barsvg">
<line x1="685.6" y1="298.5" x2="1388.0" y2="298.5" stroke="#3d3d3d" stroke-width="1" stroke-dasharray="3 3"/>
<line x1="685.6" y1="257.5" x2="1388.0" y2="257.5" stroke="#3d3d3d" stroke-width="1" stroke-dasharray="3 3"/>
<line x1="685.6" y1="216.5" x2="1388.0" y2="216.5" stroke="#3d3d3d" stroke-width="1" stroke-dasharray="3 3"/>
<line x1="802.7" y1="216.5" x2="802.7" y2="339.5" stroke="#3d3d3d" stroke-width="1" stroke-dasharray="3 3"/>
<line x1="919.7" y1="216.5" x2="919.7" y2="339.5" stroke="#3d3d3d" stroke-width="1" stroke-dasharray="3 3"/>
<line x1="1036.8" y1="216.5" x2="1036.8" y2="339.5" stroke="#3d3d3d" stroke-width="1" stroke-dasharray="3 3"/>
<line x1="1153.9" y1="216.5" x2="1153.9" y2="339.5" stroke="#3d3d3d" stroke-width="1" stroke-dasharray="3 3"/>
<line x1="1270.9" y1="216.5" x2="1270.9" y2="339.5" stroke="#3d3d3d" stroke-width="1" stroke-dasharray="3 3"/>
<line x1="1388.0" y1="216.5" x2="1388.0" y2="339.5" stroke="#3d3d3d" stroke-width="1" stroke-dasharray="3 3"/>
<line x1="685.6" y1="216.5" x2="685.6" y2="339.5" stroke="#6e6e6e" stroke-width="1"/>
<line x1="680.6" y1="339.5" x2="1388.0" y2="339.5" stroke="#8a8a8a" stroke-width="1"/>
<line x1="680.6" y1="339.5" x2="685.6" y2="339.5" stroke="#6e6e6e" stroke-width="1"/>
<text x="672.5" y="343.5" font-size="11.2" fill="#fff" text-anchor="end">0</text>
<line x1="680.6" y1="298.5" x2="685.6" y2="298.5" stroke="#6e6e6e" stroke-width="1"/>
<text x="672.5" y="302.5" font-size="11.2" fill="#fff" text-anchor="end">2.000.000</text>
<line x1="680.6" y1="257.5" x2="685.6" y2="257.5" stroke="#6e6e6e" stroke-width="1"/>
<text x="672.5" y="261.5" font-size="11.2" fill="#fff" text-anchor="end">4.000.000</text>
<line x1="680.6" y1="216.5" x2="685.6" y2="216.5" stroke="#6e6e6e" stroke-width="1"/>
<text x="672.5" y="220.5" font-size="11.2" fill="#fff" text-anchor="end">6.000.000</text>
<rect x="696.6" y="330.1" width="45" height="9.4" fill="#0085a9" stroke="#1b1b1b" stroke-width="1"/>
<text x="719.1" y="327.1" font-size="11.2" fill="#fff" text-anchor="middle">457,4T</text>
<rect x="746.6" y="330.7" width="45" height="8.8" fill="#004d74" stroke="#1b1b1b" stroke-width="1"/>
<text x="769.1" y="327.7" font-size="11.2" fill="#fff" text-anchor="middle">430,8T</text>
<text x="744.1" y="363.5" font-size="11.2" fill="#fff" text-anchor="middle">0-4</text>
<rect x="813.7" y="297.5" width="45" height="42.0" fill="#0085a9" stroke="#1b1b1b" stroke-width="1"/>
<text x="836.2" y="294.5" font-size="11.2" fill="#fff" text-anchor="middle">2M</text>
<rect x="863.7" y="300.6" width="45" height="38.9" fill="#004d74" stroke="#1b1b1b" stroke-width="1"/>
<text x="886.2" y="297.6" font-size="11.2" fill="#fff" text-anchor="middle">1,9M</text>
<text x="861.2" y="363.5" font-size="11.2" fill="#fff" text-anchor="middle">5-14</text>
<rect x="930.8" y="253.4" width="45" height="86.1" fill="#0085a9" stroke="#1b1b1b" stroke-width="1"/>
<text x="953.3" y="250.4" font-size="11.2" fill="#fff" text-anchor="middle">4,2M</text>
<rect x="980.8" y="248.1" width="45" height="91.4" fill="#004d74" stroke="#1b1b1b" stroke-width="1"/>
<text x="1003.3" y="245.1" font-size="11.2" fill="#fff" text-anchor="middle">4,4M</text>
<text x="978.3" y="363.5" font-size="11.2" fill="#fff" text-anchor="middle">15-34</text>
<rect x="1047.8" y="237.0" width="45" height="102.5" fill="#0085a9" stroke="#1b1b1b" stroke-width="1"/>
<text x="1070.3" y="234.0" font-size="11.2" fill="#fff" text-anchor="middle">5M</text>
<rect x="1097.8" y="224.9" width="45" height="114.6" fill="#004d74" stroke="#1b1b1b" stroke-width="1"/>
<text x="1095.3" y="363.5" font-size="11.2" fill="#fff" text-anchor="middle">35-59</text>
<rect x="1164.9" y="307.1" width="45" height="32.4" fill="#0085a9" stroke="#1b1b1b" stroke-width="1"/>
<text x="1187.4" y="304.1" font-size="11.2" fill="#fff" text-anchor="middle">1,5M</text>
<rect x="1214.9" y="305.9" width="45" height="33.6" fill="#004d74" stroke="#1b1b1b" stroke-width="1"/>
<text x="1237.4" y="302.9" font-size="11.2" fill="#fff" text-anchor="middle">1,6M</text>
<text x="1212.4" y="363.5" font-size="11.2" fill="#fff" text-anchor="middle">60-79</text>
<rect x="1282.0" y="331.9" width="45" height="7.6" fill="#0085a9" stroke="#1b1b1b" stroke-width="1"/>
<text x="1304.5" y="328.9" font-size="11.2" fill="#fff" text-anchor="middle">371,8T</text>
<rect x="1332.0" y="326.8" width="45" height="12.7" fill="#004d74" stroke="#1b1b1b" stroke-width="1"/>
<text x="1354.5" y="323.8" font-size="11.2" fill="#fff" text-anchor="middle">617,1T</text>
<text x="1329.5" y="363.5" font-size="11.2" fill="#fff" text-anchor="middle">80+</text>
<circle cx="1434" cy="283.5" r="7.5" fill="#0085a9"/><text x="1447" y="288" font-size="11.2" fill="#fff">Männlich</text>
<circle cx="1434" cy="312" r="7.5" fill="#004d74"/><text x="1447" y="316.5" font-size="11.2" fill="#fff">Weiblich</text>
<path d="M625 385.5 L618.5 391.5 L625 397.5 Z" fill="none" stroke="#fff" stroke-width="1.2"/>
<path d="M1495 385.5 L1501.5 391.5 L1495 397.5 Z" fill="none" stroke="#fff" stroke-width="1.2"/>
</svg>

<!-- ===== line chart panel ===== -->
<div class="panel" style="left:596px;top:417px;width:925px;height:360px;"></div>
<div class="t" id="linetitle" style="left:791px;top:431px;font-size:15.8px;font-weight:bold;">COVID-19-Fälle/Tag nach <u>Erkrankungs-/</u>Meldedatum (siehe Erläuterung)</div>
<svg width="1508" height="759" id="linesvg">
<line x1="676.4" y1="646.0" x2="1491.6" y2="646.0" stroke="#3d3d3d" stroke-width="1" stroke-dasharray="3 3"/>
<line x1="676.4" y1="594.5" x2="1491.6" y2="594.5" stroke="#3d3d3d" stroke-width="1" stroke-dasharray="3 3"/>
<line x1="676.4" y1="543.0" x2="1491.6" y2="543.0" stroke="#3d3d3d" stroke-width="1" stroke-dasharray="3 3"/>
<line x1="676.4" y1="491.5" x2="1491.6" y2="491.5" stroke="#3d3d3d" stroke-width="1" stroke-dasharray="3 3"/>
<line x1="706.3" y1="491.5" x2="706.3" y2="697.5" stroke="#3d3d3d" stroke-width="1" stroke-dasharray="3 3"/>
<line x1="706.3" y1="697.5" x2="706.3" y2="702.5" stroke="#8a8a8a" stroke-width="1"/>
<text x="709.8" y="716" font-size="11.2" fill="#fff">Apr</text>
<line x1="793.3" y1="491.5" x2="793.3" y2="697.5" stroke="#3d3d3d" stroke-width="1" stroke-dasharray="3 3"/>
<line x1="793.3" y1="697.5" x2="793.3" y2="702.5" stroke="#8a8a8a" stroke-width="1"/>
<text x="796.8" y="716" font-size="11.2" fill="#fff">Jul</text>
<line x1="880.4" y1="491.5" x2="880.4" y2="697.5" stroke="#3d3d3d" stroke-width="1" stroke-dasharray="3 3"/>
<line x1="880.4" y1="697.5" x2="880.4" y2="702.5" stroke="#8a8a8a" stroke-width="1"/>
<text x="883.9" y="716" font-size="11.2" fill="#fff">Okt</text>
<line x1="968.0" y1="491.5" x2="968.0" y2="697.5" stroke="#3d3d3d" stroke-width="1" stroke-dasharray="3 3"/>
<line x1="968.0" y1="697.5" x2="968.0" y2="702.5" stroke="#8a8a8a" stroke-width="1"/>
<text x="971.5" y="716" font-size="11.2" fill="#fff" font-weight="bold">2021</text>
<line x1="1054.5" y1="491.5" x2="1054.5" y2="697.5" stroke="#3d3d3d" stroke-width="1" stroke-dasharray="3 3"/>
<line x1="1054.5" y1="697.5" x2="1054.5" y2="702.5" stroke="#8a8a8a" stroke-width="1"/>
<text x="1058.0" y="716" font-size="11.2" fill="#fff">Apr</text>
<line x1="1141.5" y1="491.5" x2="1141.5" y2="697.5" stroke="#3d3d3d" stroke-width="1" stroke-dasharray="3 3"/>
<line x1="1141.5" y1="697.5" x2="1141.5" y2="702.5" stroke="#8a8a8a" stroke-width="1"/>
<text x="1145.0" y="716" font-size="11.2" fill="#fff">Jul</text>
<line x1="1229.8" y1="491.5" x2="1229.8" y2="697.5" stroke="#3d3d3d" stroke-width="1" stroke-dasharray="3 3"/>
<line x1="1229.8" y1="697.5" x2="1229.8" y2="702.5" stroke="#8a8a8a" stroke-width="1"/>
<text x="1233.3" y="716" font-size="11.2" fill="#fff">Okt</text>
<line x1="1318.1" y1="491.5" x2="1318.1" y2="697.5" stroke="#3d3d3d" stroke-width="1" stroke-dasharray="3 3"/>
<line x1="1318.1" y1="697.5" x2="1318.1" y2="702.5" stroke="#8a8a8a" stroke-width="1"/>
<text x="1321.6" y="716" font-size="11.2" fill="#fff" font-weight="bold">2022</text>
<line x1="1404.5" y1="491.5" x2="1404.5" y2="697.5" stroke="#3d3d3d" stroke-width="1" stroke-dasharray="3 3"/>
<line x1="1404.5" y1="697.5" x2="1404.5" y2="702.5" stroke="#8a8a8a" stroke-width="1"/>
<text x="1408.0" y="716" font-size="11.2" fill="#fff">Apr</text>
<line x1="1491.6" y1="491.5" x2="1491.6" y2="697.5" stroke="#3d3d3d" stroke-width="1" stroke-dasharray="3 3"/>
<line x1="1491.6" y1="697.5" x2="1491.6" y2="702.5" stroke="#8a8a8a" stroke-width="1"/>
<text x="1495.1" y="716" font-size="11.2" fill="#fff">Jul</text>
<line x1="671.4" y1="697.5" x2="676.4" y2="697.5" stroke="#6e6e6e" stroke-width="1"/>
<text x="664" y="701.5" font-size="11.2" fill="#fff" text-anchor="end">0</text>
<line x1="671.4" y1="646.0" x2="676.4" y2="646.0" stroke="#6e6e6e" stroke-width="1"/>
<text x="664" y="650.0" font-size="11.2" fill="#fff" text-anchor="end">100.000</text>
<line x1="671.4" y1="594.5" x2="676.4" y2="594.5" stroke="#6e6e6e" stroke-width="1"/>
<text x="664" y="598.5" font-size="11.2" fill="#fff" text-anchor="end">200.000</text>
<line x1="671.4" y1="543.0" x2="676.4" y2="543.0" stroke="#6e6e6e" stroke-width="1"/>
<text x="664" y="547.0" font-size="11.2" fill="#fff" text-anchor="end">300.000</text>
<line x1="671.4" y1="491.5" x2="676.4" y2="491.5" stroke="#6e6e6e" stroke-width="1"/>
<text x="664" y="495.5" font-size="11.2" fill="#fff" text-anchor="end">400.000</text>
<rect x="676.4" y="477" width="815.1999999999999" height="14.5" fill="#2e2e2e"/>
<path d="M676.65 697.5L676.65 697.5L677.60 697.5L677.60 697.5L678.56 697.5L678.56 697.5L679.52 697.5L679.52 697.4L680.47 697.4L680.47 697.4L681.43 697.4L681.43 697.4L682.39 697.4L682.39 697.4L683.34 697.4L683.34 697.4L684.30 697.4L684.30 697.3L685.26 697.3L685.26 697.1L686.21 697.1L686.21 696.9L687.17 696.9L687.17 696.8L688.13 696.8L688.13 696.7L689.08 696.7L689.08 696.6L690.04 696.6L690.04 696.6L691.00 696.6L691.00 696.0L691.95 696.0L691.95 695.7L692.91 695.7L692.91 695.5L693.87 695.5L693.87 695.2L694.82 695.2L694.82 695.2L695.78 695.2L695.78 695.2L696.73 695.2L696.73 695.3L697.69 695.3L697.69 694.5L698.65 694.5L698.65 694.3L699.60 694.3L699.60 694.2L700.56 694.2L700.56 694.2L701.52 694.2L701.52 694.5L702.47 694.5L702.47 694.9L703.43 694.9L703.43 695.3L704.39 695.3L704.39 694.4L705.34 694.4L705.34 694.3L706.30 694.3L706.30 694.5L707.26 694.5L707.26 694.7L708.21 694.7L708.21 694.9L709.17 694.9L709.17 695.3L710.13 695.3L710.13 695.8L711.08 695.8L711.08 695.1L712.04 695.1L712.04 695.1L713.00 695.1L713.00 695.4L713.95 695.4L713.95 695.6L714.91 695.6L714.91 695.8L715.87 695.8L715.87 696.1L716.82 696.1L716.82 696.4L717.78 696.4L717.78 696.0L718.73 696.0L718.73 696.1L719.69 696.1L719.69 696.1L720.65 696.1L720.65 696.2L721.60 696.2L721.60 696.4L722.56 696.4L722.56 696.6L723.52 696.6L723.52 696.7L724.47 696.7L724.47 696.6L725.43 696.6L725.43 696.6L726.39 696.6L726.39 696.7L727.34 696.7L727.34 696.8L728.30 696.8L728.30 696.8L729.26 696.8L729.26 696.9L730.21 696.9L730.21 697.0L731.17 697.0L731.17 696.9L732.13 696.9L732.13 696.9L733.08 696.9L733.08 696.9L734.04 696.9L734.04 697.0L735.00 697.0L735.00 697.0L735.95 697.0L735.95 697.1L736.91 697.1L736.91 697.2L737.87 697.2L737.87 697.1L738.82 697.1L738.82 697.1L739.78 697.1L739.78 697.2L740.73 697.2L740.73 697.2L741.69 697.2L741.69 697.2L742.65 697.2L742.65 697.2L743.60 697.2L743.60 697.3L744.56 697.3L744.56 697.2L745.52 697.2L745.52 697.2L746.47 697.2L746.47 697.2L747.43 697.2L747.43 697.2L748.39 697.2L748.39 697.2L749.34 697.2L749.34 697.3L750.30 697.3L750.30 697.3L751.26 697.3L751.26 697.2L752.21 697.2L752.21 697.2L753.17 697.2L753.17 697.2L754.13 697.2L754.13 697.2L755.08 697.2L755.08 697.3L756.04 697.3L756.04 697.3L757.00 697.3L757.00 697.3L757.95 697.3L757.95 697.3L758.91 697.3L758.91 697.3L759.86 697.3L759.86 697.3L760.82 697.3L760.82 697.3L761.78 697.3L761.78 697.3L762.73 697.3L762.73 697.3L763.69 697.3L763.69 697.3L764.65 697.3L764.65 697.3L765.60 697.3L765.60 697.3L766.56 697.3L766.56 697.3L767.52 697.3L767.52 697.3L768.47 697.3L768.47 697.3L769.43 697.3L769.43 697.3L770.39 697.3L770.39 697.3L771.34 697.3L771.34 697.3L772.30 697.3L772.30 697.3L773.26 697.3L773.26 697.3L774.21 697.3L774.21 697.3L775.17 697.3L775.17 697.3L776.13 697.3L776.13 697.3L777.08 697.3L777.08 697.3L778.04 697.3L778.04 697.3L779.00 697.3L779.00 697.3L779.95 697.3L779.95 697.3L780.91 697.3L780.91 697.3L781.86 697.3L781.86 697.3L782.82 697.3L782.82 697.3L783.78 697.3L783.78 697.3L784.73 697.3L784.73 697.3L785.69 697.3L785.69 697.2L786.65 697.2L786.65 697.3L787.60 697.3L787.60 697.3L788.56 697.3L788.56 697.3L789.52 697.3L789.52 697.3L790.47 697.3L790.47 697.3L791.43 697.3L791.43 697.3L792.39 697.3L792.39 697.3L793.34 697.3L793.34 697.3L794.30 697.3L794.30 697.3L795.26 697.3L795.26 697.3L796.21 697.3L796.21 697.3L797.17 697.3L797.17 697.3L798.13 697.3L798.13 697.3L799.08 697.3L799.08 697.3L800.04 697.3L800.04 697.3L801.00 697.3L801.00 697.2L801.95 697.2L801.95 697.2L802.91 697.2L802.91 697.3L803.86 697.3L803.86 697.3L804.82 697.3L804.82 697.2L805.78 697.2L805.78 697.2L806.73 697.2L806.73 697.2L807.69 697.2L807.69 697.2L808.65 697.2L808.65 697.2L809.60 697.2L809.60 697.2L810.56 697.2L810.56 697.2L811.52 697.2L811.52 697.1L812.47 697.1L812.47 697.1L813.43 697.1L813.43 697.1L814.39 697.1L814.39 697.1L815.34 697.1L815.34 697.1L816.30 697.1L816.30 697.1L817.26 697.1L817.26 697.2L818.21 697.2L818.21 697.1L819.17 697.1L819.17 697.0L820.13 697.0L820.13 697.0L821.08 697.0L821.08 697.0L822.04 697.0L822.04 697.0L823.00 697.0L823.00 697.1L823.95 697.1L823.95 697.1L824.91 697.1L824.91 696.9L825.86 696.9L825.86 697.0L826.82 697.0L826.82 696.9L827.78 696.9L827.78 697.0L828.73 697.0L828.73 696.9L829.69 696.9L829.69 697.0L830.65 697.0L830.65 697.1L831.60 697.1L831.60 696.9L832.56 696.9L832.56 696.9L833.52 696.9L833.52 696.8L834.47 696.8L834.47 696.9L835.43 696.9L835.43 696.9L836.39 696.9L836.39 697.0L837.34 697.0L837.34 697.0L838.30 697.0L838.30 696.8L839.26 696.8L839.26 696.8L840.21 696.8L840.21 696.8L841.17 696.8L841.17 696.8L842.13 696.8L842.13 696.8L843.08 696.8L843.08 696.9L844.04 696.9L844.04 697.0L844.99 697.0L844.99 696.8L845.95 696.8L845.95 696.8L846.91 696.8L846.91 696.7L847.86 696.7L847.86 696.7L848.82 696.7L848.82 696.8L849.78 696.8L849.78 696.8L850.73 696.8L850.73 697.0L851.69 697.0L851.69 696.7L852.65 696.7L852.65 696.7L853.60 696.7L853.60 696.6L854.56 696.6L854.56 696.7L855.52 696.7L855.52 696.7L856.47 696.7L856.47 696.8L857.43 696.8L857.43 696.9L858.39 696.9L858.39 696.7L859.34 696.7L859.34 696.5L860.30 696.5L860.30 696.6L861.26 696.6L861.26 696.6L862.21 696.6L862.21 696.6L863.17 696.6L863.17 696.7L864.13 696.7L864.13 696.8L865.08 696.8L865.08 696.5L866.04 696.5L866.04 696.4L866.99 696.4L866.99 696.5L867.95 696.5L867.95 696.5L868.91 696.5L868.91 696.5L869.86 696.5L869.86 696.6L870.82 696.6L870.82 696.7L871.78 696.7L871.78 696.4L872.73 696.4L872.73 696.3L873.69 696.3L873.69 696.3L874.65 696.3L874.65 696.3L875.60 696.3L875.60 696.3L876.56 696.3L876.56 696.4L877.52 696.4L877.52 696.5L878.47 696.5L878.47 696.0L879.43 696.0L879.43 695.8L880.39 695.8L880.39 695.7L881.34 695.7L881.34 695.7L882.30 695.7L882.30 695.7L883.26 695.7L883.26 695.8L884.21 695.8L884.21 695.9L885.17 695.9L885.17 695.0L886.13 695.0L886.13 694.6L887.08 694.6L887.08 694.5L888.04 694.5L888.04 694.4L888.99 694.4L888.99 694.2L889.95 694.2L889.95 694.4L890.91 694.4L890.91 695.0L891.86 695.0L891.86 693.4L892.82 693.4L892.82 693.0L893.78 693.0L893.78 693.0L894.73 693.0L894.73 692.5L895.69 692.5L895.69 692.3L896.65 692.3L896.65 692.6L897.60 692.6L897.60 693.1L898.56 693.1L898.56 691.3L899.52 691.3L899.52 690.7L900.47 690.7L900.47 690.5L901.43 690.5L901.43 690.0L902.39 690.0L902.39 690.0L903.34 690.0L903.34 690.6L904.30 690.6L904.30 691.3L905.26 691.3L905.26 688.7L906.21 688.7L906.21 687.9L907.17 687.9L907.17 687.6L908.12 687.6L908.12 688.4L909.08 688.4L909.08 688.1L910.04 688.1L910.04 689.0L910.99 689.0L910.99 690.4L911.95 690.4L911.95 687.5L912.91 687.5L912.91 686.7L913.86 686.7L913.86 686.9L914.82 686.9L914.82 687.5L915.78 687.5L915.78 687.4L916.73 687.4L916.73 688.5L917.69 688.5L917.69 690.3L918.65 690.3L918.65 686.8L919.60 686.8L919.60 686.3L920.56 686.3L920.56 686.6L921.52 686.6L921.52 686.9L922.47 686.9L922.47 686.9L923.43 686.9L923.43 687.8L924.39 687.8L924.39 690.1L925.34 690.1L925.34 686.3L926.30 686.3L926.30 686.1L927.26 686.1L927.26 686.5L928.21 686.5L928.21 686.7L929.17 686.7L929.17 687.2L930.12 687.2L930.12 687.3L931.08 687.3L931.08 689.0L932.04 689.0L932.04 685.5L932.99 685.5L932.99 685.7L933.95 685.7L933.95 685.5L934.91 685.5L934.91 686.3L935.86 686.3L935.86 686.2L936.82 686.2L936.82 687.5L937.78 687.5L937.78 688.9L938.73 688.9L938.73 685.7L939.69 685.7L939.69 684.0L940.65 684.0L940.65 684.0L941.60 684.0L941.60 684.2L942.56 684.2L942.56 685.3L943.52 685.3L943.52 685.7L944.47 685.7L944.47 688.1L945.43 688.1L945.43 684.4L946.39 684.4L946.39 683.8L947.34 683.8L947.34 683.6L948.30 683.6L948.30 683.8L949.26 683.8L949.26 683.9L950.21 683.9L950.21 685.3L951.17 685.3L951.17 686.6L952.12 686.6L952.12 682.4L953.08 682.4L953.08 681.1L954.04 681.1L954.04 681.5L954.99 681.5L954.99 682.2L955.95 682.2L955.95 683.2L956.91 683.2L956.91 685.5L957.86 685.5L957.86 687.0L958.82 687.0L958.82 683.8L959.78 683.8L959.78 683.8L960.73 683.8L960.73 683.5L961.69 683.5L961.69 684.5L962.65 684.5L962.65 685.6L963.60 685.6L963.60 687.5L964.56 687.5L964.56 689.3L965.52 689.3L965.52 686.0L966.47 686.0L966.47 685.0L967.43 685.0L967.43 685.6L968.39 685.6L968.39 685.9L969.34 685.9L969.34 686.1L970.30 686.1L970.30 687.2L971.26 687.2L971.26 688.4L972.21 688.4L972.21 684.4L973.17 684.4L973.17 684.3L974.12 684.3L974.12 684.6L975.08 684.6L975.08 685.4L976.04 685.4L976.04 685.0L976.99 685.0L976.99 686.8L977.95 686.8L977.95 688.2L978.91 688.2L978.91 685.4L979.86 685.4L979.86 684.7L980.82 684.7L980.82 684.5L981.78 684.5L981.78 685.3L982.73 685.3L982.73 687.1L983.69 687.1L983.69 687.5L984.65 687.5L984.65 689.6L985.60 689.6L985.60 686.9L986.56 686.9L986.56 686.3L987.52 686.3L987.52 686.6L988.47 686.6L988.47 688.1L989.43 688.1L989.43 688.4L990.39 688.4L990.39 689.2L991.34 689.2L991.34 690.9L992.30 690.9L992.30 688.7L993.25 688.7L993.25 689.0L994.21 689.0L994.21 689.2L995.17 689.2L995.17 689.3L996.12 689.3L996.12 690.3L997.08 690.3L997.08 690.9L998.04 690.9L998.04 692.4L998.99 692.4L998.99 690.3L999.95 690.3L999.95 690.4L1000.91 690.4L1000.91 690.5L1001.86 690.5L1001.86 691.0L1002.82 691.0L1002.82 691.1L1003.78 691.1L1003.78 691.9L1004.73 691.9L1004.73 693.2L1005.69 693.2L1005.69 691.3L1006.65 691.3L1006.65 691.6L1007.60 691.6L1007.60 691.8L1008.56 691.8L1008.56 692.1L1009.52 692.1L1009.52 692.4L1010.47 692.4L1010.47 693.2L1011.43 693.2L1011.43 693.9L1012.39 693.9L1012.39 692.3L1013.34 692.3L1013.34 692.1L1014.30 692.1L1014.30 692.4L1015.25 692.4L1015.25 692.3L1016.21 692.3L1016.21 692.7L1017.17 692.7L1017.17 693.5L1018.12 693.5L1018.12 694.1L1019.08 694.1L1019.08 692.8L1020.04 692.8L1020.04 692.7L1020.99 692.7L1020.99 692.5L1021.95 692.5L1021.95 692.8L1022.91 692.8L1022.91 693.0L1023.86 693.0L1023.86 693.4L1024.82 693.4L1024.82 694.0L1025.78 694.0L1025.78 692.2L1026.73 692.2L1026.73 692.0L1027.69 692.0L1027.69 691.9L1028.65 691.9L1028.65 692.3L1029.60 692.3L1029.60 692.2L1030.56 692.2L1030.56 692.7L1031.52 692.7L1031.52 693.4L1032.47 693.4L1032.47 691.7L1033.43 691.7L1033.43 691.1L1034.39 691.1L1034.39 690.5L1035.34 690.5L1035.34 690.4L1036.30 690.4L1036.30 691.0L1037.25 691.0L1037.25 691.1L1038.21 691.1L1038.21 692.4L1039.17 692.4L1039.17 689.9L1040.12 689.9L1040.12 689.5L1041.08 689.5L1041.08 688.9L1042.04 688.9L1042.04 689.3L1042.99 689.3L1042.99 689.2L1043.95 689.2L1043.95 690.4L1044.91 690.4L1044.91 690.9L1045.86 690.9L1045.86 688.2L1046.82 688.2L1046.82 688.0L1047.78 688.0L1047.78 687.4L1048.73 687.4L1048.73 688.1L1049.69 688.1L1049.69 688.4L1050.65 688.4L1050.65 689.4L1051.60 689.4L1051.60 689.9L1052.56 689.9L1052.56 686.8L1053.52 686.8L1053.52 686.9L1054.47 686.9L1054.47 686.2L1055.43 686.2L1055.43 687.0L1056.39 687.0L1056.39 687.3L1057.34 687.3L1057.34 687.7L1058.30 687.7L1058.30 689.3L1059.25 689.3L1059.25 685.9L1060.21 685.9L1060.21 685.5L1061.17 685.5L1061.17 685.9L1062.12 685.9L1062.12 685.4L1063.08 685.4L1063.08 686.5L1064.04 686.5L1064.04 687.4L1064.99 687.4L1064.99 689.1L1065.95 689.1L1065.95 685.3L1066.91 685.3L1066.91 683.9L1067.86 683.9L1067.86 684.7L1068.82 684.7L1068.82 685.1L1069.78 685.1L1069.78 684.8L1070.73 684.8L1070.73 686.4L1071.69 686.4L1071.69 687.9L1072.65 687.9L1072.65 684.2L1073.60 684.2L1073.60 684.0L1074.56 684.0L1074.56 684.2L1075.52 684.2L1075.52 685.1L1076.47 685.1L1076.47 685.7L1077.43 685.7L1077.43 687.6L1078.38 687.6L1078.38 689.4L1079.34 689.4L1079.34 685.9L1080.30 685.9L1080.30 685.9L1081.25 685.9L1081.25 686.3L1082.21 686.3L1082.21 686.6L1083.17 686.6L1083.17 687.3L1084.12 687.3L1084.12 689.0L1085.08 689.0L1085.08 690.4L1086.04 690.4L1086.04 688.7L1086.99 688.7L1086.99 688.5L1087.95 688.5L1087.95 688.3L1088.91 688.3L1088.91 688.9L1089.86 688.9L1089.86 689.7L1090.82 689.7L1090.82 691.1L1091.78 691.1L1091.78 692.0L1092.73 692.0L1092.73 690.3L1093.69 690.3L1093.69 690.6L1094.65 690.6L1094.65 691.1L1095.60 691.1L1095.60 691.4L1096.56 691.4L1096.56 691.8L1097.52 691.8L1097.52 692.9L1098.47 692.9L1098.47 693.6L1099.43 693.6L1099.43 692.5L1100.38 692.5L1100.38 692.3L1101.34 692.3L1101.34 693.0L1102.30 693.0L1102.30 693.1L1103.25 693.1L1103.25 693.4L1104.21 693.4L1104.21 694.2L1105.17 694.2L1105.17 694.8L1106.12 694.8L1106.12 694.0L1107.08 694.0L1107.08 694.1L1108.04 694.1L1108.04 694.3L1108.99 694.3L1108.99 694.5L1109.95 694.5L1109.95 694.9L1110.91 694.9L1110.91 695.2L1111.86 695.2L1111.86 695.8L1112.82 695.8L1112.82 695.2L1113.78 695.2L1113.78 695.3L1114.73 695.3L1114.73 695.4L1115.69 695.4L1115.69 695.7L1116.65 695.7L1116.65 695.8L1117.60 695.8L1117.60 696.2L1118.56 696.2L1118.56 696.5L1119.52 696.5L1119.52 696.2L1120.47 696.2L1120.47 696.2L1121.43 696.2L1121.43 696.4L1122.38 696.4L1122.38 696.4L1123.34 696.4L1123.34 696.6L1124.30 696.6L1124.30 696.7L1125.25 696.7L1125.25 696.9L1126.21 696.9L1126.21 696.7L1127.17 696.7L1127.17 696.7L1128.12 696.7L1128.12 696.8L1129.08 696.8L1129.08 696.9L1130.04 696.9L1130.04 697.0L1130.99 697.0L1130.99 697.1L1131.95 697.1L1131.95 697.2L1132.91 697.2L1132.91 697.0L1133.86 697.0L1133.86 697.0L1134.82 697.0L1134.82 697.0L1135.78 697.0L1135.78 697.1L1136.73 697.1L1136.73 697.1L1137.69 697.1L1137.69 697.1L1138.65 697.1L1138.65 697.2L1139.60 697.2L1139.60 697.1L1140.56 697.1L1140.56 697.1L1141.51 697.1L1141.51 697.1L1142.47 697.1L1142.47 697.1L1143.43 697.1L1143.43 697.1L1144.38 697.1L1144.38 697.2L1145.34 697.2L1145.34 697.2L1146.30 697.2L1146.30 697.1L1147.25 697.1L1147.25 697.0L1148.21 697.0L1148.21 697.0L1149.17 697.0L1149.17 697.0L1150.12 697.0L1150.12 697.0L1151.08 697.0L1151.08 697.0L1152.04 697.0L1152.04 697.0L1152.99 697.0L1152.99 696.8L1153.95 696.8L1153.95 696.8L1154.91 696.8L1154.91 696.7L1155.86 696.7L1155.86 696.7L1156.82 696.7L1156.82 696.7L1157.78 696.7L1157.78 696.8L1158.73 696.8L1158.73 696.9L1159.69 696.9L1159.69 696.6L1160.65 696.6L1160.65 696.5L1161.60 696.5L1161.60 696.5L1162.56 696.5L1162.56 696.4L1163.51 696.4L1163.51 696.3L1164.47 696.3L1164.47 696.4L1165.43 696.4L1165.43 696.5L1166.38 696.5L1166.38 696.1L1167.34 696.1L1167.34 695.9L1168.30 695.9L1168.30 695.9L1169.25 695.9L1169.25 695.8L1170.21 695.8L1170.21 695.7L1171.17 695.7L1171.17 695.9L1172.12 695.9L1172.12 696.1L1173.08 696.1L1173.08 695.3L1174.04 695.3L1174.04 695.0L1174.99 695.0L1174.99 695.0L1175.95 695.0L1175.95 695.0L1176.91 695.0L1176.91 694.9L1177.86 694.9L1177.86 695.0L1178.82 695.0L1178.82 695.2L1179.78 695.2L1179.78 694.4L1180.73 694.4L1180.73 694.1L1181.69 694.1L1181.69 693.9L1182.65 693.9L1182.65 693.8L1183.60 693.8L1183.60 693.9L1184.56 693.9L1184.56 694.2L1185.51 694.2L1185.51 694.7L1186.47 694.7L1186.47 693.5L1187.43 693.5L1187.43 692.9L1188.38 692.9L1188.38 692.9L1189.34 692.9L1189.34 693.1L1190.30 693.1L1190.30 692.9L1191.25 692.9L1191.25 693.5L1192.21 693.5L1192.21 694.0L1193.17 694.0L1193.17 692.5L1194.12 692.5L1194.12 691.9L1195.08 691.9L1195.08 691.8L1196.04 691.8L1196.04 692.1L1196.99 692.1L1196.99 692.2L1197.95 692.2L1197.95 692.6L1198.91 692.6L1198.91 693.1L1199.86 693.1L1199.86 691.7L1200.82 691.7L1200.82 691.7L1201.78 691.7L1201.78 691.5L1202.73 691.5L1202.73 691.6L1203.69 691.6L1203.69 691.7L1204.65 691.7L1204.65 692.7L1205.60 692.7L1205.60 693.5L1206.56 693.5L1206.56 691.8L1207.51 691.8L1207.51 691.8L1208.47 691.8L1208.47 691.9L1209.43 691.9L1209.43 691.6L1210.38 691.6L1210.38 692.3L1211.34 692.3L1211.34 692.7L1212.30 692.7L1212.30 693.4L1213.25 693.4L1213.25 692.1L1214.21 692.1L1214.21 692.1L1215.17 692.1L1215.17 691.8L1216.12 691.8L1216.12 692.4L1217.08 692.4L1217.08 692.4L1218.04 692.4L1218.04 692.9L1218.99 692.9L1218.99 693.9L1219.95 693.9L1219.95 692.5L1220.91 692.5L1220.91 692.3L1221.86 692.3L1221.86 692.3L1222.82 692.3L1222.82 692.5L1223.78 692.5L1223.78 692.8L1224.73 692.8L1224.73 693.1L1225.69 693.1L1225.69 694.0L1226.64 694.0L1226.64 692.3L1227.60 692.3L1227.60 692.1L1228.56 692.1L1228.56 692.4L1229.51 692.4L1229.51 692.3L1230.47 692.3L1230.47 692.5L1231.43 692.5L1231.43 693.0L1232.38 693.0L1232.38 693.9L1233.34 693.9L1233.34 692.3L1234.30 692.3L1234.30 692.0L1235.25 692.0L1235.25 692.2L1236.21 692.2L1236.21 692.1L1237.17 692.1L1237.17 692.4L1238.12 692.4L1238.12 692.7L1239.08 692.7L1239.08 693.5L1240.04 693.5L1240.04 692.0L1240.99 692.0L1240.99 691.5L1241.95 691.5L1241.95 691.6L1242.91 691.6L1242.91 691.5L1243.86 691.5L1243.86 692.0L1244.82 692.0L1244.82 692.2L1245.78 692.2L1245.78 693.1L1246.73 693.1L1246.73 690.6L1247.69 690.6L1247.69 689.5L1248.64 689.5L1248.64 688.9L1249.60 688.9L1249.60 689.3L1250.56 689.3L1250.56 688.7L1251.51 688.7L1251.51 690.0L1252.47 690.0L1252.47 691.3L1253.43 691.3L1253.43 686.6L1254.38 686.6L1254.38 685.4L1255.34 685.4L1255.34 684.9L1256.30 684.9L1256.30 685.2L1257.25 685.2L1257.25 684.5L1258.21 684.5L1258.21 686.1L1259.17 686.1L1259.17 688.3L1260.12 688.3L1260.12 682.1L1261.08 682.1L1261.08 680.0L1262.04 680.0L1262.04 678.1L1262.99 678.1L1262.99 677.8L1263.95 677.8L1263.95 679.5L1264.91 679.5L1264.91 680.3L1265.86 680.3L1265.86 683.4L1266.82 683.4L1266.82 674.3L1267.78 674.3L1267.78 671.3L1268.73 671.3L1268.73 671.2L1269.69 671.2L1269.69 673.2L1270.64 673.2L1270.64 672.2L1271.60 672.2L1271.60 676.4L1272.56 676.4L1272.56 679.5L1273.51 679.5L1273.51 669.8L1274.47 669.8L1274.47 667.1L1275.43 667.1L1275.43 667.4L1276.38 667.4L1276.38 667.6L1277.34 667.6L1277.34 667.7L1278.30 667.7L1278.30 672.5L1279.25 672.5L1279.25 677.5L1280.21 677.5L1280.21 663.7L1281.17 663.7L1281.17 661.5L1282.12 661.5L1282.12 663.1L1283.08 663.1L1283.08 662.5L1284.04 662.5L1284.04 664.7L1284.99 664.7L1284.99 670.8L1285.95 670.8L1285.95 675.0L1286.91 675.0L1286.91 664.2L1287.86 664.2L1287.86 662.9L1288.82 662.9L1288.82 662.7L1289.78 662.7L1289.78 663.0L1290.73 663.0L1290.73 666.9L1291.69 666.9L1291.69 671.9L1292.64 671.9L1292.64 676.7L1293.60 676.7L1293.60 667.5L1294.56 667.5L1294.56 664.6L1295.51 664.6L1295.51 668.1L1296.47 668.1L1296.47 667.5L1297.43 667.5L1297.43 671.9L1298.38 671.9L1298.38 674.5L1299.34 674.5L1299.34 680.8L1300.30 680.8L1300.30 672.0L1301.25 672.0L1301.25 670.6L1302.21 670.6L1302.21 672.5L1303.17 672.5L1303.17 672.5L1304.12 672.5L1304.12 676.7L1305.08 676.7L1305.08 679.9L1306.04 679.9L1306.04 682.9L1306.99 682.9L1306.99 676.1L1307.95 676.1L1307.95 676.6L1308.91 676.6L1308.91 677.4L1309.86 677.4L1309.86 677.5L1310.82 677.5L1310.82 678.9L1311.77 678.9L1311.77 680.8L1312.73 680.8L1312.73 684.5L1313.69 684.5L1313.69 678.5L1314.64 678.5L1314.64 677.0L1315.60 677.0L1315.60 676.4L1316.56 676.4L1316.56 676.6L1317.51 676.6L1317.51 677.1L1318.47 677.1L1318.47 678.2L1319.43 678.2L1319.43 681.5L1320.38 681.5L1320.38 671.3L1321.34 671.3L1321.34 669.2L1322.30 669.2L1322.30 669.6L1323.25 669.6L1323.25 669.5L1324.21 669.5L1324.21 667.7L1325.17 667.7L1325.17 673.1L1326.12 673.1L1326.12 680.2L1327.08 680.2L1327.08 661.6L1328.04 661.6L1328.04 656.9L1328.99 656.9L1328.99 658.3L1329.95 658.3L1329.95 655.0L1330.91 655.0L1330.91 656.5L1331.86 656.5L1331.86 662.8L1332.82 662.8L1332.82 671.7L1333.77 671.7L1333.77 639.7L1334.73 639.7L1334.73 636.8L1335.69 636.8L1335.69 632.3L1336.64 632.3L1336.64 631.7L1337.60 631.7L1337.60 632.0L1338.56 632.0L1338.56 642.9L1339.51 642.9L1339.51 659.0L1340.47 659.0L1340.47 617.7L1341.43 617.7L1341.43 610.2L1342.38 610.2L1342.38 606.9L1343.34 606.9L1343.34 607.9L1344.30 607.9L1344.30 615.1L1345.25 615.1L1345.25 624.4L1346.21 624.4L1346.21 646.1L1347.17 646.1L1347.17 596.2L1348.12 596.2L1348.12 577.1L1349.08 577.1L1349.08 585.8L1350.04 585.8L1350.04 587.9L1350.99 587.9L1350.99 599.4L1351.95 599.4L1351.95 610.6L1352.91 610.6L1352.91 639.5L1353.86 639.5L1353.86 587.3L1354.82 587.3L1354.82 576.9L1355.77 576.9L1355.77 575.8L1356.73 575.8L1356.73 586.0L1357.69 586.0L1357.69 595.9L1358.64 595.9L1358.64 612.3L1359.60 612.3L1359.60 639.6L1360.56 639.6L1360.56 591.7L1361.51 591.7L1361.51 584.4L1362.47 584.4L1362.47 593.5L1363.43 593.5L1363.43 595.7L1364.38 595.7L1364.38 605.0L1365.34 605.0L1365.34 620.9L1366.30 620.9L1366.30 644.2L1367.25 644.2L1367.25 592.4L1368.21 592.4L1368.21 594.7L1369.17 594.7L1369.17 589.1L1370.12 589.1L1370.12 601.5L1371.08 601.5L1371.08 605.5L1372.04 605.5L1372.04 626.5L1372.99 626.5L1372.99 645.6L1373.95 645.6L1373.95 602.7L1374.90 602.7L1374.90 594.4L1375.86 594.4L1375.86 596.6L1376.82 596.6L1376.82 593.5L1377.77 593.5L1377.77 606.2L1378.73 606.2L1378.73 616.3L1379.69 616.3L1379.69 639.7L1380.64 639.7L1380.64 580.8L1381.60 580.8L1381.60 575.8L1382.56 575.8L1382.56 571.8L1383.51 571.8L1383.51 574.8L1384.47 574.8L1384.47 581.1L1385.43 581.1L1385.43 602.3L1386.38 602.3L1386.38 628.8L1387.34 628.8L1387.34 561.4L1388.30 561.4L1388.30 547.3L1389.25 547.3L1389.25 548.5L1390.21 548.5L1390.21 562.3L1391.17 562.3L1391.17 567.9L1392.12 567.9L1392.12 588.7L1393.08 588.7L1393.08 625.0L1394.04 625.0L1394.04 548.7L1394.99 548.7L1394.99 542.4L1395.95 542.4L1395.95 557.0L1396.90 557.0L1396.90 556.0L1397.86 556.0L1397.86 574.9L1398.82 574.9L1398.82 596.5L1399.77 596.5L1399.77 626.9L1400.73 626.9L1400.73 565.5L1401.69 565.5L1401.69 563.4L1402.64 563.4L1402.64 571.2L1403.60 571.2L1403.60 579.2L1404.56 579.2L1404.56 596.9L1405.51 596.9L1405.51 616.4L1406.47 616.4L1406.47 642.2L1407.43 642.2L1407.43 595.1L1408.38 595.1L1408.38 594.7L1409.34 594.7L1409.34 599.5L1410.30 599.5L1410.30 603.8L1411.25 603.8L1411.25 616.1L1412.21 616.1L1412.21 631.9L1413.17 631.9L1413.17 651.8L1414.12 651.8L1414.12 615.8L1415.08 615.8L1415.08 603.0L1416.04 603.0L1416.04 613.5L1416.99 613.5L1416.99 617.6L1417.95 617.6L1417.95 617.7L1418.90 617.7L1418.90 633.7L1419.86 633.7L1419.86 652.8L1420.82 652.8L1420.82 613.6L1421.77 613.6L1421.77 606.9L1422.73 606.9L1422.73 610.4L1423.69 610.4L1423.69 616.8L1424.64 616.8L1424.64 625.5L1425.60 625.5L1425.60 655.1L1426.56 655.1L1426.56 673.8L1427.51 673.8L1427.51 629.9L1428.47 629.9L1428.47 624.1L1429.43 624.1L1429.43 632.1L1430.38 632.1L1430.38 640.7L1431.34 640.7L1431.34 649.0L1432.30 649.0L1432.30 663.6L1433.25 663.6L1433.25 680.8L1434.21 680.8L1434.21 649.7L1435.17 649.7L1435.17 642.4L1436.12 642.4L1436.12 645.6L1437.08 645.6L1437.08 654.3L1438.04 654.3L1438.04 657.6L1438.99 657.6L1438.99 668.8L1439.95 668.8L1439.95 683.0L1440.90 683.0L1440.90 653.8L1441.86 653.8L1441.86 652.1L1442.82 652.1L1442.82 656.6L1443.77 656.6L1443.77 660.8L1444.73 660.8L1444.73 666.5L1445.69 666.5L1445.69 676.6L1446.64 676.6L1446.64 686.0L1447.60 686.0L1447.60 664.6L1448.56 664.6L1448.56 665.2L1449.51 665.2L1449.51 666.4L1450.47 666.4L1450.47 670.1L1451.43 670.1L1451.43 674.8L1452.38 674.8L1452.38 682.6L1453.34 682.6L1453.34 690.0L1454.30 690.0L1454.30 675.6L1455.25 675.6L1455.25 674.8L1456.21 674.8L1456.21 673.9L1457.17 673.9L1457.17 676.6L1458.12 676.6L1458.12 679.1L1459.08 679.1L1459.08 684.0L1460.03 684.0L1460.03 690.1L1460.99 690.1L1460.99 675.1L1461.95 675.1L1461.95 673.2L1462.90 673.2L1462.90 672.2L1463.86 672.2L1463.86 671.7L1464.82 671.7L1464.82 673.7L1465.77 673.7L1465.77 678.7L1466.73 678.7L1466.73 687.0L1467.69 687.0L1467.69 666.0L1468.64 666.0L1468.64 658.2L1469.60 658.2L1469.60 659.8L1470.56 659.8L1470.56 658.9L1471.51 658.9L1471.51 663.7L1472.47 663.7L1472.47 673.5L1473.43 673.5L1473.43 684.1L1474.38 684.1L1474.38 655.5L1475.34 655.5L1475.34 648.5L1476.30 648.5L1476.30 652.8L1477.25 652.8L1477.25 652.5L1478.21 652.5L1478.21 654.4L1479.17 654.4L1479.17 668.4L1480.12 668.4L1480.12 679.7L1481.08 679.7L1481.08 643.6L1482.03 643.6L1482.03 634.4L1482.99 634.4L1482.99 637.8L1483.95 637.8L1483.95 643.5L1484.90 643.5L1484.90 648.1L1485.86 648.1L1485.86 663.5L1486.82 663.5L1486.82 677.4L1487.77 677.4L1487.77 638.3L1488.73 638.3L1488.73 632.0L1489.69 632.0L1489.69 636.8L1490.64 636.8L1490.64 638.7L1491.60 638.7L1491.60 649.4L1491.60 649.4L1491.6 697.5Z" fill="#ffaa00"/>
<path d="M676.65 697.5L676.65 697.5L677.60 697.5L677.60 697.5L678.56 697.5L678.56 697.5L679.52 697.5L679.52 697.4L680.47 697.4L680.47 697.4L681.43 697.4L681.43 697.4L682.39 697.4L682.39 697.4L683.34 697.4L683.34 697.4L684.30 697.4L684.30 697.3L685.26 697.3L685.26 697.2L686.21 697.2L686.21 697.1L687.17 697.1L687.17 696.9L688.13 696.9L688.13 696.8L689.08 696.8L689.08 696.6L690.04 696.6L690.04 696.7L691.00 696.7L691.00 696.3L691.95 696.3L691.95 696.1L692.91 696.1L692.91 695.9L693.87 695.9L693.87 695.6L694.82 695.6L694.82 695.4L695.78 695.4L695.78 695.3L696.73 695.3L696.73 695.4L697.69 695.4L697.69 694.9L698.65 694.9L698.65 694.8L699.60 694.8L699.60 695.0L700.56 695.0L700.56 695.1L701.52 695.1L701.52 694.9L702.47 694.9L702.47 695.0L703.43 695.0L703.43 695.4L704.39 695.4L704.39 695.0L705.34 695.0L705.34 695.2L706.30 695.2L706.30 695.2L707.26 695.2L707.26 695.3L708.21 695.3L708.21 695.3L709.17 695.3L709.17 695.5L710.13 695.5L710.13 695.9L711.08 695.9L711.08 695.6L712.04 695.6L712.04 695.8L713.00 695.8L713.00 695.8L713.95 695.8L713.95 696.0L714.91 696.0L714.91 696.1L715.87 696.1L715.87 696.1L716.82 696.1L716.82 696.4L717.78 696.4L717.78 696.3L718.73 696.3L718.73 696.4L719.69 696.4L719.69 696.4L720.65 696.4L720.65 696.5L721.60 696.5L721.60 696.6L722.56 696.6L722.56 696.7L723.52 696.7L723.52 696.8L724.47 696.8L724.47 696.8L725.43 696.8L725.43 696.9L726.39 696.9L726.39 697.0L727.34 697.0L727.34 697.0L728.30 697.0L728.30 697.0L729.26 697.0L729.26 697.0L730.21 697.0L730.21 697.1L731.17 697.1L731.17 697.1L732.13 697.1L732.13 697.1L733.08 697.1L733.08 697.1L734.04 697.1L734.04 697.1L735.00 697.1L735.00 697.1L735.95 697.1L735.95 697.2L736.91 697.2L736.91 697.2L737.87 697.2L737.87 697.2L738.82 697.2L738.82 697.2L739.78 697.2L739.78 697.2L740.73 697.2L740.73 697.2L741.69 697.2L741.69 697.3L742.65 697.3L742.65 697.3L743.60 697.3L743.60 697.3L744.56 697.3L744.56 697.2L745.52 697.2L745.52 697.3L746.47 697.3L746.47 697.3L747.43 697.3L747.43 697.3L748.39 697.3L748.39 697.3L749.34 697.3L749.34 697.3L750.30 697.3L750.30 697.3L751.26 697.3L751.26 697.3L752.21 697.3L752.21 697.3L753.17 697.3L753.17 697.3L754.13 697.3L754.13 697.3L755.08 697.3L755.08 697.3L756.04 697.3L756.04 697.3L757.00 697.3L757.00 697.3L757.95 697.3L757.95 697.3L758.91 697.3L758.91 697.3L759.86 697.3L759.86 697.3L760.82 697.3L760.82 697.3L761.78 697.3L761.78 697.3L762.73 697.3L762.73 697.3L763.69 697.3L763.69 697.4L764.65 697.4L764.65 697.3L765.60 697.3L765.60 697.3L766.56 697.3L766.56 697.3L767.52 697.3L767.52 697.3L768.47 697.3L768.47 697.3L769.43 697.3L769.43 697.3L770.39 697.3L770.39 697.3L771.34 697.3L771.34 697.3L772.30 697.3L772.30 697.3L773.26 697.3L773.26 697.3L774.21 697.3L774.21 697.3L775.17 697.3L775.17 697.3L776.13 697.3L776.13 697.3L777.08 697.3L777.08 697.3L778.04 697.3L778.04 697.3L779.00 697.3L779.00 697.3L779.95 697.3L779.95 697.3L780.91 697.3L780.91 697.3L781.86 697.3L781.86 697.3L782.82 697.3L782.82 697.3L783.78 697.3L783.78 697.3L784.73 697.3L784.73 697.3L785.69 697.3L785.69 697.3L786.65 697.3L786.65 697.3L787.60 697.3L787.60 697.3L788.56 697.3L788.56 697.3L789.52 697.3L789.52 697.3L790.47 697.3L790.47 697.3L791.43 697.3L791.43 697.3L792.39 697.3L792.39 697.3L793.34 697.3L793.34 697.3L794.30 697.3L794.30 697.3L795.26 697.3L795.26 697.3L796.21 697.3L796.21 697.3L797.17 697.3L797.17 697.3L798.13 697.3L798.13 697.3L799.08 697.3L799.08 697.3L800.04 697.3L800.04 697.3L801.00 697.3L801.00 697.3L801.95 697.3L801.95 697.3L802.91 697.3L802.91 697.3L803.86 697.3L803.86 697.3L804.82 697.3L804.82 697.3L805.78 697.3L805.78 697.3L806.73 697.3L806.73 697.2L807.69 697.2L807.69 697.3L808.65 697.3L808.65 697.2L809.60 697.2L809.60 697.2L810.56 697.2L810.56 697.2L811.52 697.2L811.52 697.2L812.47 697.2L812.47 697.2L813.43 697.2L813.43 697.2L814.39 697.2L814.39 697.2L815.34 697.2L815.34 697.2L816.30 697.2L816.30 697.2L817.26 697.2L817.26 697.2L818.21 697.2L818.21 697.2L819.17 697.2L819.17 697.2L820.13 697.2L820.13 697.2L821.08 697.2L821.08 697.2L822.04 697.2L822.04 697.1L823.00 697.1L823.00 697.1L823.95 697.1L823.95 697.1L824.91 697.1L824.91 697.1L825.86 697.1L825.86 697.1L826.82 697.1L826.82 697.1L827.78 697.1L827.78 697.1L828.73 697.1L828.73 697.1L829.69 697.1L829.69 697.1L830.65 697.1L830.65 697.1L831.60 697.1L831.60 697.1L832.56 697.1L832.56 697.1L833.52 697.1L833.52 697.0L834.47 697.0L834.47 697.1L835.43 697.1L835.43 697.1L836.39 697.1L836.39 697.1L837.34 697.1L837.34 697.1L838.30 697.1L838.30 697.1L839.26 697.1L839.26 697.0L840.21 697.0L840.21 697.0L841.17 697.0L841.17 697.1L842.13 697.1L842.13 697.0L843.08 697.0L843.08 697.0L844.04 697.0L844.04 697.0L844.99 697.0L844.99 697.0L845.95 697.0L845.95 697.0L846.91 697.0L846.91 697.0L847.86 697.0L847.86 697.0L848.82 697.0L848.82 697.0L849.78 697.0L849.78 697.0L850.73 697.0L850.73 697.0L851.69 697.0L851.69 697.0L852.65 697.0L852.65 697.0L853.60 697.0L853.60 697.0L854.56 697.0L854.56 697.0L855.52 697.0L855.52 697.0L856.47 697.0L856.47 697.0L857.43 697.0L857.43 697.0L858.39 697.0L858.39 696.9L859.34 696.9L859.34 697.0L860.30 697.0L860.30 696.9L861.26 696.9L861.26 696.9L862.21 696.9L862.21 696.9L863.17 696.9L863.17 696.9L864.13 696.9L864.13 696.9L865.08 696.9L865.08 696.9L866.04 696.9L866.04 696.9L866.99 696.9L866.99 696.9L867.95 696.9L867.95 696.8L868.91 696.8L868.91 696.9L869.86 696.9L869.86 696.8L870.82 696.8L870.82 696.8L871.78 696.8L871.78 696.8L872.73 696.8L872.73 696.8L873.69 696.8L873.69 696.8L874.65 696.8L874.65 696.7L875.60 696.7L875.60 696.7L876.56 696.7L876.56 696.7L877.52 696.7L877.52 696.7L878.47 696.7L878.47 696.6L879.43 696.6L879.43 696.5L880.39 696.5L880.39 696.4L881.34 696.4L881.34 696.4L882.30 696.4L882.30 696.3L883.26 696.3L883.26 696.4L884.21 696.4L884.21 696.3L885.17 696.3L885.17 696.1L886.13 696.1L886.13 696.0L887.08 696.0L887.08 695.8L888.04 695.8L888.04 695.8L888.99 695.8L888.99 695.8L889.95 695.8L889.95 695.6L890.91 695.6L890.91 695.5L891.86 695.5L891.86 695.3L892.82 695.3L892.82 695.1L893.78 695.1L893.78 695.1L894.73 695.1L894.73 694.8L895.69 694.8L895.69 694.7L896.65 694.7L896.65 694.6L897.60 694.6L897.60 694.6L898.56 694.6L898.56 694.6L899.52 694.6L899.52 694.3L900.47 694.3L900.47 694.0L901.43 694.0L901.43 693.9L902.39 693.9L902.39 693.8L903.34 693.8L903.34 694.0L904.30 694.0L904.30 693.6L905.26 693.6L905.26 693.4L906.21 693.4L906.21 693.5L907.17 693.5L907.17 693.3L908.12 693.3L908.12 693.2L909.08 693.2L909.08 693.3L910.04 693.3L910.04 692.9L910.99 692.9L910.99 693.2L911.95 693.2L911.95 692.9L912.91 692.9L912.91 692.9L913.86 692.9L913.86 693.1L914.82 693.1L914.82 693.0L915.78 693.0L915.78 693.0L916.73 693.0L916.73 693.2L917.69 693.2L917.69 693.1L918.65 693.1L918.65 692.7L919.60 692.7L919.60 692.9L920.56 692.9L920.56 692.8L921.52 692.8L921.52 692.9L922.47 692.9L922.47 692.9L923.43 692.9L923.43 692.5L924.39 692.5L924.39 692.8L925.34 692.8L925.34 692.3L926.30 692.3L926.30 692.7L927.26 692.7L927.26 692.2L928.21 692.2L928.21 692.4L929.17 692.4L929.17 692.4L930.12 692.4L930.12 692.7L931.08 692.7L931.08 692.5L932.04 692.5L932.04 692.1L932.99 692.1L932.99 691.9L933.95 691.9L933.95 692.5L934.91 692.5L934.91 692.1L935.86 692.1L935.86 692.2L936.82 692.2L936.82 692.2L937.78 692.2L937.78 691.9L938.73 691.9L938.73 691.7L939.69 691.7L939.69 692.0L940.65 692.0L940.65 691.5L941.60 691.5L941.60 691.8L942.56 691.8L942.56 691.6L943.52 691.6L943.52 691.5L944.47 691.5L944.47 691.6L945.43 691.6L945.43 691.7L946.39 691.7L946.39 691.0L947.34 691.0L947.34 690.9L948.30 690.9L948.30 691.3L949.26 691.3L949.26 691.4L950.21 691.4L950.21 690.8L951.17 690.8L951.17 691.0L952.12 691.0L952.12 690.6L953.08 690.6L953.08 690.8L954.04 690.8L954.04 691.2L954.99 691.2L954.99 691.0L955.95 691.0L955.95 690.9L956.91 690.9L956.91 691.5L957.86 691.5L957.86 691.6L958.82 691.6L958.82 691.4L959.78 691.4L959.78 691.1L960.73 691.1L960.73 691.5L961.69 691.5L961.69 691.6L962.65 691.6L962.65 691.6L963.60 691.6L963.60 691.8L964.56 691.8L964.56 691.5L965.52 691.5L965.52 691.8L966.47 691.8L966.47 691.2L967.43 691.2L967.43 691.9L968.39 691.9L968.39 692.0L969.34 692.0L969.34 692.1L970.30 692.1L970.30 692.0L971.26 692.0L971.26 691.8L972.21 691.8L972.21 691.9L973.17 691.9L973.17 691.9L974.12 691.9L974.12 692.0L975.08 692.0L975.08 692.1L976.04 692.1L976.04 692.3L976.99 692.3L976.99 692.0L977.95 692.0L977.95 692.4L978.91 692.4L978.91 692.2L979.86 692.2L979.86 692.1L980.82 692.1L980.82 692.0L981.78 692.0L981.78 692.6L982.73 692.6L982.73 692.4L983.69 692.4L983.69 692.7L984.65 692.7L984.65 693.1L985.60 693.1L985.60 692.6L986.56 692.6L986.56 692.7L987.52 692.7L987.52 693.2L988.47 693.2L988.47 693.4L989.43 693.4L989.43 693.3L990.39 693.3L990.39 693.4L991.34 693.4L991.34 693.5L992.30 693.5L992.30 693.6L993.25 693.6L993.25 693.6L994.21 693.6L994.21 693.6L995.17 693.6L995.17 694.0L996.12 694.0L996.12 694.2L997.08 694.2L997.08 694.1L998.04 694.1L998.04 694.5L998.99 694.5L998.99 694.3L999.95 694.3L999.95 694.5L1000.91 694.5L1000.91 694.7L1001.86 694.7L1001.86 694.6L1002.82 694.6L1002.82 694.6L1003.78 694.6L1003.78 694.8L1004.73 694.8L1004.73 695.0L1005.69 695.0L1005.69 694.8L1006.65 694.8L1006.65 695.1L1007.60 695.1L1007.60 695.0L1008.56 695.0L1008.56 695.2L1009.52 695.2L1009.52 695.1L1010.47 695.1L1010.47 695.4L1011.43 695.4L1011.43 695.3L1012.39 695.3L1012.39 695.3L1013.34 695.3L1013.34 695.2L1014.30 695.2L1014.30 695.3L1015.25 695.3L1015.25 695.3L1016.21 695.3L1016.21 695.4L1017.17 695.4L1017.17 695.3L1018.12 695.3L1018.12 695.3L1019.08 695.3L1019.08 695.4L1020.04 695.4L1020.04 695.4L1020.99 695.4L1020.99 695.2L1021.95 695.2L1021.95 695.3L1022.91 695.3L1022.91 695.1L1023.86 695.1L1023.86 695.4L1024.82 695.4L1024.82 695.3L1025.78 695.3L1025.78 695.0L1026.73 695.0L1026.73 694.9L1027.69 694.9L1027.69 695.1L1028.65 695.1L1028.65 694.9L1029.60 694.9L1029.60 695.1L1030.56 695.1L1030.56 695.0L1031.52 695.0L1031.52 694.9L1032.47 694.9L1032.47 694.9L1033.43 694.9L1033.43 694.6L1034.39 694.6L1034.39 694.6L1035.34 694.6L1035.34 694.5L1036.30 694.5L1036.30 694.2L1037.25 694.2L1037.25 694.3L1038.21 694.3L1038.21 694.2L1039.17 694.2L1039.17 693.8L1040.12 693.8L1040.12 693.9L1041.08 693.9L1041.08 694.0L1042.04 694.0L1042.04 693.6L1042.99 693.6L1042.99 693.8L1043.95 693.8L1043.95 693.8L1044.91 693.8L1044.91 693.7L1045.86 693.7L1045.86 693.1L1046.82 693.1L1046.82 693.3L1047.78 693.3L1047.78 693.0L1048.73 693.0L1048.73 692.9L1049.69 692.9L1049.69 693.1L1050.65 693.1L1050.65 692.8L1051.60 692.8L1051.60 692.9L1052.56 692.9L1052.56 693.0L1053.52 693.0L1053.52 692.7L1054.47 692.7L1054.47 692.4L1055.43 692.4L1055.43 692.8L1056.39 692.8L1056.39 692.6L1057.34 692.6L1057.34 692.8L1058.30 692.8L1058.30 692.5L1059.25 692.5L1059.25 692.2L1060.21 692.2L1060.21 692.4L1061.17 692.4L1061.17 692.4L1062.12 692.4L1062.12 692.5L1063.08 692.5L1063.08 692.1L1064.04 692.1L1064.04 692.5L1064.99 692.5L1064.99 692.3L1065.95 692.3L1065.95 691.8L1066.91 691.8L1066.91 691.7L1067.86 691.7L1067.86 692.3L1068.82 692.3L1068.82 692.0L1069.78 692.0L1069.78 692.0L1070.73 692.0L1070.73 692.0L1071.69 692.0L1071.69 692.0L1072.65 692.0L1072.65 691.8L1073.60 691.8L1073.60 692.3L1074.56 692.3L1074.56 692.3L1075.52 692.3L1075.52 692.3L1076.47 692.3L1076.47 692.5L1077.43 692.5L1077.43 692.7L1078.38 692.7L1078.38 692.4L1079.34 692.4L1079.34 692.7L1080.30 692.7L1080.30 692.4L1081.25 692.4L1081.25 693.0L1082.21 693.0L1082.21 692.9L1083.17 692.9L1083.17 693.4L1084.12 693.4L1084.12 693.2L1085.08 693.2L1085.08 693.3L1086.04 693.3L1086.04 693.7L1086.99 693.7L1086.99 693.8L1087.95 693.8L1087.95 693.8L1088.91 693.8L1088.91 694.1L1089.86 694.1L1089.86 694.2L1090.82 694.2L1090.82 694.2L1091.78 694.2L1091.78 694.6L1092.73 694.6L1092.73 694.5L1093.69 694.5L1093.69 694.7L1094.65 694.7L1094.65 694.9L1095.60 694.9L1095.60 694.9L1096.56 694.9L1096.56 695.1L1097.52 695.1L1097.52 695.2L1098.47 695.2L1098.47 695.4L1099.43 695.4L1099.43 695.5L1100.38 695.5L1100.38 695.5L1101.34 695.5L1101.34 695.7L1102.30 695.7L1102.30 695.7L1103.25 695.7L1103.25 695.8L1104.21 695.8L1104.21 695.8L1105.17 695.8L1105.17 696.0L1106.12 696.0L1106.12 695.9L1107.08 695.9L1107.08 696.1L1108.04 696.1L1108.04 696.2L1108.99 696.2L1108.99 696.2L1109.95 696.2L1109.95 696.4L1110.91 696.4L1110.91 696.5L1111.86 696.5L1111.86 696.5L1112.82 696.5L1112.82 696.5L1113.78 696.5L1113.78 696.6L1114.73 696.6L1114.73 696.7L1115.69 696.7L1115.69 696.7L1116.65 696.7L1116.65 696.8L1117.60 696.8L1117.60 696.8L1118.56 696.8L1118.56 696.9L1119.52 696.9L1119.52 697.0L1120.47 697.0L1120.47 697.0L1121.43 697.0L1121.43 697.0L1122.38 697.0L1122.38 697.0L1123.34 697.0L1123.34 697.1L1124.30 697.1L1124.30 697.1L1125.25 697.1L1125.25 697.2L1126.21 697.2L1126.21 697.2L1127.17 697.2L1127.17 697.2L1128.12 697.2L1128.12 697.2L1129.08 697.2L1129.08 697.2L1130.04 697.2L1130.04 697.2L1130.99 697.2L1130.99 697.3L1131.95 697.3L1131.95 697.3L1132.91 697.3L1132.91 697.3L1133.86 697.3L1133.86 697.3L1134.82 697.3L1134.82 697.2L1135.78 697.2L1135.78 697.3L1136.73 697.3L1136.73 697.3L1137.69 697.3L1137.69 697.3L1138.65 697.3L1138.65 697.3L1139.60 697.3L1139.60 697.3L1140.56 697.3L1140.56 697.3L1141.51 697.3L1141.51 697.3L1142.47 697.3L1142.47 697.3L1143.43 697.3L1143.43 697.3L1144.38 697.3L1144.38 697.3L1145.34 697.3L1145.34 697.3L1146.30 697.3L1146.30 697.3L1147.25 697.3L1147.25 697.3L1148.21 697.3L1148.21 697.2L1149.17 697.2L1149.17 697.2L1150.12 697.2L1150.12 697.2L1151.08 697.2L1151.08 697.2L1152.04 697.2L1152.04 697.2L1152.99 697.2L1152.99 697.2L1153.95 697.2L1153.95 697.1L1154.91 697.1L1154.91 697.1L1155.86 697.1L1155.86 697.1L1156.82 697.1L1156.82 697.1L1157.78 697.1L1157.78 697.1L1158.73 697.1L1158.73 697.1L1159.69 697.1L1159.69 697.1L1160.65 697.1L1160.65 697.0L1161.60 697.0L1161.60 697.0L1162.56 697.0L1162.56 696.9L1163.51 696.9L1163.51 696.9L1164.47 696.9L1164.47 696.9L1165.43 696.9L1165.43 696.8L1166.38 696.8L1166.38 696.8L1167.34 696.8L1167.34 696.7L1168.30 696.7L1168.30 696.7L1169.25 696.7L1169.25 696.6L1170.21 696.6L1170.21 696.5L1171.17 696.5L1171.17 696.5L1172.12 696.5L1172.12 696.5L1173.08 696.5L1173.08 696.4L1174.04 696.4L1174.04 696.3L1174.99 696.3L1174.99 696.2L1175.95 696.2L1175.95 696.1L1176.91 696.1L1176.91 696.2L1177.86 696.2L1177.86 696.1L1178.82 696.1L1178.82 696.0L1179.78 696.0L1179.78 695.9L1180.73 695.9L1180.73 695.9L1181.69 695.9L1181.69 695.9L1182.65 695.9L1182.65 695.8L1183.60 695.8L1183.60 695.6L1184.56 695.6L1184.56 695.6L1185.51 695.6L1185.51 695.7L1186.47 695.7L1186.47 695.5L1187.43 695.5L1187.43 695.4L1188.38 695.4L1188.38 695.2L1189.34 695.2L1189.34 695.3L1190.30 695.3L1190.30 695.3L1191.25 695.3L1191.25 695.2L1192.21 695.2L1192.21 695.2L1193.17 695.2L1193.17 695.0L1194.12 695.0L1194.12 695.0L1195.08 695.0L1195.08 694.9L1196.04 694.9L1196.04 694.7L1196.99 694.7L1196.99 694.9L1197.95 694.9L1197.95 694.7L1198.91 694.7L1198.91 694.7L1199.86 694.7L1199.86 694.8L1200.82 694.8L1200.82 694.7L1201.78 694.7L1201.78 694.8L1202.73 694.8L1202.73 694.8L1203.69 694.8L1203.69 694.7L1204.65 694.7L1204.65 694.7L1205.60 694.7L1205.60 694.9L1206.56 694.9L1206.56 694.9L1207.51 694.9L1207.51 694.7L1208.47 694.7L1208.47 694.8L1209.43 694.8L1209.43 694.9L1210.38 694.9L1210.38 694.8L1211.34 694.8L1211.34 694.9L1212.30 694.9L1212.30 695.1L1213.25 695.1L1213.25 695.0L1214.21 695.0L1214.21 694.8L1215.17 694.8L1215.17 694.9L1216.12 694.9L1216.12 694.9L1217.08 694.9L1217.08 695.0L1218.04 695.0L1218.04 695.0L1218.99 695.0L1218.99 695.2L1219.95 695.2L1219.95 695.2L1220.91 695.2L1220.91 695.0L1221.86 695.0L1221.86 695.0L1222.82 695.0L1222.82 695.2L1223.78 695.2L1223.78 695.1L1224.73 695.1L1224.73 695.1L1225.69 695.1L1225.69 695.1L1226.64 695.1L1226.64 695.1L1227.60 695.1L1227.60 695.2L1228.56 695.2L1228.56 695.1L1229.51 695.1L1229.51 694.9L1230.47 694.9L1230.47 695.1L1231.43 695.1L1231.43 695.1L1232.38 695.1L1232.38 694.9L1233.34 694.9L1233.34 694.9L1234.30 694.9L1234.30 694.8L1235.25 694.8L1235.25 694.8L1236.21 694.8L1236.21 694.8L1237.17 694.8L1237.17 694.8L1238.12 694.8L1238.12 694.9L1239.08 694.9L1239.08 694.8L1240.04 694.8L1240.04 694.5L1240.99 694.5L1240.99 694.8L1241.95 694.8L1241.95 694.4L1242.91 694.4L1242.91 694.7L1243.86 694.7L1243.86 694.7L1244.82 694.7L1244.82 694.5L1245.78 694.5L1245.78 694.3L1246.73 694.3L1246.73 694.1L1247.69 694.1L1247.69 693.8L1248.64 693.8L1248.64 693.5L1249.60 693.5L1249.60 693.4L1250.56 693.4L1250.56 693.2L1251.51 693.2L1251.51 693.4L1252.47 693.4L1252.47 693.4L1253.43 693.4L1253.43 692.6L1254.38 692.6L1254.38 692.3L1255.34 692.3L1255.34 692.3L1256.30 692.3L1256.30 692.2L1257.25 692.2L1257.25 691.9L1258.21 691.9L1258.21 691.6L1259.17 691.6L1259.17 691.5L1260.12 691.5L1260.12 690.6L1261.08 690.6L1261.08 690.6L1262.04 690.6L1262.04 690.1L1262.99 690.1L1262.99 689.7L1263.95 689.7L1263.95 689.6L1264.91 689.6L1264.91 689.1L1265.86 689.1L1265.86 689.0L1266.82 689.0L1266.82 688.9L1267.78 688.9L1267.78 688.8L1268.73 688.8L1268.73 688.5L1269.69 688.5L1269.69 688.3L1270.64 688.3L1270.64 687.3L1271.60 687.3L1271.60 687.8L1272.56 687.8L1272.56 687.4L1273.51 687.4L1273.51 687.2L1274.47 687.2L1274.47 686.5L1275.43 686.5L1275.43 686.2L1276.38 686.2L1276.38 687.0L1277.34 687.0L1277.34 686.5L1278.30 686.5L1278.30 686.3L1279.25 686.3L1279.25 686.2L1280.21 686.2L1280.21 685.5L1281.17 685.5L1281.17 685.9L1282.12 685.9L1282.12 686.0L1283.08 686.0L1283.08 686.5L1284.04 686.5L1284.04 686.8L1284.99 686.8L1284.99 686.7L1285.95 686.7L1285.95 686.7L1286.91 686.7L1286.91 685.9L1287.86 685.9L1287.86 686.5L1288.82 686.5L1288.82 686.2L1289.78 686.2L1289.78 686.5L1290.73 686.5L1290.73 687.3L1291.69 687.3L1291.69 687.1L1292.64 687.1L1292.64 687.8L1293.60 687.8L1293.60 688.1L1294.56 688.1L1294.56 688.2L1295.51 688.2L1295.51 688.6L1296.47 688.6L1296.47 689.2L1297.43 689.2L1297.43 689.5L1298.38 689.5L1298.38 689.4L1299.34 689.4L1299.34 690.4L1300.30 690.4L1300.30 690.3L1301.25 690.3L1301.25 690.6L1302.21 690.6L1302.21 690.8L1303.17 690.8L1303.17 690.6L1304.12 690.6L1304.12 690.7L1305.08 690.7L1305.08 691.4L1306.04 691.4L1306.04 691.5L1306.99 691.5L1306.99 691.7L1307.95 691.7L1307.95 691.7L1308.91 691.7L1308.91 692.0L1309.86 692.0L1309.86 692.1L1310.82 692.1L1310.82 691.6L1311.77 691.6L1311.77 691.9L1312.73 691.9L1312.73 692.0L1313.69 692.0L1313.69 691.6L1314.64 691.6L1314.64 691.4L1315.60 691.4L1315.60 691.5L1316.56 691.5L1316.56 691.0L1317.51 691.0L1317.51 691.2L1318.47 691.2L1318.47 690.6L1319.43 690.6L1319.43 690.6L1320.38 690.6L1320.38 690.1L1321.34 690.1L1321.34 690.0L1322.30 690.0L1322.30 689.5L1323.25 689.5L1323.25 689.4L1324.21 689.4L1324.21 688.7L1325.17 688.7L1325.17 689.0L1326.12 689.0L1326.12 688.6L1327.08 688.6L1327.08 687.7L1328.04 687.7L1328.04 686.6L1328.99 686.6L1328.99 686.5L1329.95 686.5L1329.95 686.4L1330.91 686.4L1330.91 685.1L1331.86 685.1L1331.86 685.4L1332.82 685.4L1332.82 684.8L1333.77 684.8L1333.77 683.9L1334.73 683.9L1334.73 683.1L1335.69 683.1L1335.69 682.7L1336.64 682.7L1336.64 682.8L1337.60 682.8L1337.60 683.0L1338.56 683.0L1338.56 682.5L1339.51 682.5L1339.51 683.2L1340.47 683.2L1340.47 682.2L1341.43 682.2L1341.43 681.8L1342.38 681.8L1342.38 683.5L1343.34 683.5L1343.34 683.0L1344.30 683.0L1344.30 683.2L1345.25 683.2L1345.25 683.0L1346.21 683.0L1346.21 684.2L1347.17 684.2L1347.17 682.6L1348.12 682.6L1348.12 682.9L1349.08 682.9L1349.08 682.6L1350.04 682.6L1350.04 683.7L1350.99 683.7L1350.99 683.0L1351.95 683.0L1351.95 683.6L1352.91 683.6L1352.91 684.2L1353.86 684.2L1353.86 682.8L1354.82 682.8L1354.82 683.3L1355.77 683.3L1355.77 683.2L1356.73 683.2L1356.73 684.2L1357.69 684.2L1357.69 684.7L1358.64 684.7L1358.64 684.7L1359.60 684.7L1359.60 685.3L1360.56 685.3L1360.56 684.6L1361.51 684.6L1361.51 684.7L1362.47 684.7L1362.47 683.9L1363.43 683.9L1363.43 684.8L1364.38 684.8L1364.38 684.6L1365.34 684.6L1365.34 684.6L1366.30 684.6L1366.30 685.5L1367.25 685.5L1367.25 684.0L1368.21 684.0L1368.21 684.0L1369.17 684.0L1369.17 684.2L1370.12 684.2L1370.12 684.2L1371.08 684.2L1371.08 685.5L1372.04 685.5L1372.04 684.2L1372.99 684.2L1372.99 685.5L1373.95 685.5L1373.95 684.9L1374.90 684.9L1374.90 683.7L1375.86 683.7L1375.86 684.6L1376.82 684.6L1376.82 683.6L1377.77 683.6L1377.77 683.4L1378.73 683.4L1378.73 683.8L1379.69 683.8L1379.69 683.9L1380.64 683.9L1380.64 683.1L1381.60 683.1L1381.60 683.2L1382.56 683.2L1382.56 683.1L1383.51 683.1L1383.51 682.9L1384.47 682.9L1384.47 684.0L1385.43 684.0L1385.43 684.4L1386.38 684.4L1386.38 684.9L1387.34 684.9L1387.34 683.9L1388.30 683.9L1388.30 683.2L1389.25 683.2L1389.25 682.5L1390.21 682.5L1390.21 682.7L1391.17 682.7L1391.17 683.6L1392.12 683.6L1392.12 683.8L1393.08 683.8L1393.08 685.1L1394.04 685.1L1394.04 685.2L1394.99 685.2L1394.99 684.6L1395.95 684.6L1395.95 685.0L1396.90 685.0L1396.90 685.0L1397.86 685.0L1397.86 685.5L1398.82 685.5L1398.82 686.8L1399.77 686.8L1399.77 688.0L1400.73 688.0L1400.73 687.1L1401.69 687.1L1401.69 687.2L1402.64 687.2L1402.64 688.0L1403.60 688.0L1403.60 688.0L1404.56 688.0L1404.56 688.8L1405.51 688.8L1405.51 689.1L1406.47 689.1L1406.47 689.9L1407.43 689.9L1407.43 689.6L1408.38 689.6L1408.38 690.0L1409.34 690.0L1409.34 689.7L1410.30 689.7L1410.30 690.2L1411.25 690.2L1411.25 690.8L1412.21 690.8L1412.21 690.9L1413.17 690.9L1413.17 691.1L1414.12 691.1L1414.12 691.0L1415.08 691.0L1415.08 691.3L1416.04 691.3L1416.04 691.7L1416.99 691.7L1416.99 692.0L1417.95 692.0L1417.95 692.0L1418.90 692.0L1418.90 692.1L1419.86 692.1L1419.86 692.6L1420.82 692.6L1420.82 692.4L1421.77 692.4L1421.77 692.5L1422.73 692.5L1422.73 692.9L1423.69 692.9L1423.69 692.9L1424.64 692.9L1424.64 693.2L1425.60 693.2L1425.60 693.5L1426.56 693.5L1426.56 693.4L1427.51 693.4L1427.51 693.4L1428.47 693.4L1428.47 693.3L1429.43 693.3L1429.43 693.7L1430.38 693.7L1430.38 693.8L1431.34 693.8L1431.34 693.9L1432.30 693.9L1432.30 693.8L1433.25 693.8L1433.25 694.2L1434.21 694.2L1434.21 694.2L1435.17 694.2L1435.17 694.0L1436.12 694.0L1436.12 694.2L1437.08 694.2L1437.08 694.3L1438.04 694.3L1438.04 694.2L1438.99 694.2L1438.99 694.5L1439.95 694.5L1439.95 694.8L1440.90 694.8L1440.90 694.6L1441.86 694.6L1441.86 694.8L1442.82 694.8L1442.82 694.7L1443.77 694.7L1443.77 694.7L1444.73 694.7L1444.73 694.9L1445.69 694.9L1445.69 695.3L1446.64 695.3L1446.64 695.4L1447.60 695.4L1447.60 695.3L1448.56 695.3L1448.56 695.2L1449.51 695.2L1449.51 695.3L1450.47 695.3L1450.47 695.6L1451.43 695.6L1451.43 695.5L1452.38 695.5L1452.38 695.5L1453.34 695.5L1453.34 695.6L1454.30 695.6L1454.30 695.7L1455.25 695.7L1455.25 695.6L1456.21 695.6L1456.21 695.8L1457.17 695.8L1457.17 695.7L1458.12 695.7L1458.12 695.7L1459.08 695.7L1459.08 696.0L1460.03 696.0L1460.03 696.0L1460.99 696.0L1460.99 695.7L1461.95 695.7L1461.95 695.6L1462.90 695.6L1462.90 695.5L1463.86 695.5L1463.86 695.4L1464.82 695.4L1464.82 695.3L1465.77 695.3L1465.77 695.2L1466.73 695.2L1466.73 695.3L1467.69 695.3L1467.69 694.8L1468.64 694.8L1468.64 694.7L1469.60 694.7L1469.60 694.7L1470.56 694.7L1470.56 694.6L1471.51 694.6L1471.51 694.7L1472.47 694.7L1472.47 694.5L1473.43 694.5L1473.43 694.6L1474.38 694.6L1474.38 694.2L1475.34 694.2L1475.34 694.3L1476.30 694.3L1476.30 694.3L1477.25 694.3L1477.25 694.1L1478.21 694.1L1478.21 694.0L1479.17 694.0L1479.17 694.0L1480.12 694.0L1480.12 694.0L1481.08 694.0L1481.08 694.0L1482.03 694.0L1482.03 693.7L1482.99 693.7L1482.99 693.6L1483.95 693.6L1483.95 694.0L1484.90 694.0L1484.90 693.7L1485.86 693.7L1485.86 693.7L1486.82 693.7L1486.82 694.4L1487.77 694.4L1487.77 694.4L1488.73 694.4L1488.73 694.9L1489.69 694.9L1489.69 695.5L1490.64 695.5L1490.64 696.4L1491.60 696.4L1491.60 697.2L1491.60 697.2L1491.6 697.5Z" fill="#0a4ca3"/>
<line x1="676.4" y1="477" x2="676.4" y2="697.5" stroke="#6e6e6e" stroke-width="1"/>
<line x1="671.4" y1="697.5" x2="1491.6" y2="697.5" stroke="#8a8a8a" stroke-width="1"/>
<circle cx="676.4" cy="484" r="7.5" fill="#fff" stroke="#d0d0d0" stroke-width="0.5"/>
<path d="M675.1 480.5V487.5M677.6999999999999 480.5V487.5" stroke="#555" stroke-width="0.9"/>
<circle cx="1491.6" cy="484" r="7.5" fill="#fff" stroke="#d0d0d0" stroke-width="0.5"/>
<path d="M1490.3 480.5V487.5M1492.8999999999999 480.5V487.5" stroke="#555" stroke-width="0.9"/>
<circle cx="972.5" cy="749" r="7.5" fill="#0a4ca3"/><text x="985" y="753.5" font-size="11.2" fill="#fff">Erkrankungsdatum</text>
<circle cx="1102" cy="749" r="7.5" fill="#ffaa00"/><text x="1114" y="753.5" font-size="11.2" fill="#fff">Meldedatum</text>
</svg>
</body>
</html>
